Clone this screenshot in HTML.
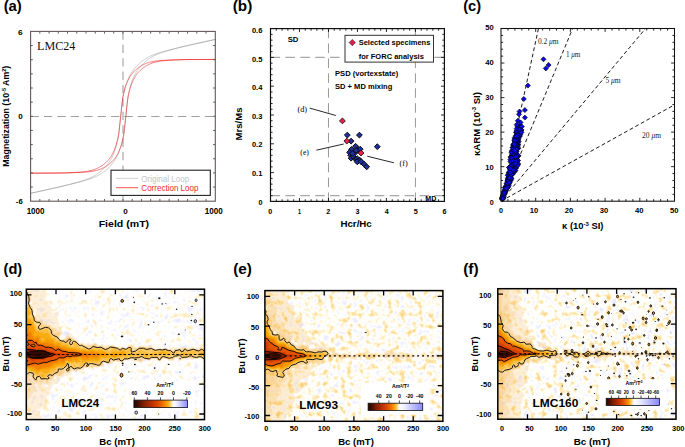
<!DOCTYPE html>
<html><head><meta charset="utf-8"><style>
html,body{margin:0;padding:0;background:#fff;overflow:hidden}
svg{display:block}
</style></head><body>
<svg width="685" height="447" viewBox="0 0 685 447">
<line x1="30.60" y1="116.50" x2="215.30" y2="116.50" stroke="#a0a0a0" stroke-width="1.1" stroke-dasharray="8.3 5.1"/>
<line x1="123.00" y1="31.40" x2="123.00" y2="201.20" stroke="#a0a0a0" stroke-width="1.1" stroke-dasharray="8.3 5.1"/>
<path d="M30.90,193.25 L33.13,192.76 L35.36,192.27 L37.59,191.77 L39.82,191.28 L42.05,190.78 L44.27,190.29 L46.50,189.79 L48.73,189.29 L50.96,188.80 L53.19,188.30 L55.42,187.80 L57.65,187.30 L59.88,186.78 L62.11,186.24 L64.34,185.68 L66.57,185.12 L68.80,184.54 L71.02,183.97 L73.25,183.39 L75.48,182.79 L77.71,182.17 L79.94,181.53 L82.17,180.86 L84.40,180.16 L86.63,179.37 L88.86,178.48 L91.09,177.49 L93.32,176.39 L95.55,175.08 L95.55,175.08 L95.82,174.91 L96.10,174.73 L96.38,174.55 L96.66,174.36 L96.94,174.17 L97.22,173.98 L97.49,173.79 L97.77,173.59 L98.05,173.39 L98.33,173.19 L98.61,172.99 L98.89,172.79 L99.16,172.58 L99.44,172.37 L99.72,172.16 L100.00,171.94 L100.28,171.72 L100.56,171.49 L100.84,171.26 L101.11,171.03 L101.39,170.79 L101.67,170.55 L101.95,170.30 L102.23,170.05 L102.51,169.79 L102.78,169.53 L103.06,169.26 L103.34,168.99 L103.62,168.71 L103.90,168.43 L104.18,168.14 L104.46,167.85 L104.73,167.55 L105.01,167.25 L105.29,166.94 L105.57,166.63 L105.85,166.31 L106.13,165.99 L106.40,165.66 L106.68,165.33 L106.96,164.99 L107.24,164.65 L107.52,164.30 L107.80,163.94 L108.07,163.58 L108.35,163.21 L108.63,162.84 L108.91,162.47 L109.19,162.08 L109.47,161.68 L109.75,161.26 L110.02,160.83 L110.30,160.38 L110.58,159.91 L110.86,159.43 L111.14,158.93 L111.42,158.42 L111.69,157.88 L111.97,157.33 L112.25,156.76 L112.53,156.17 L112.81,155.57 L113.09,154.94 L113.37,154.29 L113.64,153.63 L113.92,152.94 L114.20,152.24 L114.48,151.50 L114.76,150.74 L115.04,149.95 L115.31,149.13 L115.59,148.26 L115.87,147.36 L116.15,146.40 L116.43,145.40 L116.71,144.35 L116.99,143.25 L117.26,142.08 L117.54,140.86 L117.82,139.57 L118.10,138.21 L118.38,136.78 L118.66,135.07 L118.93,132.98 L119.21,130.62 L119.49,128.04 L119.77,125.35 L120.05,122.62 L120.33,119.94 L120.60,117.38 L120.88,114.90 L121.16,112.26 L121.44,109.54 L121.72,106.82 L122.00,104.19 L122.28,101.72 L122.55,99.51 L122.83,97.63 L123.11,96.12 L123.39,94.73 L123.67,93.41 L123.95,92.16 L124.22,90.97 L124.50,89.84 L124.78,88.76 L125.06,87.74 L125.34,86.77 L125.62,85.85 L125.90,84.96 L126.17,84.12 L126.45,83.32 L126.73,82.54 L127.01,81.80 L127.29,81.08 L127.57,80.39 L127.84,79.71 L128.12,79.06 L128.40,78.42 L128.68,77.81 L128.96,77.21 L129.24,76.64 L129.51,76.08 L129.79,75.53 L130.07,75.01 L130.35,74.51 L130.63,74.02 L130.91,73.54 L131.19,73.09 L131.46,72.65 L131.74,72.22 L132.02,71.82 L132.30,71.42 L132.58,71.04 L132.86,70.67 L133.13,70.30 L133.41,69.94 L133.69,69.58 L133.97,69.23 L134.25,68.88 L134.53,68.54 L134.81,68.20 L135.08,67.87 L135.36,67.55 L135.64,67.23 L135.92,66.91 L136.20,66.60 L136.48,66.30 L136.75,66.00 L137.03,65.71 L137.31,65.42 L137.59,65.13 L137.87,64.86 L138.15,64.58 L138.43,64.31 L138.70,64.05 L138.98,63.79 L139.26,63.53 L139.54,63.28 L139.82,63.04 L140.10,62.80 L140.37,62.56 L140.65,62.33 L140.93,62.10 L141.21,61.88 L141.49,61.66 L141.77,61.45 L142.04,61.24 L142.32,61.03 L142.60,60.82 L142.88,60.62 L143.16,60.42 L143.44,60.22 L143.72,60.02 L143.99,59.83 L144.27,59.63 L144.55,59.45 L144.83,59.26 L145.11,59.08 L145.39,58.89 L145.66,58.72 L145.94,58.54 L146.22,58.37 L146.50,58.20 L146.78,58.03 L147.06,57.87 L147.34,57.71 L147.61,57.55 L147.89,57.40 L148.17,57.25 L148.45,57.10 L148.73,56.96 L149.01,56.82 L149.28,56.68 L149.56,56.55 L149.84,56.42 L150.12,56.29 L150.40,56.16 L150.68,56.03 L150.96,55.91 L150.96,55.91 L153.18,54.95 L155.41,54.09 L157.64,53.34 L159.87,52.65 L162.10,51.99 L164.33,51.35 L166.56,50.74 L168.79,50.15 L171.02,49.57 L173.25,49.00 L175.48,48.43 L177.70,47.87 L179.93,47.32 L182.16,46.78 L184.39,46.26 L186.62,45.76 L188.85,45.27 L191.08,44.77 L193.31,44.27 L195.54,43.78 L197.77,43.28 L200.00,42.79 L202.23,42.29 L204.45,41.80 L206.68,41.30 L208.91,40.81 L211.14,40.31 L213.37,39.82 L215.60,39.33" fill="none" stroke="#8c8c8c" stroke-width="0.45"/>
<path d="M30.90,193.27 L33.13,192.78 L35.36,192.29 L37.59,191.79 L39.82,191.30 L42.05,190.80 L44.27,190.31 L46.50,189.81 L48.73,189.32 L50.96,188.82 L53.19,188.33 L55.42,187.83 L57.65,187.33 L59.88,186.84 L62.11,186.34 L64.34,185.82 L66.57,185.28 L68.80,184.73 L71.02,184.17 L73.25,183.60 L75.48,183.03 L77.71,182.45 L79.94,181.86 L82.17,181.25 L84.40,180.61 L86.63,179.95 L88.86,179.26 L91.09,178.51 L93.32,177.65 L95.55,176.69 L95.55,176.69 L95.82,176.57 L96.10,176.44 L96.38,176.31 L96.66,176.18 L96.94,176.05 L97.22,175.92 L97.49,175.78 L97.77,175.64 L98.05,175.50 L98.33,175.35 L98.61,175.20 L98.89,175.05 L99.16,174.89 L99.44,174.73 L99.72,174.57 L100.00,174.40 L100.28,174.23 L100.56,174.06 L100.84,173.88 L101.11,173.71 L101.39,173.52 L101.67,173.34 L101.95,173.15 L102.23,172.97 L102.51,172.77 L102.78,172.58 L103.06,172.38 L103.34,172.18 L103.62,171.98 L103.90,171.78 L104.18,171.57 L104.46,171.36 L104.73,171.15 L105.01,170.94 L105.29,170.72 L105.57,170.50 L105.85,170.27 L106.13,170.04 L106.40,169.80 L106.68,169.56 L106.96,169.32 L107.24,169.07 L107.52,168.81 L107.80,168.55 L108.07,168.29 L108.35,168.02 L108.63,167.74 L108.91,167.47 L109.19,167.18 L109.47,166.89 L109.75,166.60 L110.02,166.30 L110.30,166.00 L110.58,165.69 L110.86,165.37 L111.14,165.05 L111.42,164.73 L111.69,164.40 L111.97,164.06 L112.25,163.72 L112.53,163.37 L112.81,163.02 L113.09,162.66 L113.37,162.30 L113.64,161.93 L113.92,161.56 L114.20,161.18 L114.48,160.78 L114.76,160.38 L115.04,159.95 L115.31,159.51 L115.59,159.06 L115.87,158.58 L116.15,158.09 L116.43,157.59 L116.71,157.07 L116.99,156.52 L117.26,155.96 L117.54,155.39 L117.82,154.79 L118.10,154.18 L118.38,153.54 L118.66,152.89 L118.93,152.21 L119.21,151.52 L119.49,150.80 L119.77,150.06 L120.05,149.28 L120.33,148.48 L120.60,147.64 L120.88,146.75 L121.16,145.83 L121.44,144.86 L121.72,143.84 L122.00,142.76 L122.28,141.63 L122.55,140.44 L122.83,139.19 L123.11,137.87 L123.39,136.48 L123.67,134.97 L123.95,133.09 L124.22,130.88 L124.50,128.41 L124.78,125.78 L125.06,123.06 L125.34,120.34 L125.62,117.70 L125.90,115.22 L126.17,112.66 L126.45,109.98 L126.73,107.25 L127.01,104.56 L127.29,101.98 L127.57,99.62 L127.84,97.53 L128.12,95.82 L128.40,94.39 L128.68,93.03 L128.96,91.74 L129.24,90.52 L129.51,89.35 L129.79,88.25 L130.07,87.20 L130.35,86.20 L130.63,85.24 L130.91,84.34 L131.19,83.47 L131.46,82.65 L131.74,81.86 L132.02,81.10 L132.30,80.36 L132.58,79.66 L132.86,78.97 L133.13,78.31 L133.41,77.66 L133.69,77.03 L133.97,76.43 L134.25,75.84 L134.53,75.27 L134.81,74.72 L135.08,74.18 L135.36,73.67 L135.64,73.17 L135.92,72.69 L136.20,72.22 L136.48,71.77 L136.75,71.34 L137.03,70.92 L137.31,70.52 L137.59,70.13 L137.87,69.76 L138.15,69.39 L138.43,69.02 L138.70,68.66 L138.98,68.30 L139.26,67.95 L139.54,67.61 L139.82,67.27 L140.10,66.94 L140.37,66.61 L140.65,66.29 L140.93,65.97 L141.21,65.66 L141.49,65.35 L141.77,65.05 L142.04,64.75 L142.32,64.46 L142.60,64.17 L142.88,63.89 L143.16,63.61 L143.44,63.34 L143.72,63.07 L143.99,62.81 L144.27,62.55 L144.55,62.30 L144.83,62.05 L145.11,61.81 L145.39,61.57 L145.66,61.34 L145.94,61.11 L146.22,60.88 L146.50,60.66 L146.78,60.44 L147.06,60.23 L147.34,60.02 L147.61,59.81 L147.89,59.61 L148.17,59.41 L148.45,59.21 L148.73,59.01 L149.01,58.81 L149.28,58.62 L149.56,58.43 L149.84,58.24 L150.12,58.05 L150.40,57.87 L150.68,57.69 L150.96,57.52 L150.96,57.52 L153.18,56.21 L155.41,55.11 L157.64,54.12 L159.87,53.23 L162.10,52.44 L164.33,51.74 L166.56,51.07 L168.79,50.43 L171.02,49.81 L173.25,49.21 L175.48,48.63 L177.70,48.06 L179.93,47.48 L182.16,46.92 L184.39,46.36 L186.62,45.82 L188.85,45.30 L191.08,44.80 L193.31,44.30 L195.54,43.80 L197.77,43.31 L200.00,42.81 L202.23,42.31 L204.45,41.82 L206.68,41.32 L208.91,40.83 L211.14,40.33 L213.37,39.84 L215.60,39.35" fill="none" stroke="#8c8c8c" stroke-width="0.45"/>
<path d="M30.90,173.16 L33.13,173.15 L35.36,173.14 L37.59,173.13 L39.82,173.12 L42.05,173.11 L44.27,173.10 L46.50,173.09 L48.73,173.08 L50.96,173.07 L53.19,173.06 L55.42,173.04 L57.65,173.03 L59.88,172.99 L62.11,172.93 L64.34,172.86 L66.57,172.78 L68.80,172.70 L71.02,172.61 L73.25,172.51 L75.48,172.40 L77.71,172.26 L79.94,172.11 L82.17,171.92 L84.40,171.71 L86.63,171.40 L88.86,170.99 L91.09,170.50 L93.32,169.88 L95.55,169.06 L95.55,169.06 L95.82,168.94 L96.10,168.82 L96.38,168.70 L96.66,168.57 L96.94,168.45 L97.22,168.32 L97.49,168.18 L97.77,168.05 L98.05,167.91 L98.33,167.77 L98.61,167.63 L98.89,167.48 L99.16,167.34 L99.44,167.19 L99.72,167.04 L100.00,166.88 L100.28,166.72 L100.56,166.56 L100.84,166.39 L101.11,166.21 L101.39,166.04 L101.67,165.85 L101.95,165.66 L102.23,165.47 L102.51,165.28 L102.78,165.07 L103.06,164.87 L103.34,164.66 L103.62,164.44 L103.90,164.22 L104.18,163.99 L104.46,163.76 L104.73,163.52 L105.01,163.28 L105.29,163.04 L105.57,162.78 L105.85,162.53 L106.13,162.27 L106.40,162.00 L106.68,161.72 L106.96,161.45 L107.24,161.16 L107.52,160.87 L107.80,160.58 L108.07,160.28 L108.35,159.97 L108.63,159.66 L108.91,159.35 L109.19,159.02 L109.47,158.68 L109.75,158.32 L110.02,157.95 L110.30,157.56 L110.58,157.16 L110.86,156.73 L111.14,156.30 L111.42,155.84 L111.69,155.37 L111.97,154.88 L112.25,154.37 L112.53,153.84 L112.81,153.29 L113.09,152.73 L113.37,152.14 L113.64,151.54 L113.92,150.91 L114.20,150.27 L114.48,149.60 L114.76,148.90 L115.04,148.17 L115.31,147.40 L115.59,146.60 L115.87,145.75 L116.15,144.86 L116.43,143.92 L116.71,142.93 L116.99,141.88 L117.26,140.78 L117.54,139.62 L117.82,138.39 L118.10,137.09 L118.38,135.72 L118.66,134.07 L118.93,132.05 L119.21,129.74 L119.49,127.23 L119.77,124.59 L120.05,121.93 L120.33,119.30 L120.60,116.81 L120.88,114.38 L121.16,111.80 L121.44,109.14 L121.72,106.49 L122.00,103.91 L122.28,101.51 L122.55,99.36 L122.83,97.54 L123.11,96.09 L123.39,94.76 L123.67,93.50 L123.95,92.31 L124.22,91.18 L124.50,90.11 L124.78,89.10 L125.06,88.14 L125.34,87.22 L125.62,86.36 L125.90,85.54 L126.17,84.76 L126.45,84.01 L126.73,83.30 L127.01,82.62 L127.29,81.96 L127.57,81.33 L127.84,80.71 L128.12,80.12 L128.40,79.55 L128.68,78.99 L128.96,78.45 L129.24,77.94 L129.51,77.44 L129.79,76.96 L130.07,76.50 L130.35,76.05 L130.63,75.62 L130.91,75.21 L131.19,74.82 L131.46,74.44 L131.74,74.07 L132.02,73.72 L132.30,73.39 L132.58,73.07 L132.86,72.76 L133.13,72.45 L133.41,72.15 L133.69,71.85 L133.97,71.56 L134.25,71.27 L134.53,70.99 L134.81,70.72 L135.08,70.45 L135.36,70.18 L135.64,69.92 L135.92,69.67 L136.20,69.42 L136.48,69.18 L136.75,68.94 L137.03,68.71 L137.31,68.48 L137.59,68.25 L137.87,68.04 L138.15,67.82 L138.43,67.61 L138.70,67.41 L138.98,67.21 L139.26,67.02 L139.54,66.83 L139.82,66.64 L140.10,66.46 L140.37,66.29 L140.65,66.12 L140.93,65.95 L141.21,65.79 L141.49,65.63 L141.77,65.48 L142.04,65.33 L142.32,65.18 L142.60,65.03 L142.88,64.89 L143.16,64.75 L143.44,64.61 L143.72,64.47 L143.99,64.34 L144.27,64.21 L144.55,64.08 L144.83,63.95 L145.11,63.83 L145.39,63.71 L145.66,63.59 L145.94,63.48 L146.22,63.37 L146.50,63.26 L146.78,63.15 L147.06,63.05 L147.34,62.95 L147.61,62.85 L147.89,62.76 L148.17,62.67 L148.45,62.58 L148.73,62.50 L149.01,62.42 L149.28,62.34 L149.56,62.27 L149.84,62.20 L150.12,62.13 L150.40,62.07 L150.68,62.00 L150.96,61.94 L150.96,61.94 L153.18,61.47 L155.41,61.09 L157.64,60.82 L159.87,60.61 L162.10,60.44 L164.33,60.29 L166.56,60.17 L168.79,60.06 L171.02,59.96 L173.25,59.87 L175.48,59.79 L177.70,59.71 L179.93,59.65 L182.16,59.60 L184.39,59.57 L186.62,59.55 L188.85,59.54 L191.08,59.53 L193.31,59.52 L195.54,59.50 L197.77,59.49 L200.00,59.48 L202.23,59.47 L204.45,59.46 L206.68,59.45 L208.91,59.44 L211.14,59.44 L213.37,59.43 L215.60,59.42" fill="none" stroke="#ee1212" stroke-width="0.55"/>
<path d="M30.90,173.18 L33.13,173.17 L35.36,173.16 L37.59,173.16 L39.82,173.15 L42.05,173.14 L44.27,173.13 L46.50,173.12 L48.73,173.11 L50.96,173.10 L53.19,173.08 L55.42,173.07 L57.65,173.06 L59.88,173.05 L62.11,173.03 L64.34,173.00 L66.57,172.95 L68.80,172.89 L71.02,172.81 L73.25,172.73 L75.48,172.64 L77.71,172.54 L79.94,172.43 L82.17,172.31 L84.40,172.16 L86.63,171.99 L88.86,171.78 L91.09,171.51 L93.32,171.13 L95.55,170.66 L95.55,170.66 L95.82,170.60 L96.10,170.53 L96.38,170.47 L96.66,170.40 L96.94,170.33 L97.22,170.26 L97.49,170.18 L97.77,170.10 L98.05,170.02 L98.33,169.93 L98.61,169.84 L98.89,169.75 L99.16,169.65 L99.44,169.55 L99.72,169.45 L100.00,169.34 L100.28,169.23 L100.56,169.12 L100.84,169.01 L101.11,168.89 L101.39,168.77 L101.67,168.65 L101.95,168.52 L102.23,168.39 L102.51,168.26 L102.78,168.13 L103.06,167.99 L103.34,167.85 L103.62,167.71 L103.90,167.57 L104.18,167.42 L104.46,167.27 L104.73,167.12 L105.01,166.97 L105.29,166.81 L105.57,166.65 L105.85,166.48 L106.13,166.31 L106.40,166.14 L106.68,165.96 L106.96,165.77 L107.24,165.58 L107.52,165.39 L107.80,165.19 L108.07,164.99 L108.35,164.78 L108.63,164.56 L108.91,164.35 L109.19,164.12 L109.47,163.89 L109.75,163.66 L110.02,163.42 L110.30,163.18 L110.58,162.93 L110.86,162.68 L111.14,162.42 L111.42,162.15 L111.69,161.88 L111.97,161.61 L112.25,161.33 L112.53,161.04 L112.81,160.75 L113.09,160.45 L113.37,160.15 L113.64,159.84 L113.92,159.53 L114.20,159.21 L114.48,158.88 L114.76,158.53 L115.04,158.16 L115.31,157.78 L115.59,157.39 L115.87,156.98 L116.15,156.55 L116.43,156.10 L116.71,155.64 L116.99,155.16 L117.26,154.66 L117.54,154.15 L117.82,153.61 L118.10,153.05 L118.38,152.48 L118.66,151.89 L118.93,151.27 L119.21,150.64 L119.49,149.98 L119.77,149.30 L120.05,148.59 L120.33,147.84 L120.60,147.06 L120.88,146.24 L121.16,145.38 L121.44,144.46 L121.72,143.50 L122.00,142.49 L122.28,141.42 L122.55,140.29 L122.83,139.10 L123.11,137.84 L123.39,136.51 L123.67,135.06 L123.95,133.24 L124.22,131.09 L124.50,128.69 L124.78,126.11 L125.06,123.46 L125.34,120.80 L125.62,118.22 L125.90,115.79 L126.17,113.30 L126.45,110.67 L126.73,108.01 L127.01,105.37 L127.29,102.86 L127.57,100.55 L127.84,98.53 L128.12,96.88 L128.40,95.51 L128.68,94.21 L128.96,92.98 L129.24,91.82 L129.51,90.72 L129.79,89.67 L130.07,88.68 L130.35,87.74 L130.63,86.85 L130.91,86.00 L131.19,85.20 L131.46,84.43 L131.74,83.70 L132.02,83.00 L132.30,82.33 L132.58,81.69 L132.86,81.06 L133.13,80.46 L133.41,79.87 L133.69,79.31 L133.97,78.76 L134.25,78.23 L134.53,77.72 L134.81,77.23 L135.08,76.76 L135.36,76.30 L135.64,75.87 L135.92,75.44 L136.20,75.04 L136.48,74.65 L136.75,74.28 L137.03,73.92 L137.31,73.58 L137.59,73.25 L137.87,72.94 L138.15,72.63 L138.43,72.32 L138.70,72.02 L138.98,71.73 L139.26,71.44 L139.54,71.15 L139.82,70.88 L140.10,70.60 L140.37,70.33 L140.65,70.07 L140.93,69.82 L141.21,69.56 L141.49,69.32 L141.77,69.08 L142.04,68.84 L142.32,68.61 L142.60,68.38 L142.88,68.16 L143.16,67.94 L143.44,67.73 L143.72,67.53 L143.99,67.32 L144.27,67.13 L144.55,66.94 L144.83,66.75 L145.11,66.56 L145.39,66.39 L145.66,66.21 L145.94,66.04 L146.22,65.88 L146.50,65.72 L146.78,65.56 L147.06,65.41 L147.34,65.26 L147.61,65.12 L147.89,64.97 L148.17,64.83 L148.45,64.69 L148.73,64.55 L149.01,64.42 L149.28,64.28 L149.56,64.15 L149.84,64.03 L150.12,63.90 L150.40,63.78 L150.68,63.66 L150.96,63.54 L150.96,63.54 L153.18,62.72 L155.41,62.10 L157.64,61.61 L159.87,61.20 L162.10,60.89 L164.33,60.68 L166.56,60.49 L168.79,60.34 L171.02,60.20 L173.25,60.09 L175.48,59.99 L177.70,59.90 L179.93,59.82 L182.16,59.74 L184.39,59.67 L186.62,59.61 L188.85,59.57 L191.08,59.56 L193.31,59.54 L195.54,59.53 L197.77,59.52 L200.00,59.51 L202.23,59.50 L204.45,59.49 L206.68,59.48 L208.91,59.47 L211.14,59.46 L213.37,59.45 L215.60,59.44" fill="none" stroke="#ee1212" stroke-width="0.55"/>
<rect x="30.6" y="31.4" width="184.70" height="169.80" fill="none" stroke="#645858" stroke-width="1.1"/>
<path d="M39.84,31.4 v2.2 M39.84,201.2 v-2.2 M49.07,31.4 v2.2 M49.07,201.2 v-2.2 M58.31,31.4 v2.2 M58.31,201.2 v-2.2 M67.54,31.4 v2.2 M67.54,201.2 v-2.2 M76.78,31.4 v2.2 M76.78,201.2 v-2.2 M86.01,31.4 v2.2 M86.01,201.2 v-2.2 M95.25,31.4 v2.2 M95.25,201.2 v-2.2 M104.48,31.4 v2.2 M104.48,201.2 v-2.2 M113.72,31.4 v2.2 M113.72,201.2 v-2.2 M122.95,31.4 v2.2 M122.95,201.2 v-2.2 M132.19,31.4 v2.2 M132.19,201.2 v-2.2 M141.42,31.4 v2.2 M141.42,201.2 v-2.2 M150.66,31.4 v2.2 M150.66,201.2 v-2.2 M159.89,31.4 v2.2 M159.89,201.2 v-2.2 M169.13,31.4 v2.2 M169.13,201.2 v-2.2 M178.36,31.4 v2.2 M178.36,201.2 v-2.2 M187.59,31.4 v2.2 M187.59,201.2 v-2.2 M196.83,31.4 v2.2 M196.83,201.2 v-2.2 M206.06,31.4 v2.2 M206.06,201.2 v-2.2 M30.6,45.55 h2.2 M215.3,45.55 h-2.2 M30.6,59.70 h2.2 M215.3,59.70 h-2.2 M30.6,73.85 h2.2 M215.3,73.85 h-2.2 M30.6,88.00 h2.2 M215.3,88.00 h-2.2 M30.6,102.15 h2.2 M215.3,102.15 h-2.2 M30.6,116.30 h2.2 M215.3,116.30 h-2.2 M30.6,130.45 h2.2 M215.3,130.45 h-2.2 M30.6,144.60 h2.2 M215.3,144.60 h-2.2 M30.6,158.75 h2.2 M215.3,158.75 h-2.2 M30.6,172.90 h2.2 M215.3,172.90 h-2.2 M30.6,187.05 h2.2 M215.3,187.05 h-2.2" stroke="#645858" stroke-width="1" fill="none"/>
<rect x="111" y="170.2" width="99.3" height="25.2" fill="#fff" stroke="#222" stroke-width="1.1"/>
<line x1="116.10" y1="178.40" x2="138.20" y2="178.40" stroke="#c8c8c8" stroke-width="0.8"/>
<line x1="116.10" y1="187.70" x2="138.20" y2="187.70" stroke="#f42828" stroke-width="0.8"/>
<text x="141.35" y="181.60" font-size="8.80" font-weight="normal" fill="#c4c4c4" text-anchor="start" style="font-family:'Liberation Sans',sans-serif" textLength="47.80" lengthAdjust="spacingAndGlyphs">Original Loop</text>
<text x="141.35" y="191.20" font-size="8.94" font-weight="normal" fill="#f42828" text-anchor="start" style="font-family:'Liberation Sans',sans-serif" textLength="57.10" lengthAdjust="spacingAndGlyphs">Correction Loop</text>
<text x="37.05" y="50.40" font-size="11.63" font-weight="normal" fill="#111" text-anchor="start" style="font-family:'Liberation Serif',serif" textLength="38.20" lengthAdjust="spacingAndGlyphs">LMC24</text>
<text x="18.05" y="35.00" font-size="6.42" font-weight="bold" fill="#000" text-anchor="start" style="font-family:'Liberation Sans',sans-serif" textLength="4.70" lengthAdjust="spacingAndGlyphs">6</text>
<text x="18.25" y="118.90" font-size="6.42" font-weight="bold" fill="#000" text-anchor="start" style="font-family:'Liberation Sans',sans-serif" textLength="4.50" lengthAdjust="spacingAndGlyphs">0</text>
<text x="15.85" y="203.60" font-size="6.70" font-weight="bold" fill="#000" text-anchor="start" style="font-family:'Liberation Sans',sans-serif" textLength="6.80" lengthAdjust="spacingAndGlyphs">-6</text>
<text x="26.65" y="213.70" font-size="8.24" font-weight="bold" fill="#000" text-anchor="start" style="font-family:'Liberation Sans',sans-serif" textLength="17.90" lengthAdjust="spacingAndGlyphs">1000</text>
<text x="123.15" y="213.60" font-size="6.42" font-weight="bold" fill="#000" text-anchor="start" style="font-family:'Liberation Sans',sans-serif" textLength="4.50" lengthAdjust="spacingAndGlyphs">0</text>
<text x="204.65" y="213.70" font-size="8.24" font-weight="bold" fill="#000" text-anchor="start" style="font-family:'Liberation Sans',sans-serif" textLength="18.10" lengthAdjust="spacingAndGlyphs">1000</text>
<text x="98.65" y="226.80" font-size="8.94" font-weight="bold" fill="#000" text-anchor="start" style="font-family:'Liberation Sans',sans-serif" textLength="50.50" lengthAdjust="spacingAndGlyphs">Field (mT)</text>
<text x="0" y="0" transform="translate(9.30 116.20) rotate(-90)" font-size="9.50" font-weight="bold" text-anchor="middle" style="font-family:'Liberation Sans',sans-serif" textLength="101.00" lengthAdjust="spacingAndGlyphs">Magnetization (10<tspan font-size="6" dy="-3.3">-5</tspan><tspan dy="3.3"> Am</tspan><tspan font-size="6" dy="-3.3">2</tspan><tspan dy="3.3">)</tspan></text>
<text x="3.65" y="10.90" font-size="14.38" font-weight="bold" fill="#000" text-anchor="start" style="font-family:'Liberation Sans',sans-serif" textLength="18.20" lengthAdjust="spacingAndGlyphs">(a)</text>
<line x1="270.50" y1="57.40" x2="444.40" y2="57.40" stroke="#a8a8a8" stroke-width="1.1" stroke-dasharray="9.6 5.3"/>
<line x1="270.50" y1="195.64" x2="444.40" y2="195.64" stroke="#a8a8a8" stroke-width="1.1" stroke-dasharray="9.6 5.3"/>
<line x1="328.47" y1="28.60" x2="328.47" y2="201.40" stroke="#8c8c8c" stroke-width="0.9" stroke-dasharray="9.6 5.3"/>
<line x1="415.42" y1="28.60" x2="415.42" y2="201.40" stroke="#8c8c8c" stroke-width="0.9" stroke-dasharray="9.6 5.3"/>
<rect x="270.5" y="28.6" width="173.90" height="172.80" fill="none" stroke="#111" stroke-width="1.2"/>
<path d="M276.30,28.6 v2.1 M276.30,201.4 v-2.1 M282.09,28.6 v2.1 M282.09,201.4 v-2.1 M287.89,28.6 v2.1 M287.89,201.4 v-2.1 M293.69,28.6 v2.1 M293.69,201.4 v-2.1 M299.48,28.6 v3.4 M299.48,201.4 v-3.4 M305.28,28.6 v2.1 M305.28,201.4 v-2.1 M311.08,28.6 v2.1 M311.08,201.4 v-2.1 M316.87,28.6 v2.1 M316.87,201.4 v-2.1 M322.67,28.6 v2.1 M322.67,201.4 v-2.1 M328.47,28.6 v3.4 M328.47,201.4 v-3.4 M334.26,28.6 v2.1 M334.26,201.4 v-2.1 M340.06,28.6 v2.1 M340.06,201.4 v-2.1 M345.86,28.6 v2.1 M345.86,201.4 v-2.1 M351.65,28.6 v2.1 M351.65,201.4 v-2.1 M357.45,28.6 v3.4 M357.45,201.4 v-3.4 M363.25,28.6 v2.1 M363.25,201.4 v-2.1 M369.04,28.6 v2.1 M369.04,201.4 v-2.1 M374.84,28.6 v2.1 M374.84,201.4 v-2.1 M380.64,28.6 v2.1 M380.64,201.4 v-2.1 M386.43,28.6 v3.4 M386.43,201.4 v-3.4 M392.23,28.6 v2.1 M392.23,201.4 v-2.1 M398.03,28.6 v2.1 M398.03,201.4 v-2.1 M403.82,28.6 v2.1 M403.82,201.4 v-2.1 M409.62,28.6 v2.1 M409.62,201.4 v-2.1 M415.42,28.6 v3.4 M415.42,201.4 v-3.4 M421.21,28.6 v2.1 M421.21,201.4 v-2.1 M427.01,28.6 v2.1 M427.01,201.4 v-2.1 M432.81,28.6 v2.1 M432.81,201.4 v-2.1 M438.60,28.6 v2.1 M438.60,201.4 v-2.1 M270.5,195.64 h2.1 M444.4,195.64 h-2.1 M270.5,189.88 h2.1 M444.4,189.88 h-2.1 M270.5,184.12 h2.1 M444.4,184.12 h-2.1 M270.5,178.36 h2.1 M444.4,178.36 h-2.1 M270.5,172.60 h3.4 M444.4,172.60 h-3.4 M270.5,166.84 h2.1 M444.4,166.84 h-2.1 M270.5,161.08 h2.1 M444.4,161.08 h-2.1 M270.5,155.32 h2.1 M444.4,155.32 h-2.1 M270.5,149.56 h2.1 M444.4,149.56 h-2.1 M270.5,143.80 h3.4 M444.4,143.80 h-3.4 M270.5,138.04 h2.1 M444.4,138.04 h-2.1 M270.5,132.28 h2.1 M444.4,132.28 h-2.1 M270.5,126.52 h2.1 M444.4,126.52 h-2.1 M270.5,120.76 h2.1 M444.4,120.76 h-2.1 M270.5,115.00 h3.4 M444.4,115.00 h-3.4 M270.5,109.24 h2.1 M444.4,109.24 h-2.1 M270.5,103.48 h2.1 M444.4,103.48 h-2.1 M270.5,97.72 h2.1 M444.4,97.72 h-2.1 M270.5,91.96 h2.1 M444.4,91.96 h-2.1 M270.5,86.20 h3.4 M444.4,86.20 h-3.4 M270.5,80.44 h2.1 M444.4,80.44 h-2.1 M270.5,74.68 h2.1 M444.4,74.68 h-2.1 M270.5,68.92 h2.1 M444.4,68.92 h-2.1 M270.5,63.16 h2.1 M444.4,63.16 h-2.1 M270.5,57.40 h3.4 M444.4,57.40 h-3.4 M270.5,51.64 h2.1 M444.4,51.64 h-2.1 M270.5,45.88 h2.1 M444.4,45.88 h-2.1 M270.5,40.12 h2.1 M444.4,40.12 h-2.1 M270.5,34.36 h2.1 M444.4,34.36 h-2.1" stroke="#111" stroke-width="0.9" fill="none"/>
<rect x="345" y="35.3" width="88.5" height="26.8" fill="#fff" stroke="#333" stroke-width="1"/>
<path d="M352.3,39.4 L355.5,42.6 L352.3,45.8 L349.1,42.6 Z" fill="#d8204a" stroke="#222" stroke-width="0.6"/>
<text x="358.65" y="45.30" font-size="7.54" font-weight="bold" fill="#000" text-anchor="start" style="font-family:'Liberation Sans',sans-serif" textLength="71.70" lengthAdjust="spacingAndGlyphs">Selected specimens</text>
<text x="358.65" y="58.50" font-size="7.54" font-weight="bold" fill="#000" text-anchor="start" style="font-family:'Liberation Sans',sans-serif" textLength="65.20" lengthAdjust="spacingAndGlyphs">for FORC analysis</text>
<text x="287.65" y="42.30" font-size="6.98" font-weight="bold" fill="#000" text-anchor="start" style="font-family:'Liberation Sans',sans-serif" textLength="10.70" lengthAdjust="spacingAndGlyphs">SD</text>
<text x="335.05" y="76.20" font-size="7.82" font-weight="bold" fill="#000" text-anchor="start" style="font-family:'Liberation Sans',sans-serif" textLength="63.20" lengthAdjust="spacingAndGlyphs">PSD (vortexstate)</text>
<text x="335.05" y="89.00" font-size="7.82" font-weight="bold" fill="#000" text-anchor="start" style="font-family:'Liberation Sans',sans-serif" textLength="57.20" lengthAdjust="spacingAndGlyphs">SD + MD mixing</text>
<text x="425.25" y="200.90" font-size="7.96" font-weight="bold" fill="#000" text-anchor="start" style="font-family:'Liberation Sans',sans-serif" textLength="11.00" lengthAdjust="spacingAndGlyphs">MD</text>
<text x="297.45" y="112.00" font-size="8.09" font-weight="normal" fill="#000" text-anchor="start" style="font-family:'Liberation Serif',serif" textLength="9.70" lengthAdjust="spacingAndGlyphs">(d)</text>
<text x="300.35" y="154.60" font-size="8.09" font-weight="normal" fill="#000" text-anchor="start" style="font-family:'Liberation Serif',serif" textLength="8.50" lengthAdjust="spacingAndGlyphs">(e)</text>
<text x="399.45" y="166.30" font-size="8.09" font-weight="normal" fill="#000" text-anchor="start" style="font-family:'Liberation Serif',serif" textLength="8.20" lengthAdjust="spacingAndGlyphs">(f)</text>
<line x1="309.70" y1="108.10" x2="335.90" y2="115.50" stroke="#111" stroke-width="0.9"/>
<line x1="316.40" y1="150.20" x2="343.70" y2="144.00" stroke="#111" stroke-width="0.9"/>
<line x1="367.20" y1="156.20" x2="393.90" y2="162.80" stroke="#111" stroke-width="0.9"/>
<path d="M347.3,132.2 l2.9,2.9 l-2.9,2.9 l-2.9,-2.9 Z" fill="#1e30a0" stroke="#0a0a0a" stroke-width="1.0"/>
<path d="M359.4,132.2 l2.9,2.9 l-2.9,2.9 l-2.9,-2.9 Z" fill="#1e30a0" stroke="#0a0a0a" stroke-width="1.0"/>
<path d="M351.1,138.2 l2.9,2.9 l-2.9,2.9 l-2.9,-2.9 Z" fill="#1e30a0" stroke="#0a0a0a" stroke-width="1.0"/>
<path d="M377.3,143.8 l2.9,2.9 l-2.9,2.9 l-2.9,-2.9 Z" fill="#1e30a0" stroke="#0a0a0a" stroke-width="1.0"/>
<path d="M355.6,143.4 l2.9,2.9 l-2.9,2.9 l-2.9,-2.9 Z" fill="#1e30a0" stroke="#0a0a0a" stroke-width="1.0"/>
<path d="M351.6,146.5 l2.9,2.9 l-2.9,2.9 l-2.9,-2.9 Z" fill="#1e30a0" stroke="#0a0a0a" stroke-width="1.0"/>
<path d="M358.2,146.5 l2.9,2.9 l-2.9,2.9 l-2.9,-2.9 Z" fill="#1e30a0" stroke="#0a0a0a" stroke-width="1.0"/>
<path d="M360.2,146.3 l2.9,2.9 l-2.9,2.9 l-2.9,-2.9 Z" fill="#1e30a0" stroke="#0a0a0a" stroke-width="1.0"/>
<path d="M349.6,149.5 l2.9,2.9 l-2.9,2.9 l-2.9,-2.9 Z" fill="#1e30a0" stroke="#0a0a0a" stroke-width="1.0"/>
<path d="M355.1,149.8 l2.9,2.9 l-2.9,2.9 l-2.9,-2.9 Z" fill="#1e30a0" stroke="#0a0a0a" stroke-width="1.0"/>
<path d="M350.6,152.3 l2.9,2.9 l-2.9,2.9 l-2.9,-2.9 Z" fill="#1e30a0" stroke="#0a0a0a" stroke-width="1.0"/>
<path d="M351.1,155.3 l2.9,2.9 l-2.9,2.9 l-2.9,-2.9 Z" fill="#1e30a0" stroke="#0a0a0a" stroke-width="1.0"/>
<path d="M354.6,155.3 l2.9,2.9 l-2.9,2.9 l-2.9,-2.9 Z" fill="#1e30a0" stroke="#0a0a0a" stroke-width="1.0"/>
<path d="M357.2,155.8 l2.9,2.9 l-2.9,2.9 l-2.9,-2.9 Z" fill="#1e30a0" stroke="#0a0a0a" stroke-width="1.0"/>
<path d="M358.2,157.8 l2.9,2.9 l-2.9,2.9 l-2.9,-2.9 Z" fill="#1e30a0" stroke="#0a0a0a" stroke-width="1.0"/>
<path d="M359.7,157.3 l2.9,2.9 l-2.9,2.9 l-2.9,-2.9 Z" fill="#1e30a0" stroke="#0a0a0a" stroke-width="1.0"/>
<path d="M363.7,160.9 l2.9,2.9 l-2.9,2.9 l-2.9,-2.9 Z" fill="#1e30a0" stroke="#0a0a0a" stroke-width="1.0"/>
<path d="M366.7,163.9 l2.9,2.9 l-2.9,2.9 l-2.9,-2.9 Z" fill="#1e30a0" stroke="#0a0a0a" stroke-width="1.0"/>
<path d="M357.2,158.9 l2.9,2.9 l-2.9,2.9 l-2.9,-2.9 Z" fill="#1e30a0" stroke="#0a0a0a" stroke-width="1.0"/>
<path d="M353.0,153.1 l2.9,2.9 l-2.9,2.9 l-2.9,-2.9 Z" fill="#1e30a0" stroke="#0a0a0a" stroke-width="1.0"/>
<path d="M361.0,158.6 l2.9,2.9 l-2.9,2.9 l-2.9,-2.9 Z" fill="#1e30a0" stroke="#0a0a0a" stroke-width="1.0"/>
<path d="M356.0,147.6 l2.9,2.9 l-2.9,2.9 l-2.9,-2.9 Z" fill="#1e30a0" stroke="#0a0a0a" stroke-width="1.0"/>
<path d="M352.5,150.6 l2.9,2.9 l-2.9,2.9 l-2.9,-2.9 Z" fill="#1e30a0" stroke="#0a0a0a" stroke-width="1.0"/>
<path d="M342.4,118.0 l2.9,2.9 l-2.9,2.9 l-2.9,-2.9 Z" fill="#f0204c" stroke="#1a0a0a" stroke-width="0.9"/>
<path d="M346.8,138.2 l2.9,2.9 l-2.9,2.9 l-2.9,-2.9 Z" fill="#f0204c" stroke="#1a0a0a" stroke-width="0.9"/>
<path d="M361.0,150.1 l2.9,2.9 l-2.9,2.9 l-2.9,-2.9 Z" fill="#f0204c" stroke="#1a0a0a" stroke-width="0.9"/>
<text x="258.40" y="204.53" font-size="6.50" font-weight="bold" fill="#000" text-anchor="start" style="font-family:'Liberation Sans',sans-serif" textLength="4.00" lengthAdjust="spacingAndGlyphs">0</text>
<text x="251.90" y="175.98" font-size="6.50" font-weight="bold" fill="#000" text-anchor="start" style="font-family:'Liberation Sans',sans-serif" textLength="10.50" lengthAdjust="spacingAndGlyphs">0.1</text>
<text x="251.90" y="147.43" font-size="6.50" font-weight="bold" fill="#000" text-anchor="start" style="font-family:'Liberation Sans',sans-serif" textLength="10.50" lengthAdjust="spacingAndGlyphs">0.2</text>
<text x="251.90" y="118.88" font-size="6.50" font-weight="bold" fill="#000" text-anchor="start" style="font-family:'Liberation Sans',sans-serif" textLength="10.50" lengthAdjust="spacingAndGlyphs">0.3</text>
<text x="251.90" y="90.33" font-size="6.50" font-weight="bold" fill="#000" text-anchor="start" style="font-family:'Liberation Sans',sans-serif" textLength="10.50" lengthAdjust="spacingAndGlyphs">0.4</text>
<text x="251.90" y="61.78" font-size="6.50" font-weight="bold" fill="#000" text-anchor="start" style="font-family:'Liberation Sans',sans-serif" textLength="10.50" lengthAdjust="spacingAndGlyphs">0.5</text>
<text x="251.90" y="33.23" font-size="6.50" font-weight="bold" fill="#000" text-anchor="start" style="font-family:'Liberation Sans',sans-serif" textLength="10.50" lengthAdjust="spacingAndGlyphs">0.6</text>
<text x="268.30" y="213.63" font-size="6.50" font-weight="bold" fill="#000" text-anchor="start" style="font-family:'Liberation Sans',sans-serif" textLength="4.00" lengthAdjust="spacingAndGlyphs">0</text>
<text x="298.00" y="213.63" font-size="6.50" font-weight="bold" fill="#000" text-anchor="start" style="font-family:'Liberation Sans',sans-serif" textLength="3.00" lengthAdjust="spacingAndGlyphs">1</text>
<text x="326.20" y="213.63" font-size="6.50" font-weight="bold" fill="#000" text-anchor="start" style="font-family:'Liberation Sans',sans-serif" textLength="4.00" lengthAdjust="spacingAndGlyphs">2</text>
<text x="355.40" y="213.63" font-size="6.50" font-weight="bold" fill="#000" text-anchor="start" style="font-family:'Liberation Sans',sans-serif" textLength="4.00" lengthAdjust="spacingAndGlyphs">3</text>
<text x="384.70" y="213.63" font-size="6.50" font-weight="bold" fill="#000" text-anchor="start" style="font-family:'Liberation Sans',sans-serif" textLength="4.00" lengthAdjust="spacingAndGlyphs">4</text>
<text x="413.70" y="213.63" font-size="6.50" font-weight="bold" fill="#000" text-anchor="start" style="font-family:'Liberation Sans',sans-serif" textLength="4.00" lengthAdjust="spacingAndGlyphs">5</text>
<text x="442.50" y="213.63" font-size="6.50" font-weight="bold" fill="#000" text-anchor="start" style="font-family:'Liberation Sans',sans-serif" textLength="4.00" lengthAdjust="spacingAndGlyphs">6</text>
<text x="340.45" y="227.10" font-size="9.36" font-weight="bold" fill="#000" text-anchor="start" style="font-family:'Liberation Sans',sans-serif" textLength="31.30" lengthAdjust="spacingAndGlyphs">Hcr/Hc</text>
<text x="0" y="0" transform="translate(242.40 124.00) rotate(-90)" font-size="9.60" font-weight="bold" text-anchor="middle" style="font-family:'Liberation Sans',sans-serif" textLength="32.90" lengthAdjust="spacingAndGlyphs">Mrs/Ms</text>
<text x="232.75" y="10.90" font-size="14.38" font-weight="bold" fill="#000" text-anchor="start" style="font-family:'Liberation Sans',sans-serif" textLength="19.50" lengthAdjust="spacingAndGlyphs">(b)</text>
<clipPath id="clipc"><rect x="501.0" y="28.5" width="173.5" height="172.7"/></clipPath>
<g clip-path="url(#clipc)">
<line x1="501.00" y1="201.20" x2="538.48" y2="28.50" stroke="#1a1a1a" stroke-width="1.0" stroke-dasharray="3.8 2.6"/>
<line x1="501.00" y1="201.20" x2="572.67" y2="28.50" stroke="#1a1a1a" stroke-width="1.0" stroke-dasharray="3.8 2.6"/>
<line x1="501.00" y1="201.20" x2="645.55" y2="28.50" stroke="#1a1a1a" stroke-width="1.0" stroke-dasharray="3.8 2.6"/>
<line x1="501.00" y1="201.20" x2="674.50" y2="104.81" stroke="#1a1a1a" stroke-width="1.0" stroke-dasharray="3.8 2.6"/>
</g>
<g fill="#0a0ae8" stroke="#020214" stroke-width="0.7">
<path d="M517.6,153.3l2.5,2.5l-2.5,2.5l-2.5,-2.5z"/>
<path d="M514.3,141.3l2.5,2.5l-2.5,2.5l-2.5,-2.5z"/>
<path d="M510.4,177.8l2.5,2.5l-2.5,2.5l-2.5,-2.5z"/>
<path d="M502.5,196.8l2.5,2.5l-2.5,2.5l-2.5,-2.5z"/>
<path d="M516.0,139.6l2.5,2.5l-2.5,2.5l-2.5,-2.5z"/>
<path d="M508.0,177.6l2.5,2.5l-2.5,2.5l-2.5,-2.5z"/>
<path d="M507.8,181.0l2.5,2.5l-2.5,2.5l-2.5,-2.5z"/>
<path d="M514.5,162.6l2.5,2.5l-2.5,2.5l-2.5,-2.5z"/>
<path d="M520.1,123.4l2.5,2.5l-2.5,2.5l-2.5,-2.5z"/>
<path d="M518.4,153.5l2.5,2.5l-2.5,2.5l-2.5,-2.5z"/>
<path d="M506.2,183.7l2.5,2.5l-2.5,2.5l-2.5,-2.5z"/>
<path d="M510.8,154.3l2.5,2.5l-2.5,2.5l-2.5,-2.5z"/>
<path d="M502.7,195.2l2.5,2.5l-2.5,2.5l-2.5,-2.5z"/>
<path d="M516.2,165.5l2.5,2.5l-2.5,2.5l-2.5,-2.5z"/>
<path d="M514.7,153.0l2.5,2.5l-2.5,2.5l-2.5,-2.5z"/>
<path d="M511.5,163.2l2.5,2.5l-2.5,2.5l-2.5,-2.5z"/>
<path d="M502.1,196.5l2.5,2.5l-2.5,2.5l-2.5,-2.5z"/>
<path d="M512.8,148.0l2.5,2.5l-2.5,2.5l-2.5,-2.5z"/>
<path d="M507.7,172.7l2.5,2.5l-2.5,2.5l-2.5,-2.5z"/>
<path d="M514.8,136.9l2.5,2.5l-2.5,2.5l-2.5,-2.5z"/>
<path d="M509.6,180.1l2.5,2.5l-2.5,2.5l-2.5,-2.5z"/>
<path d="M517.2,162.2l2.5,2.5l-2.5,2.5l-2.5,-2.5z"/>
<path d="M516.4,152.1l2.5,2.5l-2.5,2.5l-2.5,-2.5z"/>
<path d="M503.7,191.9l2.5,2.5l-2.5,2.5l-2.5,-2.5z"/>
<path d="M517.4,162.4l2.5,2.5l-2.5,2.5l-2.5,-2.5z"/>
<path d="M510.6,173.3l2.5,2.5l-2.5,2.5l-2.5,-2.5z"/>
<path d="M503.0,193.9l2.5,2.5l-2.5,2.5l-2.5,-2.5z"/>
<path d="M507.8,176.1l2.5,2.5l-2.5,2.5l-2.5,-2.5z"/>
<path d="M515.8,138.0l2.5,2.5l-2.5,2.5l-2.5,-2.5z"/>
<path d="M519.3,124.8l2.5,2.5l-2.5,2.5l-2.5,-2.5z"/>
<path d="M515.6,154.8l2.5,2.5l-2.5,2.5l-2.5,-2.5z"/>
<path d="M512.3,149.2l2.5,2.5l-2.5,2.5l-2.5,-2.5z"/>
<path d="M510.3,167.5l2.5,2.5l-2.5,2.5l-2.5,-2.5z"/>
<path d="M508.7,170.3l2.5,2.5l-2.5,2.5l-2.5,-2.5z"/>
<path d="M517.6,125.7l2.5,2.5l-2.5,2.5l-2.5,-2.5z"/>
<path d="M513.3,149.6l2.5,2.5l-2.5,2.5l-2.5,-2.5z"/>
<path d="M518.5,133.4l2.5,2.5l-2.5,2.5l-2.5,-2.5z"/>
<path d="M505.1,189.4l2.5,2.5l-2.5,2.5l-2.5,-2.5z"/>
<path d="M521.2,127.5l2.5,2.5l-2.5,2.5l-2.5,-2.5z"/>
<path d="M511.2,157.6l2.5,2.5l-2.5,2.5l-2.5,-2.5z"/>
<path d="M507.4,185.3l2.5,2.5l-2.5,2.5l-2.5,-2.5z"/>
<path d="M511.4,158.9l2.5,2.5l-2.5,2.5l-2.5,-2.5z"/>
<path d="M518.7,132.5l2.5,2.5l-2.5,2.5l-2.5,-2.5z"/>
<path d="M513.2,157.6l2.5,2.5l-2.5,2.5l-2.5,-2.5z"/>
<path d="M509.7,169.7l2.5,2.5l-2.5,2.5l-2.5,-2.5z"/>
<path d="M502.9,195.1l2.5,2.5l-2.5,2.5l-2.5,-2.5z"/>
<path d="M513.3,165.4l2.5,2.5l-2.5,2.5l-2.5,-2.5z"/>
<path d="M510.5,176.2l2.5,2.5l-2.5,2.5l-2.5,-2.5z"/>
<path d="M502.4,195.8l2.5,2.5l-2.5,2.5l-2.5,-2.5z"/>
<path d="M502.3,195.5l2.5,2.5l-2.5,2.5l-2.5,-2.5z"/>
<path d="M519.7,125.7l2.5,2.5l-2.5,2.5l-2.5,-2.5z"/>
<path d="M512.0,168.4l2.5,2.5l-2.5,2.5l-2.5,-2.5z"/>
<path d="M516.8,133.5l2.5,2.5l-2.5,2.5l-2.5,-2.5z"/>
<path d="M515.9,156.0l2.5,2.5l-2.5,2.5l-2.5,-2.5z"/>
<path d="M510.1,173.8l2.5,2.5l-2.5,2.5l-2.5,-2.5z"/>
<path d="M518.1,142.2l2.5,2.5l-2.5,2.5l-2.5,-2.5z"/>
<path d="M505.9,188.1l2.5,2.5l-2.5,2.5l-2.5,-2.5z"/>
<path d="M502.5,196.8l2.5,2.5l-2.5,2.5l-2.5,-2.5z"/>
<path d="M514.4,138.5l2.5,2.5l-2.5,2.5l-2.5,-2.5z"/>
<path d="M513.7,169.1l2.5,2.5l-2.5,2.5l-2.5,-2.5z"/>
<path d="M502.5,196.4l2.5,2.5l-2.5,2.5l-2.5,-2.5z"/>
<path d="M516.2,139.9l2.5,2.5l-2.5,2.5l-2.5,-2.5z"/>
<path d="M513.5,145.3l2.5,2.5l-2.5,2.5l-2.5,-2.5z"/>
<path d="M506.3,184.9l2.5,2.5l-2.5,2.5l-2.5,-2.5z"/>
<path d="M505.7,186.2l2.5,2.5l-2.5,2.5l-2.5,-2.5z"/>
<path d="M519.4,127.3l2.5,2.5l-2.5,2.5l-2.5,-2.5z"/>
<path d="M508.6,174.9l2.5,2.5l-2.5,2.5l-2.5,-2.5z"/>
<path d="M518.7,127.0l2.5,2.5l-2.5,2.5l-2.5,-2.5z"/>
<path d="M519.0,124.6l2.5,2.5l-2.5,2.5l-2.5,-2.5z"/>
<path d="M517.7,161.3l2.5,2.5l-2.5,2.5l-2.5,-2.5z"/>
<path d="M515.9,144.0l2.5,2.5l-2.5,2.5l-2.5,-2.5z"/>
<path d="M514.4,168.5l2.5,2.5l-2.5,2.5l-2.5,-2.5z"/>
<path d="M514.1,169.6l2.5,2.5l-2.5,2.5l-2.5,-2.5z"/>
<path d="M503.2,193.3l2.5,2.5l-2.5,2.5l-2.5,-2.5z"/>
<path d="M518.2,161.5l2.5,2.5l-2.5,2.5l-2.5,-2.5z"/>
<path d="M508.9,181.3l2.5,2.5l-2.5,2.5l-2.5,-2.5z"/>
<path d="M516.3,149.2l2.5,2.5l-2.5,2.5l-2.5,-2.5z"/>
<path d="M518.2,152.9l2.5,2.5l-2.5,2.5l-2.5,-2.5z"/>
<path d="M509.1,175.4l2.5,2.5l-2.5,2.5l-2.5,-2.5z"/>
<path d="M505.6,184.6l2.5,2.5l-2.5,2.5l-2.5,-2.5z"/>
<path d="M508.1,183.9l2.5,2.5l-2.5,2.5l-2.5,-2.5z"/>
<path d="M514.8,136.1l2.5,2.5l-2.5,2.5l-2.5,-2.5z"/>
<path d="M514.3,154.9l2.5,2.5l-2.5,2.5l-2.5,-2.5z"/>
<path d="M515.7,155.7l2.5,2.5l-2.5,2.5l-2.5,-2.5z"/>
<path d="M511.0,177.3l2.5,2.5l-2.5,2.5l-2.5,-2.5z"/>
<path d="M513.9,165.5l2.5,2.5l-2.5,2.5l-2.5,-2.5z"/>
<path d="M512.1,152.5l2.5,2.5l-2.5,2.5l-2.5,-2.5z"/>
<path d="M503.0,193.7l2.5,2.5l-2.5,2.5l-2.5,-2.5z"/>
<path d="M517.6,142.3l2.5,2.5l-2.5,2.5l-2.5,-2.5z"/>
<path d="M512.8,145.0l2.5,2.5l-2.5,2.5l-2.5,-2.5z"/>
<path d="M520.3,130.1l2.5,2.5l-2.5,2.5l-2.5,-2.5z"/>
<path d="M517.9,133.1l2.5,2.5l-2.5,2.5l-2.5,-2.5z"/>
<path d="M516.0,130.0l2.5,2.5l-2.5,2.5l-2.5,-2.5z"/>
<path d="M502.3,195.5l2.5,2.5l-2.5,2.5l-2.5,-2.5z"/>
<path d="M507.1,181.1l2.5,2.5l-2.5,2.5l-2.5,-2.5z"/>
<path d="M506.4,185.6l2.5,2.5l-2.5,2.5l-2.5,-2.5z"/>
<path d="M502.8,195.0l2.5,2.5l-2.5,2.5l-2.5,-2.5z"/>
<path d="M506.0,187.1l2.5,2.5l-2.5,2.5l-2.5,-2.5z"/>
<path d="M502.3,196.0l2.5,2.5l-2.5,2.5l-2.5,-2.5z"/>
<path d="M519.2,128.1l2.5,2.5l-2.5,2.5l-2.5,-2.5z"/>
<path d="M517.2,138.4l2.5,2.5l-2.5,2.5l-2.5,-2.5z"/>
<path d="M512.0,154.4l2.5,2.5l-2.5,2.5l-2.5,-2.5z"/>
<path d="M510.4,157.2l2.5,2.5l-2.5,2.5l-2.5,-2.5z"/>
<path d="M518.7,139.2l2.5,2.5l-2.5,2.5l-2.5,-2.5z"/>
<path d="M514.8,135.0l2.5,2.5l-2.5,2.5l-2.5,-2.5z"/>
<path d="M508.8,175.0l2.5,2.5l-2.5,2.5l-2.5,-2.5z"/>
<path d="M504.3,190.6l2.5,2.5l-2.5,2.5l-2.5,-2.5z"/>
<path d="M515.1,139.6l2.5,2.5l-2.5,2.5l-2.5,-2.5z"/>
<path d="M519.0,134.3l2.5,2.5l-2.5,2.5l-2.5,-2.5z"/>
<path d="M505.0,189.5l2.5,2.5l-2.5,2.5l-2.5,-2.5z"/>
<path d="M516.2,132.7l2.5,2.5l-2.5,2.5l-2.5,-2.5z"/>
<path d="M515.5,157.3l2.5,2.5l-2.5,2.5l-2.5,-2.5z"/>
<path d="M511.2,154.5l2.5,2.5l-2.5,2.5l-2.5,-2.5z"/>
<path d="M515.6,150.4l2.5,2.5l-2.5,2.5l-2.5,-2.5z"/>
<path d="M518.1,137.4l2.5,2.5l-2.5,2.5l-2.5,-2.5z"/>
<path d="M510.4,175.8l2.5,2.5l-2.5,2.5l-2.5,-2.5z"/>
<path d="M519.6,133.9l2.5,2.5l-2.5,2.5l-2.5,-2.5z"/>
<path d="M504.7,187.4l2.5,2.5l-2.5,2.5l-2.5,-2.5z"/>
<path d="M512.5,151.3l2.5,2.5l-2.5,2.5l-2.5,-2.5z"/>
<path d="M518.1,158.1l2.5,2.5l-2.5,2.5l-2.5,-2.5z"/>
<path d="M509.2,172.0l2.5,2.5l-2.5,2.5l-2.5,-2.5z"/>
<path d="M513.8,166.3l2.5,2.5l-2.5,2.5l-2.5,-2.5z"/>
<path d="M503.8,191.3l2.5,2.5l-2.5,2.5l-2.5,-2.5z"/>
<path d="M505.0,189.2l2.5,2.5l-2.5,2.5l-2.5,-2.5z"/>
<path d="M516.0,136.9l2.5,2.5l-2.5,2.5l-2.5,-2.5z"/>
<path d="M510.5,172.6l2.5,2.5l-2.5,2.5l-2.5,-2.5z"/>
<path d="M506.4,183.8l2.5,2.5l-2.5,2.5l-2.5,-2.5z"/>
<path d="M509.3,175.6l2.5,2.5l-2.5,2.5l-2.5,-2.5z"/>
<path d="M503.5,192.5l2.5,2.5l-2.5,2.5l-2.5,-2.5z"/>
<path d="M512.6,156.9l2.5,2.5l-2.5,2.5l-2.5,-2.5z"/>
<path d="M503.4,192.8l2.5,2.5l-2.5,2.5l-2.5,-2.5z"/>
<path d="M504.3,189.4l2.5,2.5l-2.5,2.5l-2.5,-2.5z"/>
<path d="M504.2,189.4l2.5,2.5l-2.5,2.5l-2.5,-2.5z"/>
<path d="M517.1,130.7l2.5,2.5l-2.5,2.5l-2.5,-2.5z"/>
<path d="M510.4,177.3l2.5,2.5l-2.5,2.5l-2.5,-2.5z"/>
<path d="M512.0,153.7l2.5,2.5l-2.5,2.5l-2.5,-2.5z"/>
<path d="M514.8,167.9l2.5,2.5l-2.5,2.5l-2.5,-2.5z"/>
<path d="M511.6,172.3l2.5,2.5l-2.5,2.5l-2.5,-2.5z"/>
<path d="M503.9,191.6l2.5,2.5l-2.5,2.5l-2.5,-2.5z"/>
<path d="M517.8,141.3l2.5,2.5l-2.5,2.5l-2.5,-2.5z"/>
<path d="M513.8,149.4l2.5,2.5l-2.5,2.5l-2.5,-2.5z"/>
<path d="M503.1,193.6l2.5,2.5l-2.5,2.5l-2.5,-2.5z"/>
<path d="M513.8,142.8l2.5,2.5l-2.5,2.5l-2.5,-2.5z"/>
<path d="M508.4,180.2l2.5,2.5l-2.5,2.5l-2.5,-2.5z"/>
<path d="M517.9,143.5l2.5,2.5l-2.5,2.5l-2.5,-2.5z"/>
<path d="M504.2,189.7l2.5,2.5l-2.5,2.5l-2.5,-2.5z"/>
<path d="M517.0,139.4l2.5,2.5l-2.5,2.5l-2.5,-2.5z"/>
<path d="M518.3,145.7l2.5,2.5l-2.5,2.5l-2.5,-2.5z"/>
<path d="M520.9,128.0l2.5,2.5l-2.5,2.5l-2.5,-2.5z"/>
<path d="M515.3,141.2l2.5,2.5l-2.5,2.5l-2.5,-2.5z"/>
<path d="M512.2,152.0l2.5,2.5l-2.5,2.5l-2.5,-2.5z"/>
<path d="M517.2,142.6l2.5,2.5l-2.5,2.5l-2.5,-2.5z"/>
<path d="M514.8,145.7l2.5,2.5l-2.5,2.5l-2.5,-2.5z"/>
<path d="M510.1,172.1l2.5,2.5l-2.5,2.5l-2.5,-2.5z"/>
<path d="M502.9,195.4l2.5,2.5l-2.5,2.5l-2.5,-2.5z"/>
<path d="M513.2,159.7l2.5,2.5l-2.5,2.5l-2.5,-2.5z"/>
<path d="M516.1,159.3l2.5,2.5l-2.5,2.5l-2.5,-2.5z"/>
<path d="M512.4,171.9l2.5,2.5l-2.5,2.5l-2.5,-2.5z"/>
<path d="M518.0,129.6l2.5,2.5l-2.5,2.5l-2.5,-2.5z"/>
<path d="M505.2,189.0l2.5,2.5l-2.5,2.5l-2.5,-2.5z"/>
<path d="M517.4,123.6l2.5,2.5l-2.5,2.5l-2.5,-2.5z"/>
<path d="M517.2,146.4l2.5,2.5l-2.5,2.5l-2.5,-2.5z"/>
<path d="M516.6,129.6l2.5,2.5l-2.5,2.5l-2.5,-2.5z"/>
<path d="M503.9,191.9l2.5,2.5l-2.5,2.5l-2.5,-2.5z"/>
<path d="M504.0,190.3l2.5,2.5l-2.5,2.5l-2.5,-2.5z"/>
<path d="M513.8,157.2l2.5,2.5l-2.5,2.5l-2.5,-2.5z"/>
<path d="M513.7,143.4l2.5,2.5l-2.5,2.5l-2.5,-2.5z"/>
<path d="M517.0,130.1l2.5,2.5l-2.5,2.5l-2.5,-2.5z"/>
<path d="M513.3,141.9l2.5,2.5l-2.5,2.5l-2.5,-2.5z"/>
<path d="M509.2,165.0l2.5,2.5l-2.5,2.5l-2.5,-2.5z"/>
<path d="M508.4,176.8l2.5,2.5l-2.5,2.5l-2.5,-2.5z"/>
<path d="M514.8,145.8l2.5,2.5l-2.5,2.5l-2.5,-2.5z"/>
<path d="M503.3,194.0l2.5,2.5l-2.5,2.5l-2.5,-2.5z"/>
<path d="M520.3,132.2l2.5,2.5l-2.5,2.5l-2.5,-2.5z"/>
<path d="M507.5,181.6l2.5,2.5l-2.5,2.5l-2.5,-2.5z"/>
<path d="M506.3,182.9l2.5,2.5l-2.5,2.5l-2.5,-2.5z"/>
<path d="M502.6,195.4l2.5,2.5l-2.5,2.5l-2.5,-2.5z"/>
<path d="M504.1,189.9l2.5,2.5l-2.5,2.5l-2.5,-2.5z"/>
<path d="M517.3,134.5l2.5,2.5l-2.5,2.5l-2.5,-2.5z"/>
<path d="M506.5,185.9l2.5,2.5l-2.5,2.5l-2.5,-2.5z"/>
<path d="M508.3,180.2l2.5,2.5l-2.5,2.5l-2.5,-2.5z"/>
<path d="M508.6,179.0l2.5,2.5l-2.5,2.5l-2.5,-2.5z"/>
<path d="M514.8,153.0l2.5,2.5l-2.5,2.5l-2.5,-2.5z"/>
<path d="M512.7,170.8l2.5,2.5l-2.5,2.5l-2.5,-2.5z"/>
<path d="M515.9,133.4l2.5,2.5l-2.5,2.5l-2.5,-2.5z"/>
<path d="M504.3,189.1l2.5,2.5l-2.5,2.5l-2.5,-2.5z"/>
<path d="M520.9,124.7l2.5,2.5l-2.5,2.5l-2.5,-2.5z"/>
<path d="M508.9,182.7l2.5,2.5l-2.5,2.5l-2.5,-2.5z"/>
<path d="M506.9,184.3l2.5,2.5l-2.5,2.5l-2.5,-2.5z"/>
<path d="M517.5,163.2l2.5,2.5l-2.5,2.5l-2.5,-2.5z"/>
<path d="M502.6,195.0l2.5,2.5l-2.5,2.5l-2.5,-2.5z"/>
<path d="M510.8,155.2l2.5,2.5l-2.5,2.5l-2.5,-2.5z"/>
<path d="M507.6,182.3l2.5,2.5l-2.5,2.5l-2.5,-2.5z"/>
<path d="M519.2,132.8l2.5,2.5l-2.5,2.5l-2.5,-2.5z"/>
<path d="M518.0,137.0l2.5,2.5l-2.5,2.5l-2.5,-2.5z"/>
<path d="M517.3,146.8l2.5,2.5l-2.5,2.5l-2.5,-2.5z"/>
<path d="M516.4,148.8l2.5,2.5l-2.5,2.5l-2.5,-2.5z"/>
<path d="M507.6,177.7l2.5,2.5l-2.5,2.5l-2.5,-2.5z"/>
<path d="M513.6,142.9l2.5,2.5l-2.5,2.5l-2.5,-2.5z"/>
<path d="M519.2,129.6l2.5,2.5l-2.5,2.5l-2.5,-2.5z"/>
<path d="M511.5,175.7l2.5,2.5l-2.5,2.5l-2.5,-2.5z"/>
<path d="M505.4,187.8l2.5,2.5l-2.5,2.5l-2.5,-2.5z"/>
<path d="M503.9,191.9l2.5,2.5l-2.5,2.5l-2.5,-2.5z"/>
<path d="M516.9,157.2l2.5,2.5l-2.5,2.5l-2.5,-2.5z"/>
<path d="M509.7,179.1l2.5,2.5l-2.5,2.5l-2.5,-2.5z"/>
<path d="M515.9,147.1l2.5,2.5l-2.5,2.5l-2.5,-2.5z"/>
<path d="M518.6,127.1l2.5,2.5l-2.5,2.5l-2.5,-2.5z"/>
<path d="M512.7,169.4l2.5,2.5l-2.5,2.5l-2.5,-2.5z"/>
<path d="M515.9,136.5l2.5,2.5l-2.5,2.5l-2.5,-2.5z"/>
<path d="M512.6,149.8l2.5,2.5l-2.5,2.5l-2.5,-2.5z"/>
<path d="M516.6,159.0l2.5,2.5l-2.5,2.5l-2.5,-2.5z"/>
<path d="M503.2,193.5l2.5,2.5l-2.5,2.5l-2.5,-2.5z"/>
<path d="M502.7,196.3l2.5,2.5l-2.5,2.5l-2.5,-2.5z"/>
<path d="M512.2,165.3l2.5,2.5l-2.5,2.5l-2.5,-2.5z"/>
<path d="M515.3,145.7l2.5,2.5l-2.5,2.5l-2.5,-2.5z"/>
<path d="M512.7,144.9l2.5,2.5l-2.5,2.5l-2.5,-2.5z"/>
<path d="M514.8,158.1l2.5,2.5l-2.5,2.5l-2.5,-2.5z"/>
<path d="M516.3,128.6l2.5,2.5l-2.5,2.5l-2.5,-2.5z"/>
<path d="M513.5,166.5l2.5,2.5l-2.5,2.5l-2.5,-2.5z"/>
<path d="M510.5,159.1l2.5,2.5l-2.5,2.5l-2.5,-2.5z"/>
<path d="M512.1,155.8l2.5,2.5l-2.5,2.5l-2.5,-2.5z"/>
<path d="M507.4,185.1l2.5,2.5l-2.5,2.5l-2.5,-2.5z"/>
<path d="M506.5,184.9l2.5,2.5l-2.5,2.5l-2.5,-2.5z"/>
<path d="M516.8,143.4l2.5,2.5l-2.5,2.5l-2.5,-2.5z"/>
<path d="M516.9,158.9l2.5,2.5l-2.5,2.5l-2.5,-2.5z"/>
<path d="M513.9,165.5l2.5,2.5l-2.5,2.5l-2.5,-2.5z"/>
<path d="M517.4,137.8l2.5,2.5l-2.5,2.5l-2.5,-2.5z"/>
<path d="M513.9,152.0l2.5,2.5l-2.5,2.5l-2.5,-2.5z"/>
<path d="M513.3,158.5l2.5,2.5l-2.5,2.5l-2.5,-2.5z"/>
<path d="M514.7,143.8l2.5,2.5l-2.5,2.5l-2.5,-2.5z"/>
<path d="M515.0,165.5l2.5,2.5l-2.5,2.5l-2.5,-2.5z"/>
<path d="M512.5,162.7l2.5,2.5l-2.5,2.5l-2.5,-2.5z"/>
<path d="M516.0,137.2l2.5,2.5l-2.5,2.5l-2.5,-2.5z"/>
<path d="M518.5,135.7l2.5,2.5l-2.5,2.5l-2.5,-2.5z"/>
<path d="M514.0,166.9l2.5,2.5l-2.5,2.5l-2.5,-2.5z"/>
<path d="M502.6,195.3l2.5,2.5l-2.5,2.5l-2.5,-2.5z"/>
<path d="M517.8,134.5l2.5,2.5l-2.5,2.5l-2.5,-2.5z"/>
<path d="M515.7,158.5l2.5,2.5l-2.5,2.5l-2.5,-2.5z"/>
<path d="M515.3,149.1l2.5,2.5l-2.5,2.5l-2.5,-2.5z"/>
<path d="M509.5,168.9l2.5,2.5l-2.5,2.5l-2.5,-2.5z"/>
<path d="M507.9,178.3l2.5,2.5l-2.5,2.5l-2.5,-2.5z"/>
<path d="M515.4,168.2l2.5,2.5l-2.5,2.5l-2.5,-2.5z"/>
<path d="M509.7,174.0l2.5,2.5l-2.5,2.5l-2.5,-2.5z"/>
<path d="M510.8,172.6l2.5,2.5l-2.5,2.5l-2.5,-2.5z"/>
<path d="M521.1,127.3l2.5,2.5l-2.5,2.5l-2.5,-2.5z"/>
<path d="M509.2,172.2l2.5,2.5l-2.5,2.5l-2.5,-2.5z"/>
<path d="M517.9,132.5l2.5,2.5l-2.5,2.5l-2.5,-2.5z"/>
<path d="M511.8,148.5l2.5,2.5l-2.5,2.5l-2.5,-2.5z"/>
<path d="M516.5,134.0l2.5,2.5l-2.5,2.5l-2.5,-2.5z"/>
<path d="M511.0,163.4l2.5,2.5l-2.5,2.5l-2.5,-2.5z"/>
<path d="M513.8,169.0l2.5,2.5l-2.5,2.5l-2.5,-2.5z"/>
<path d="M516.5,137.1l2.5,2.5l-2.5,2.5l-2.5,-2.5z"/>
<path d="M515.5,141.9l2.5,2.5l-2.5,2.5l-2.5,-2.5z"/>
<path d="M510.6,172.5l2.5,2.5l-2.5,2.5l-2.5,-2.5z"/>
<path d="M506.2,184.7l2.5,2.5l-2.5,2.5l-2.5,-2.5z"/>
<path d="M516.7,146.9l2.5,2.5l-2.5,2.5l-2.5,-2.5z"/>
<path d="M503.1,194.0l2.5,2.5l-2.5,2.5l-2.5,-2.5z"/>
<path d="M516.1,138.0l2.5,2.5l-2.5,2.5l-2.5,-2.5z"/>
<path d="M503.2,193.7l2.5,2.5l-2.5,2.5l-2.5,-2.5z"/>
<path d="M508.3,181.6l2.5,2.5l-2.5,2.5l-2.5,-2.5z"/>
<path d="M511.2,172.2l2.5,2.5l-2.5,2.5l-2.5,-2.5z"/>
<path d="M508.0,180.8l2.5,2.5l-2.5,2.5l-2.5,-2.5z"/>
<path d="M515.3,161.1l2.5,2.5l-2.5,2.5l-2.5,-2.5z"/>
<path d="M507.9,184.6l2.5,2.5l-2.5,2.5l-2.5,-2.5z"/>
<path d="M507.9,178.6l2.5,2.5l-2.5,2.5l-2.5,-2.5z"/>
<path d="M506.6,180.9l2.5,2.5l-2.5,2.5l-2.5,-2.5z"/>
<path d="M513.5,168.8l2.5,2.5l-2.5,2.5l-2.5,-2.5z"/>
<path d="M513.0,146.6l2.5,2.5l-2.5,2.5l-2.5,-2.5z"/>
<path d="M504.6,189.0l2.5,2.5l-2.5,2.5l-2.5,-2.5z"/>
<path d="M515.7,141.9l2.5,2.5l-2.5,2.5l-2.5,-2.5z"/>
<path d="M519.7,129.3l2.5,2.5l-2.5,2.5l-2.5,-2.5z"/>
<path d="M516.6,153.6l2.5,2.5l-2.5,2.5l-2.5,-2.5z"/>
<path d="M514.6,143.4l2.5,2.5l-2.5,2.5l-2.5,-2.5z"/>
<path d="M507.8,180.8l2.5,2.5l-2.5,2.5l-2.5,-2.5z"/>
<path d="M510.4,163.8l2.5,2.5l-2.5,2.5l-2.5,-2.5z"/>
<path d="M513.2,167.4l2.5,2.5l-2.5,2.5l-2.5,-2.5z"/>
<path d="M504.4,189.1l2.5,2.5l-2.5,2.5l-2.5,-2.5z"/>
<path d="M505.5,186.6l2.5,2.5l-2.5,2.5l-2.5,-2.5z"/>
<path d="M516.6,126.2l2.5,2.5l-2.5,2.5l-2.5,-2.5z"/>
<path d="M505.5,185.9l2.5,2.5l-2.5,2.5l-2.5,-2.5z"/>
<path d="M509.1,164.9l2.5,2.5l-2.5,2.5l-2.5,-2.5z"/>
<path d="M510.1,166.1l2.5,2.5l-2.5,2.5l-2.5,-2.5z"/>
<path d="M509.3,180.0l2.5,2.5l-2.5,2.5l-2.5,-2.5z"/>
<path d="M506.4,185.9l2.5,2.5l-2.5,2.5l-2.5,-2.5z"/>
<path d="M510.7,170.0l2.5,2.5l-2.5,2.5l-2.5,-2.5z"/>
<path d="M514.6,138.0l2.5,2.5l-2.5,2.5l-2.5,-2.5z"/>
<path d="M521.0,129.3l2.5,2.5l-2.5,2.5l-2.5,-2.5z"/>
<path d="M511.5,149.9l2.5,2.5l-2.5,2.5l-2.5,-2.5z"/>
<path d="M515.4,150.3l2.5,2.5l-2.5,2.5l-2.5,-2.5z"/>
<path d="M514.2,141.6l2.5,2.5l-2.5,2.5l-2.5,-2.5z"/>
<path d="M521.0,126.9l2.5,2.5l-2.5,2.5l-2.5,-2.5z"/>
<path d="M504.1,190.5l2.5,2.5l-2.5,2.5l-2.5,-2.5z"/>
<path d="M502.8,195.4l2.5,2.5l-2.5,2.5l-2.5,-2.5z"/>
<path d="M521.4,130.0l2.5,2.5l-2.5,2.5l-2.5,-2.5z"/>
<path d="M515.8,154.3l2.5,2.5l-2.5,2.5l-2.5,-2.5z"/>
<path d="M515.3,149.1l2.5,2.5l-2.5,2.5l-2.5,-2.5z"/>
<path d="M519.5,126.9l2.5,2.5l-2.5,2.5l-2.5,-2.5z"/>
<path d="M509.7,175.2l2.5,2.5l-2.5,2.5l-2.5,-2.5z"/>
<path d="M502.6,196.1l2.5,2.5l-2.5,2.5l-2.5,-2.5z"/>
<path d="M514.3,147.9l2.5,2.5l-2.5,2.5l-2.5,-2.5z"/>
<path d="M527.9,83.1l2.5,2.5l-2.5,2.5l-2.5,-2.5z"/>
<path d="M523.8,96.5l2.5,2.5l-2.5,2.5l-2.5,-2.5z"/>
<path d="M524.9,107.6l2.5,2.5l-2.5,2.5l-2.5,-2.5z"/>
<path d="M519.5,109.0l2.5,2.5l-2.5,2.5l-2.5,-2.5z"/>
<path d="M519.0,111.8l2.5,2.5l-2.5,2.5l-2.5,-2.5z"/>
<path d="M524.9,115.1l2.5,2.5l-2.5,2.5l-2.5,-2.5z"/>
<path d="M517.8,118.3l2.5,2.5l-2.5,2.5l-2.5,-2.5z"/>
<path d="M520.6,119.9l2.5,2.5l-2.5,2.5l-2.5,-2.5z"/>
<path d="M516.7,122.2l2.5,2.5l-2.5,2.5l-2.5,-2.5z"/>
<path d="M543.5,56.8l2.5,2.5l-2.5,2.5l-2.5,-2.5z"/>
<path d="M548.6,62.5l2.5,2.5l-2.5,2.5l-2.5,-2.5z"/>
<path d="M545.8,65.9l2.5,2.5l-2.5,2.5l-2.5,-2.5z"/>
<path d="M521.8,124.0l2.5,2.5l-2.5,2.5l-2.5,-2.5z"/>
</g>
<rect x="501.0" y="28.5" width="173.50" height="172.70" fill="none" stroke="#111" stroke-width="1.05"/>
<path d="M507.94,28.5 v2.1 M507.94,201.2 v-2.1 M501.0,194.29 h2.1 M674.5,194.29 h-2.1 M514.88,28.5 v2.1 M514.88,201.2 v-2.1 M501.0,187.38 h2.1 M674.5,187.38 h-2.1 M521.82,28.5 v2.1 M521.82,201.2 v-2.1 M501.0,180.48 h2.1 M674.5,180.48 h-2.1 M528.76,28.5 v2.1 M528.76,201.2 v-2.1 M501.0,173.57 h2.1 M674.5,173.57 h-2.1 M535.70,28.5 v3.4 M535.70,201.2 v-3.4 M501.0,166.66 h3.4 M674.5,166.66 h-3.4 M542.64,28.5 v2.1 M542.64,201.2 v-2.1 M501.0,159.75 h2.1 M674.5,159.75 h-2.1 M549.58,28.5 v2.1 M549.58,201.2 v-2.1 M501.0,152.84 h2.1 M674.5,152.84 h-2.1 M556.52,28.5 v2.1 M556.52,201.2 v-2.1 M501.0,145.94 h2.1 M674.5,145.94 h-2.1 M563.46,28.5 v2.1 M563.46,201.2 v-2.1 M501.0,139.03 h2.1 M674.5,139.03 h-2.1 M570.40,28.5 v3.4 M570.40,201.2 v-3.4 M501.0,132.12 h3.4 M674.5,132.12 h-3.4 M577.34,28.5 v2.1 M577.34,201.2 v-2.1 M501.0,125.21 h2.1 M674.5,125.21 h-2.1 M584.28,28.5 v2.1 M584.28,201.2 v-2.1 M501.0,118.30 h2.1 M674.5,118.30 h-2.1 M591.22,28.5 v2.1 M591.22,201.2 v-2.1 M501.0,111.40 h2.1 M674.5,111.40 h-2.1 M598.16,28.5 v2.1 M598.16,201.2 v-2.1 M501.0,104.49 h2.1 M674.5,104.49 h-2.1 M605.10,28.5 v3.4 M605.10,201.2 v-3.4 M501.0,97.58 h3.4 M674.5,97.58 h-3.4 M612.04,28.5 v2.1 M612.04,201.2 v-2.1 M501.0,90.67 h2.1 M674.5,90.67 h-2.1 M618.98,28.5 v2.1 M618.98,201.2 v-2.1 M501.0,83.76 h2.1 M674.5,83.76 h-2.1 M625.92,28.5 v2.1 M625.92,201.2 v-2.1 M501.0,76.86 h2.1 M674.5,76.86 h-2.1 M632.86,28.5 v2.1 M632.86,201.2 v-2.1 M501.0,69.95 h2.1 M674.5,69.95 h-2.1 M639.80,28.5 v3.4 M639.80,201.2 v-3.4 M501.0,63.04 h3.4 M674.5,63.04 h-3.4 M646.74,28.5 v2.1 M646.74,201.2 v-2.1 M501.0,56.13 h2.1 M674.5,56.13 h-2.1 M653.68,28.5 v2.1 M653.68,201.2 v-2.1 M501.0,49.22 h2.1 M674.5,49.22 h-2.1 M660.62,28.5 v2.1 M660.62,201.2 v-2.1 M501.0,42.32 h2.1 M674.5,42.32 h-2.1 M667.56,28.5 v2.1 M667.56,201.2 v-2.1 M501.0,35.41 h2.1 M674.5,35.41 h-2.1" stroke="#111" stroke-width="0.9" fill="none"/>
<text x="489.80" y="204.63" font-size="6.50" font-weight="bold" fill="#000" text-anchor="start" style="font-family:'Liberation Sans',sans-serif" textLength="4.00" lengthAdjust="spacingAndGlyphs">0</text>
<text x="485.30" y="169.67" font-size="6.50" font-weight="bold" fill="#000" text-anchor="start" style="font-family:'Liberation Sans',sans-serif" textLength="8.50" lengthAdjust="spacingAndGlyphs">10</text>
<text x="485.30" y="134.71" font-size="6.50" font-weight="bold" fill="#000" text-anchor="start" style="font-family:'Liberation Sans',sans-serif" textLength="8.50" lengthAdjust="spacingAndGlyphs">20</text>
<text x="485.30" y="99.75" font-size="6.50" font-weight="bold" fill="#000" text-anchor="start" style="font-family:'Liberation Sans',sans-serif" textLength="8.50" lengthAdjust="spacingAndGlyphs">30</text>
<text x="485.30" y="64.79" font-size="6.50" font-weight="bold" fill="#000" text-anchor="start" style="font-family:'Liberation Sans',sans-serif" textLength="8.50" lengthAdjust="spacingAndGlyphs">40</text>
<text x="485.30" y="29.83" font-size="6.50" font-weight="bold" fill="#000" text-anchor="start" style="font-family:'Liberation Sans',sans-serif" textLength="8.50" lengthAdjust="spacingAndGlyphs">50</text>
<text x="499.00" y="213.43" font-size="6.50" font-weight="bold" fill="#000" text-anchor="start" style="font-family:'Liberation Sans',sans-serif" textLength="4.00" lengthAdjust="spacingAndGlyphs">0</text>
<text x="529.75" y="213.43" font-size="6.50" font-weight="bold" fill="#000" text-anchor="start" style="font-family:'Liberation Sans',sans-serif" textLength="8.50" lengthAdjust="spacingAndGlyphs">10</text>
<text x="564.85" y="213.43" font-size="6.50" font-weight="bold" fill="#000" text-anchor="start" style="font-family:'Liberation Sans',sans-serif" textLength="8.50" lengthAdjust="spacingAndGlyphs">20</text>
<text x="599.85" y="213.43" font-size="6.50" font-weight="bold" fill="#000" text-anchor="start" style="font-family:'Liberation Sans',sans-serif" textLength="8.50" lengthAdjust="spacingAndGlyphs">30</text>
<text x="634.95" y="213.43" font-size="6.50" font-weight="bold" fill="#000" text-anchor="start" style="font-family:'Liberation Sans',sans-serif" textLength="8.50" lengthAdjust="spacingAndGlyphs">40</text>
<text x="669.95" y="213.43" font-size="6.50" font-weight="bold" fill="#000" text-anchor="start" style="font-family:'Liberation Sans',sans-serif" textLength="8.50" lengthAdjust="spacingAndGlyphs">50</text>
<text x="562.1" y="229.3" font-size="9.6" font-weight="bold" style="font-family:'Liberation Sans',sans-serif" textLength="41.4" lengthAdjust="spacingAndGlyphs">κ (10<tspan font-size="6" dy="-3.2">-3</tspan><tspan dy="3.2"> SI)</tspan></text>
<text x="0" y="0" transform="translate(479.60 124.00) rotate(-90)" font-size="9.60" font-weight="bold" text-anchor="middle" style="font-family:'Liberation Sans',sans-serif" textLength="64.00" lengthAdjust="spacingAndGlyphs">κARM (10<tspan font-size="6" dy="-3.2">-3</tspan><tspan dy="3.2"> SI)</tspan></text>
<text x="537.90" y="44.30" font-size="7.60" font-weight="normal" fill="#222" text-anchor="start" style="font-family:'Liberation Serif',serif" textLength="20.70" lengthAdjust="spacingAndGlyphs">0.2 <tspan font-style="italic">μ</tspan>m</text>
<text x="565.90" y="57.10" font-size="7.60" font-weight="normal" fill="#222" text-anchor="start" style="font-family:'Liberation Serif',serif" textLength="14.50" lengthAdjust="spacingAndGlyphs">1 <tspan font-style="italic">μ</tspan>m</text>
<text x="605.50" y="83.00" font-size="7.60" font-weight="normal" fill="#222" text-anchor="start" style="font-family:'Liberation Serif',serif" textLength="15.20" lengthAdjust="spacingAndGlyphs">5 <tspan font-style="italic">μ</tspan>m</text>
<text x="642.00" y="138.00" font-size="7.60" font-weight="normal" fill="#222" text-anchor="start" style="font-family:'Liberation Serif',serif" textLength="19.00" lengthAdjust="spacingAndGlyphs">20 <tspan font-style="italic">μ</tspan>m</text>
<text x="463.15" y="10.90" font-size="14.38" font-weight="bold" fill="#000" text-anchor="start" style="font-family:'Liberation Sans',sans-serif" textLength="17.90" lengthAdjust="spacingAndGlyphs">(c)</text>
<clipPath id="cd"><rect x="26.3" y="289.2" width="178.2" height="130.4"/></clipPath>
<filter id="ncd" x="0" y="0" width="1" height="1" color-interpolation-filters="sRGB"><feTurbulence type="fractalNoise" baseFrequency="0.16" numOctaves="2" seed="11"/><feColorMatrix type="matrix" values="1 0 0 0 0 1 0 0 0 0 1 0 0 0 0 0 0 0 0 1"/><feComponentTransfer><feFuncR type="table" tableValues="0.91 0.91 0.92 0.95 0.985 1 1 1 0.998 0.995 0.99 0.985"/><feFuncG type="table" tableValues="0.91 0.91 0.92 0.95 0.985 1 1 0.98 0.94 0.90 0.86 0.82"/><feFuncB type="table" tableValues="1 1 1 1 1 1 1 0.92 0.80 0.68 0.58 0.52"/><feFuncA type="discrete" tableValues="1"/></feComponentTransfer></filter>
<g clip-path="url(#cd)">
<rect x="26.3" y="289.2" width="178.2" height="130.4" fill="#fff" filter="url(#ncd)"/>
<path d="M27.3,289.2 29.3,290.9 29.7,289.2 38.9,289.2 39.3,290.2 40.3,290.8 42.3,290.9 45.4,292.2 46.6,296.2 46.3,296.9 44.4,298.2 44.1,299.2 45.3,300.6 47.3,300.2 48.7,301.2 48.3,303.2 48.6,304.2 51.6,307.2 51.6,311.2 52.3,313.9 52.9,313.2 57.3,311.6 58.3,311.8 59.0,313.2 57.1,317.2 59.0,323.2 59.4,326.2 62.0,330.2 62.7,333.2 62.7,334.2 60.0,336.2 59.7,337.2 61.3,339.4 62.3,339.5 65.3,337.7 66.3,334.9 67.3,333.3 68.3,332.8 70.3,333.3 75.8,339.2 78.3,340.2 78.5,342.2 79.3,343.1 83.3,342.6 85.3,344.3 88.3,342.5 90.3,344.3 93.3,343.1 95.3,343.2 96.3,343.6 98.3,345.6 100.2,345.2 102.3,343.9 103.3,344.2 102.9,345.2 103.9,346.2 106.3,346.8 107.2,346.2 107.3,344.8 111.3,345.5 114.3,344.3 115.3,346.2 116.3,346.8 122.3,346.6 125.3,348.1 126.3,347.7 128.3,345.0 129.3,344.9 131.3,344.9 133.3,347.3 136.3,347.6 139.3,345.8 142.3,345.5 144.1,346.2 147.3,346.0 148.3,345.2 151.3,344.8 152.4,345.2 152.2,347.2 156.3,348.8 159.8,348.2 160.3,347.4 160.6,348.2 162.3,348.9 163.8,348.2 164.3,346.4 168.3,349.2 169.9,348.2 169.6,347.2 170.3,346.8 171.3,347.3 172.3,348.9 173.3,349.2 174.3,348.3 175.3,348.0 177.3,348.7 182.3,346.7 196.3,348.5 198.3,347.3 200.3,347.1 202.3,347.5 204.3,349.5 204.3,361.0 202.3,359.0 200.3,358.1 193.9,359.2 192.3,360.3 190.8,359.2 188.3,358.4 185.5,359.2 185.3,360.6 180.9,359.2 180.6,361.2 179.3,361.8 177.9,361.2 177.7,360.2 178.2,359.2 176.3,357.8 175.3,357.9 173.3,360.5 169.3,361.3 167.3,359.5 163.3,358.7 160.3,361.7 159.3,361.9 158.3,361.6 156.3,359.5 152.3,358.9 149.3,361.2 148.3,361.2 147.7,360.2 146.3,359.7 143.3,360.1 143.4,361.2 142.6,362.2 140.3,362.9 137.3,361.6 135.3,361.9 132.5,361.2 132.3,359.4 131.3,359.1 129.3,360.9 125.3,360.0 122.3,362.6 114.3,361.2 113.4,362.2 113.5,364.2 112.3,364.6 110.3,364.2 108.3,364.5 106.3,363.4 104.3,363.1 104.4,366.2 103.3,367.4 102.3,367.7 99.3,367.1 96.3,367.9 94.3,367.5 93.7,368.2 95.2,369.2 94.3,369.8 93.3,370.0 90.3,367.7 89.3,367.5 85.3,368.0 82.3,369.7 79.3,370.2 76.3,372.6 75.3,372.6 73.3,371.1 72.3,370.9 72.0,373.2 70.3,375.1 65.3,375.8 62.3,377.7 60.3,378.2 57.3,383.8 55.3,383.9 52.2,385.2 50.7,388.2 50.1,391.2 50.3,394.7 47.3,396.1 46.0,398.2 47.2,400.2 47.1,401.2 45.3,406.1 41.4,407.2 40.3,410.0 38.3,408.5 37.6,409.2 37.7,410.2 39.3,410.9 40.0,412.2 40.1,415.2 41.9,416.2 41.5,417.2 38.6,419.2 26.3,419.2 26.3,289.2zM30.1,302.2 30.3,303.9 31.5,304.2 32.1,302.2 31.3,301.4 30.3,301.9zM34.0,309.2 33.5,311.2 34.1,315.2 35.3,316.1 36.0,315.2 36.2,311.2 35.9,310.2 34.3,308.6zM51.2,314.2 50.9,315.2 51.3,315.8 52.1,315.2 52.0,314.2 51.3,314.0zM54.2,377.2 54.3,379.1 55.3,379.7 56.1,377.2 55.3,376.4 54.3,377.1zM42.8,384.2 43.3,385.5 48.5,387.2 47.7,385.2 45.3,385.0 43.3,383.8zM62.3,321.5 63.4,322.2 63.3,323.2 62.3,322.9 61.9,322.2zM160.3,345.5 161.7,346.2 160.3,346.9 160.0,346.2zM54.3,388.0 55.3,387.6 56.2,388.2 55.3,388.6 54.1,388.2z" fill="#f8b850" fill-opacity="0.22" fill-rule="evenodd"/>
<path d="M27.3,289.6 29.3,292.0 30.3,290.5 31.7,292.2 30.6,297.2 31.3,300.2 29.7,302.2 29.6,303.2 30.3,304.5 31.6,305.2 33.0,308.2 34.3,316.3 36.2,317.2 38.1,320.2 41.3,319.3 43.3,322.5 44.3,322.9 46.3,322.0 47.2,324.2 50.3,325.8 51.5,327.2 56.3,327.9 57.5,330.2 61.3,332.2 61.9,333.2 61.7,334.2 59.3,336.1 59.1,337.2 60.3,339.2 61.3,339.7 62.3,339.8 65.3,338.3 67.3,335.4 68.3,335.3 77.3,341.2 79.3,343.6 82.3,343.4 85.0,345.2 86.3,345.5 88.3,344.5 90.3,345.0 95.3,344.1 98.3,346.1 101.3,345.3 106.3,347.5 107.3,347.3 108.3,345.8 113.3,345.4 116.3,347.0 120.3,347.6 122.3,346.9 125.3,348.4 129.3,345.7 131.3,346.1 133.3,348.4 134.3,347.9 137.3,347.9 139.3,346.3 145.3,346.8 147.3,347.6 149.3,346.3 150.3,346.2 155.3,349.1 160.3,348.4 162.3,349.3 165.3,348.1 168.3,349.5 171.3,348.4 172.3,350.0 173.3,350.4 174.3,348.9 175.3,348.6 177.3,349.2 181.3,347.8 184.3,347.7 188.3,348.6 194.3,348.4 197.3,349.2 200.3,347.9 202.3,348.3 204.3,349.9 204.3,360.1 201.7,358.2 200.3,357.8 195.3,358.9 192.3,359.1 188.3,358.1 183.3,359.1 175.3,357.3 173.3,359.7 172.3,360.0 169.3,359.9 167.3,359.0 163.3,358.3 160.3,360.9 159.3,361.2 158.3,361.0 156.3,359.0 152.3,358.3 149.3,360.4 147.3,359.6 143.3,359.0 142.8,359.2 142.3,361.5 140.3,362.1 137.3,360.4 134.3,361.0 132.9,359.2 131.3,358.7 128.3,360.2 125.3,359.8 122.3,362.0 117.3,361.7 115.3,360.8 114.3,360.9 112.8,362.2 112.3,363.6 110.3,363.3 108.3,363.9 104.3,362.5 103.6,363.2 103.9,365.2 103.3,366.1 96.3,367.1 94.3,366.7 92.3,368.1 90.7,367.2 90.7,365.2 90.3,365.0 90.1,366.2 88.3,367.4 85.3,367.5 81.3,369.3 78.3,370.0 76.3,371.3 75.3,371.3 72.3,370.0 69.3,373.1 67.3,373.4 65.3,372.6 61.3,376.0 57.3,376.2 56.3,375.4 55.3,375.5 53.7,377.2 52.3,380.4 49.3,380.7 48.2,383.2 47.3,383.7 45.3,383.6 43.3,382.5 41.8,384.2 41.3,386.0 39.3,385.7 38.3,383.5 34.8,383.2 34.2,385.2 34.3,388.2 36.3,389.9 36.3,391.4 35.3,392.1 34.3,391.1 33.3,391.3 32.6,393.2 31.2,394.2 31.3,396.2 26.6,401.2 28.3,406.2 28.2,407.2 26.3,409.0 26.3,289.2 27.0,289.2zM38.3,315.5 39.3,315.5 41.3,318.5 40.3,318.7 38.2,316.2z" fill="#f8b850" fill-opacity="0.22" fill-rule="evenodd"/>
<path d="M26.9,290.2 28.7,292.2 29.3,294.7 30.2,295.2 29.3,297.2 30.7,299.2 30.7,300.2 29.2,303.2 32.8,309.2 33.4,314.2 34.3,316.9 36.0,318.2 37.3,320.6 41.3,321.1 44.8,325.2 49.3,326.0 51.3,328.2 54.3,328.2 56.1,329.2 53.3,331.7 53.3,333.4 55.3,333.9 57.3,331.3 60.3,332.4 61.2,333.2 60.7,334.2 58.6,336.2 59.9,339.2 61.3,340.1 64.3,339.4 66.2,338.2 67.3,336.4 68.3,336.2 76.4,341.2 79.3,344.0 82.3,344.0 85.3,346.0 87.3,346.3 88.5,348.2 89.3,348.4 90.2,347.2 89.9,346.2 94.3,344.7 95.3,344.8 98.3,346.5 101.3,345.8 106.3,348.2 109.1,346.2 113.3,345.9 116.3,347.3 118.3,347.5 120.3,348.9 122.3,347.3 125.3,348.6 126.3,348.4 128.3,346.7 130.3,346.3 131.8,347.2 132.2,350.2 133.3,350.5 134.3,348.6 135.3,348.2 137.3,348.5 139.3,346.7 144.3,347.2 147.3,348.1 150.3,347.0 155.3,349.4 160.3,348.7 162.3,349.5 165.3,348.5 168.3,349.8 171.3,349.4 173.3,351.4 174.3,349.6 175.3,349.0 177.3,349.5 180.3,348.6 182.3,349.5 183.3,348.3 184.3,348.3 188.3,349.4 193.3,348.5 197.3,349.6 201.3,348.4 202.3,348.6 204.3,350.2 204.3,359.8 202.2,358.2 200.3,357.5 196.3,358.5 191.3,358.4 189.3,357.8 183.3,358.6 181.3,358.1 179.3,356.4 178.3,357.4 175.3,356.9 173.3,359.1 172.3,359.4 169.3,359.4 163.3,357.9 159.3,360.8 158.3,360.5 156.3,358.5 152.3,358.0 149.3,360.0 142.0,358.2 141.7,361.2 140.3,361.6 139.0,361.2 137.3,359.4 135.3,360.6 134.3,360.5 133.3,359.0 131.3,358.3 128.3,359.8 124.3,359.8 122.3,361.8 119.3,361.2 117.3,361.4 115.3,360.4 112.3,361.2 111.3,360.0 110.3,360.0 110.3,361.8 110.9,362.2 108.3,363.5 104.3,362.1 103.2,362.2 103.3,365.1 102.3,365.8 96.3,366.7 93.3,366.1 92.3,367.4 91.6,367.2 91.7,365.2 90.3,364.5 88.3,367.0 85.3,366.9 76.3,370.5 71.3,369.2 70.3,371.2 68.3,372.6 66.4,372.2 65.3,370.5 64.3,370.0 63.3,373.2 61.3,375.3 59.3,375.3 58.3,374.0 55.3,374.7 53.7,376.2 52.3,379.1 51.3,379.7 48.7,380.2 47.3,382.0 45.3,379.9 43.3,380.1 42.2,381.2 41.3,383.4 40.3,383.7 39.3,377.6 37.8,378.2 38.3,379.8 38.9,380.2 38.1,382.2 37.3,382.5 35.9,382.2 30.3,375.9 28.6,377.2 28.6,378.2 29.3,379.0 30.6,379.2 30.9,380.2 30.3,381.2 26.3,380.3 26.3,289.5zM27.0,382.2 29.1,384.2 28.6,385.2 27.3,385.3 26.3,386.5 26.3,381.8z" fill="#f8b850" fill-opacity="0.22" fill-rule="evenodd"/>
<path d="M27.3,291.0 29.1,295.2 29.3,298.4 30.1,299.2 30.2,300.2 29.1,302.2 29.2,304.2 32.3,309.2 33.1,314.2 35.6,320.2 37.3,321.2 40.3,321.4 41.3,322.0 43.3,325.7 44.1,326.2 49.3,326.7 51.3,329.0 53.3,329.8 52.2,332.2 52.3,333.2 53.4,334.2 56.3,334.8 57.3,332.9 58.3,332.5 59.5,333.2 57.8,336.2 59.5,339.2 61.3,340.4 64.3,340.1 68.3,337.1 71.1,338.2 73.4,340.2 76.3,341.6 79.3,344.5 81.4,344.2 89.3,348.6 90.5,348.2 91.7,346.2 94.3,345.5 98.3,346.9 101.3,346.2 105.3,348.7 107.5,348.2 109.3,346.6 113.3,346.5 118.3,348.0 120.3,349.5 122.3,347.7 125.3,348.9 126.3,348.7 128.3,347.2 130.3,346.8 131.9,348.2 132.3,351.1 134.3,350.5 135.3,348.8 137.3,349.0 139.3,347.1 144.3,347.6 146.3,348.6 150.3,347.6 155.3,349.8 159.3,349.0 162.3,349.7 165.3,348.8 168.3,350.1 170.3,349.7 173.3,352.1 175.3,349.5 177.3,349.8 180.3,349.1 182.3,351.0 183.2,349.2 184.3,348.6 186.3,348.9 188.3,350.0 193.3,348.8 198.3,350.3 201.3,348.7 202.3,348.9 204.3,350.6 204.3,359.5 202.3,357.9 200.3,357.2 196.3,358.2 190.3,356.9 182.3,358.1 179.3,355.6 177.3,356.9 174.3,357.0 173.3,358.5 172.3,358.9 169.3,359.0 163.3,357.3 159.3,360.5 158.3,360.1 156.8,358.2 152.3,357.7 151.3,357.9 149.3,359.6 144.3,358.7 142.3,357.6 141.3,357.7 136.3,358.9 135.3,360.2 133.3,358.5 131.3,358.1 128.3,359.4 124.3,359.4 122.3,361.5 119.3,360.7 117.3,361.0 115.3,360.1 112.3,360.5 111.3,359.2 110.3,359.4 109.8,362.2 109.3,362.7 108.3,363.1 103.3,361.8 102.5,362.2 102.2,363.2 102.8,364.2 102.4,365.2 97.3,366.3 95.6,366.2 94.3,365.3 90.3,364.1 88.3,366.7 87.3,366.9 85.3,366.3 81.3,368.5 76.3,369.7 74.3,369.7 71.3,368.1 70.3,369.0 69.6,371.2 68.3,372.0 67.3,372.0 65.3,369.3 64.3,369.0 63.4,370.2 62.6,373.2 61.3,374.7 60.3,374.9 58.3,373.0 57.3,373.2 54.3,374.8 51.3,379.0 47.3,380.3 45.3,379.3 41.3,380.8 39.3,377.0 37.3,377.9 37.6,381.2 36.3,381.7 33.0,378.2 31.5,375.2 32.3,374.2 31.3,373.1 29.4,373.2 29.0,375.2 26.3,377.7 26.3,290.5zM39.6,327.2 39.3,328.2 40.3,328.7 41.6,328.2 42.0,327.2 40.3,326.7zM70.2,343.2 71.3,343.7 71.6,343.2 71.3,342.4 70.3,342.9zM85.0,364.2 85.3,365.7 86.6,364.2 86.3,363.6 85.3,363.8zM66.0,367.2 65.0,368.2 65.3,369.1 67.3,367.2 66.3,367.0zM58.9,370.2 59.3,371.6 60.3,371.5 60.7,370.2 59.3,369.8zM140.3,358.6 141.7,360.2 141.3,360.8 140.3,361.1 139.3,360.7 138.8,360.2 139.8,359.2z" fill="#f8b850" fill-opacity="0.22" fill-rule="evenodd"/>
<path d="M26.4,291.2 27.4,292.2 27.5,294.2 28.3,294.7 28.9,296.2 29.4,300.2 28.8,302.2 28.8,304.2 32.2,310.2 32.6,314.2 33.9,317.2 34.5,320.2 37.3,322.0 40.1,322.2 40.9,323.2 40.8,325.2 39.3,326.0 38.8,327.2 38.8,328.2 39.3,328.9 40.3,329.2 44.3,327.3 48.3,327.3 51.7,330.2 51.7,333.2 52.4,334.2 57.3,336.7 60.1,340.2 64.3,341.0 65.3,342.3 66.3,342.0 68.3,339.0 69.3,338.5 70.3,338.7 71.2,339.2 72.3,341.0 74.3,341.1 76.3,342.1 79.3,345.1 81.3,344.9 88.3,348.8 89.3,348.9 91.1,348.2 92.3,346.6 94.3,346.3 98.3,347.4 101.3,347.0 105.3,349.4 108.3,348.3 109.3,347.2 110.3,346.8 112.3,346.9 117.8,348.2 119.3,349.6 120.3,349.9 122.3,348.3 125.3,349.2 126.3,349.1 128.3,347.5 130.3,347.3 131.4,348.2 131.3,351.2 132.3,351.6 134.4,351.2 139.3,348.1 143.3,348.0 146.3,349.2 151.3,348.3 155.3,350.2 159.3,349.3 162.3,349.9 165.3,349.1 168.3,350.4 170.3,350.3 173.3,352.7 174.3,352.5 175.3,350.1 180.3,349.7 181.3,351.5 182.3,351.5 183.3,350.8 184.1,349.2 185.3,349.0 186.3,349.3 187.3,350.6 188.3,350.6 193.3,349.1 198.3,350.8 199.3,350.6 201.3,349.1 202.3,349.3 204.3,350.9 204.3,359.1 201.3,357.0 199.3,356.9 196.3,357.7 193.3,357.2 191.3,356.0 189.5,356.2 188.3,357.0 182.3,357.7 179.3,355.0 177.3,356.2 174.3,356.4 172.3,358.3 169.3,358.5 163.3,356.7 162.0,357.2 160.7,359.2 159.3,360.1 158.3,359.5 157.3,357.6 151.3,357.4 149.3,359.2 144.3,358.3 142.3,356.9 141.3,356.9 138.3,357.8 134.3,358.2 131.3,357.8 127.3,359.0 124.3,359.0 122.3,361.1 119.5,360.2 119.3,359.2 113.3,360.3 111.3,358.8 110.0,359.2 109.2,362.2 108.3,362.7 103.3,361.4 101.7,362.2 101.1,364.2 99.3,365.3 97.3,365.6 91.3,363.6 90.3,363.7 89.1,364.2 88.4,366.2 87.3,366.6 86.1,366.2 87.3,364.2 87.0,363.2 86.3,363.0 85.3,363.3 84.5,364.2 83.7,366.2 80.3,368.4 77.3,368.2 74.3,369.1 72.5,368.2 71.3,366.9 70.3,367.1 69.6,368.2 69.4,370.2 68.3,371.3 67.3,371.3 66.3,370.2 66.2,369.2 68.1,367.2 68.3,364.2 67.3,363.8 66.6,366.2 62.9,369.2 62.3,371.0 60.3,369.2 58.9,369.2 58.1,372.2 54.3,373.9 53.3,375.3 52.3,375.8 50.3,375.0 49.0,375.2 48.0,376.2 50.4,378.2 47.3,379.4 45.3,378.8 41.3,379.4 39.3,376.4 37.1,377.2 36.3,380.5 34.3,379.0 33.0,377.2 32.8,376.2 33.4,374.2 32.7,373.2 29.3,372.6 27.3,374.1 26.3,374.3 26.3,291.1zM71.2,341.2 70.3,341.7 69.7,343.2 70.3,344.3 71.7,344.2 72.3,343.2 72.3,341.5 71.3,341.1zM60.3,373.1 61.3,372.2 61.3,373.7 60.2,373.2z" fill="#fcd786" fill-rule="evenodd"/>
<path d="M26.4,292.2 26.6,294.2 28.5,296.2 28.8,300.2 28.3,302.7 27.7,303.2 31.9,311.2 31.9,315.2 33.5,317.2 34.3,322.0 34.9,323.2 34.8,324.2 35.3,325.3 37.3,326.4 38.5,329.2 40.3,329.7 45.3,327.8 47.4,328.2 50.3,330.5 51.3,334.0 53.1,336.2 56.3,337.2 57.7,339.2 59.0,340.2 63.3,341.8 65.3,343.1 66.3,342.9 68.3,341.4 69.3,344.2 70.3,345.2 72.3,344.8 73.2,342.2 74.3,341.7 76.3,342.8 80.5,347.2 81.3,347.5 83.3,346.9 88.3,349.2 90.3,349.1 93.3,347.1 97.3,348.3 100.3,347.7 105.3,350.2 107.3,349.5 109.3,349.7 109.7,348.2 111.3,347.3 117.3,348.5 119.3,350.3 120.3,350.4 122.3,348.9 123.3,348.8 126.3,349.7 128.3,348.1 129.3,347.9 130.5,348.2 131.0,349.2 130.6,351.2 130.7,352.2 131.3,352.4 136.3,351.8 139.3,349.2 143.3,348.8 145.3,349.9 148.3,349.7 149.3,350.4 150.9,349.2 152.3,349.2 156.3,351.2 157.5,350.2 159.3,349.8 162.3,350.3 165.3,349.6 168.3,350.9 170.3,351.0 173.3,353.5 174.6,353.2 175.5,351.2 179.3,350.0 180.3,350.6 180.7,352.2 181.3,352.6 184.2,351.2 185.3,349.7 186.0,350.2 186.3,351.2 187.3,351.7 193.3,349.6 198.3,351.4 201.3,349.8 202.3,349.9 204.3,351.6 204.3,358.4 203.0,357.2 201.3,356.5 197.3,356.9 196.3,356.2 196.3,354.9 195.3,354.9 193.3,356.0 190.3,355.4 187.3,356.5 182.3,357.1 179.3,354.1 176.3,355.7 170.3,356.1 169.3,357.5 166.3,357.1 163.3,355.9 161.3,356.4 158.3,356.2 155.3,357.1 151.3,356.9 149.3,358.2 144.3,357.8 142.3,355.8 141.3,355.4 138.3,357.3 135.3,357.0 133.3,357.5 129.3,357.6 126.3,358.6 124.3,358.4 123.3,358.8 122.3,360.5 120.8,360.2 120.3,358.2 119.3,357.9 113.3,359.8 111.3,358.1 110.3,358.3 108.3,362.1 107.3,362.2 103.3,360.7 100.7,362.2 99.3,364.5 98.3,364.6 96.3,363.7 92.3,363.1 88.3,363.3 86.3,362.6 84.8,363.2 81.3,367.4 79.3,367.8 77.3,366.6 74.3,368.4 73.3,368.1 71.3,365.5 69.3,364.4 67.3,362.4 66.6,365.2 65.3,366.6 61.3,368.8 58.2,368.2 57.3,369.2 57.5,371.2 56.4,372.2 54.3,372.6 52.3,374.8 49.3,374.3 47.6,375.2 46.3,377.8 43.3,378.7 42.3,378.7 41.3,378.2 39.3,375.7 36.3,376.4 33.6,373.2 32.3,372.6 29.3,371.9 26.3,373.7 26.3,292.1zM34.3,376.1 35.6,377.2 35.7,378.2 35.3,378.9 34.3,378.3 33.8,377.2 34.2,376.2z" fill="#fccb66" fill-rule="evenodd"/>
<path d="M26.5,295.2 27.6,296.2 28.0,298.2 26.3,302.7 26.3,294.9zM26.8,305.2 28.3,305.5 29.3,308.7 31.4,312.2 30.8,314.2 29.2,316.2 29.3,317.7 30.3,318.1 32.3,317.7 33.3,318.5 34.3,325.2 36.1,327.2 36.3,329.2 39.3,330.4 43.3,330.1 45.3,328.8 47.3,329.2 52.3,337.2 55.3,337.8 56.3,340.2 59.8,341.2 64.3,343.6 67.3,343.4 68.3,343.9 69.3,345.8 70.3,346.2 73.3,346.9 74.8,346.2 73.3,344.2 74.3,342.6 75.7,343.2 78.9,347.2 81.3,348.7 83.3,348.3 88.3,349.8 91.2,349.2 93.3,348.0 96.3,349.3 100.3,348.6 105.3,351.0 107.3,350.6 110.3,351.4 111.3,350.4 111.7,349.2 112.3,348.9 117.3,349.1 119.3,350.9 123.3,349.3 126.3,350.7 127.5,349.2 129.3,348.6 130.3,349.2 130.3,350.2 129.2,352.2 130.3,353.1 137.3,352.7 139.3,350.2 140.3,350.0 144.4,351.2 144.8,352.2 147.3,351.7 148.2,353.2 149.3,353.5 151.4,353.2 152.2,352.2 151.8,351.2 152.3,350.4 157.3,353.0 158.2,351.2 159.3,350.4 162.3,350.8 165.3,350.2 168.3,351.9 170.3,352.0 172.9,354.2 166.3,355.7 163.3,354.8 161.3,355.5 158.3,355.3 155.3,356.5 150.3,356.3 147.3,357.4 145.3,357.6 143.4,356.2 143.0,354.2 142.3,353.8 140.3,354.5 139.3,356.2 138.3,356.7 135.3,356.1 133.3,356.8 130.3,356.9 128.3,356.3 126.3,358.0 123.3,357.4 121.3,357.8 119.3,357.1 113.3,359.1 111.3,357.6 110.3,357.7 107.3,361.4 103.5,359.2 102.3,359.1 102.1,360.2 99.3,362.1 98.3,363.3 92.3,362.3 89.3,362.7 87.3,362.2 85.3,362.4 80.3,366.8 79.5,366.2 80.5,364.2 79.3,363.2 76.3,363.8 74.3,362.6 72.3,364.2 69.3,363.3 67.3,361.7 66.3,362.2 66.3,364.2 65.3,365.9 61.3,368.0 58.3,367.1 57.3,367.4 56.4,368.2 55.3,370.8 52.3,372.7 51.3,373.0 50.3,372.6 49.3,373.2 46.4,375.2 45.2,377.2 43.3,378.0 42.3,378.0 41.3,377.4 39.3,374.4 37.3,375.6 33.3,372.2 28.3,370.7 26.3,373.1 26.3,304.4zM192.3,350.8 195.3,350.9 197.0,352.2 193.3,354.4 189.3,354.7 186.3,355.9 183.3,356.5 182.3,356.4 180.9,355.2 180.6,354.2 183.3,352.2 184.3,352.0 188.3,352.7 191.3,351.2zM201.3,350.9 202.3,350.8 204.3,352.6 204.3,356.0 198.0,355.2 197.6,354.2 197.9,353.2 200.9,351.2zM176.3,352.1 177.8,352.2 176.9,354.2 175.3,355.0 174.4,354.2 175.8,353.2 176.2,352.2zM73.3,364.8 75.5,365.2 76.1,366.2 75.3,367.2 74.3,367.6 73.3,367.2 72.8,365.2z" fill="#fabd40" fill-rule="evenodd"/>
<path d="M27.3,307.2 28.3,308.0 28.8,310.2 30.0,312.2 30.0,313.2 28.2,316.2 28.4,318.2 33.2,322.2 33.6,325.2 34.9,327.2 35.3,329.7 36.3,331.0 39.3,332.2 41.3,332.4 44.3,333.8 46.3,333.0 47.4,333.2 49.3,334.6 50.9,338.2 54.3,338.9 54.4,341.2 55.3,342.5 57.3,341.8 59.3,342.1 61.3,344.7 66.3,345.2 69.3,347.2 72.3,347.8 75.3,347.7 77.3,348.8 79.3,348.8 81.3,350.2 82.3,349.6 84.3,349.7 88.3,350.6 93.3,349.3 95.3,350.8 96.3,351.0 99.3,350.0 102.3,350.6 109.3,353.6 111.1,353.2 113.3,351.3 118.3,352.1 120.3,351.6 123.3,350.1 125.0,351.2 125.8,353.2 127.0,354.2 126.3,356.3 125.3,356.6 123.3,355.7 120.3,356.1 114.3,358.1 110.3,356.7 108.3,357.9 104.3,358.0 101.3,357.3 100.6,358.2 100.3,360.0 97.3,361.1 96.3,361.3 94.3,360.7 92.3,361.2 90.3,360.9 85.3,361.6 82.3,363.1 81.3,359.6 80.3,360.1 80.3,361.4 79.3,362.1 77.3,362.4 76.3,362.4 74.3,361.4 70.3,362.6 69.3,362.4 67.3,361.0 66.3,361.2 65.6,362.2 65.6,364.2 64.8,365.2 62.3,365.4 61.3,366.5 58.3,365.9 57.1,366.2 54.3,368.4 50.6,369.2 48.6,372.2 46.3,373.4 43.3,372.9 41.3,371.0 40.1,371.2 37.3,374.0 33.3,371.1 31.3,371.2 28.3,368.7 26.6,369.2 26.7,371.2 26.3,371.9 26.3,307.4zM41.5,338.2 41.4,339.2 42.0,340.2 44.0,340.2 44.1,339.2 42.3,337.4zM164.3,351.1 166.0,352.2 166.2,353.2 165.3,354.1 163.3,353.0 162.3,353.3 162.0,354.2 161.3,354.5 158.7,354.2 158.6,353.2 159.3,351.9 162.3,352.1 164.0,351.2zM183.3,353.0 184.3,353.0 186.9,354.2 185.6,355.2 184.3,355.6 182.3,355.4 181.7,354.2 183.0,353.2zM130.3,354.1 132.5,354.2 132.7,355.2 131.3,355.7 129.8,355.2 129.4,354.2zM136.3,354.0 137.3,353.8 138.6,354.2 138.3,355.7 137.3,355.9 136.3,355.4 136.0,354.2zM146.3,354.0 147.5,354.2 148.0,355.2 146.3,356.5 144.8,356.2 144.6,355.2 145.7,354.2zM155.3,353.9 156.0,354.2 155.3,354.9 154.6,354.2zM42.3,374.3 43.3,374.4 44.1,375.2 44.1,376.2 43.3,377.0 42.3,377.0 41.5,376.2 41.4,375.2z" fill="#f8ac12" fill-rule="evenodd"/>
<path d="M26.5,317.2 29.8,321.2 30.2,323.2 29.3,324.5 31.3,324.6 33.8,327.2 34.5,331.2 33.6,334.2 34.3,336.1 35.3,336.4 37.3,335.4 39.3,335.6 40.0,336.2 40.3,340.2 41.3,341.8 45.3,341.4 47.3,338.5 49.3,340.6 52.3,340.7 54.3,343.4 55.3,344.0 58.3,343.5 60.3,346.0 62.3,346.9 65.3,347.0 69.3,348.4 75.3,348.9 77.3,350.6 80.3,350.8 81.3,351.4 82.3,350.7 84.3,350.6 88.3,351.7 92.3,350.5 95.3,351.9 98.3,351.7 100.3,353.4 101.3,353.5 103.3,352.6 105.3,352.8 107.8,354.2 107.3,355.2 105.3,356.6 101.3,356.0 98.3,359.0 97.3,359.4 94.3,359.1 92.3,359.6 90.3,359.2 86.3,360.6 84.3,359.7 82.3,359.7 81.3,358.4 79.3,357.6 77.7,358.2 77.4,360.2 76.3,360.7 73.3,359.7 70.3,361.2 67.3,360.2 66.3,360.4 65.3,361.2 64.3,363.7 59.3,363.9 57.3,364.7 55.3,364.8 54.2,365.2 53.3,366.5 48.3,368.9 46.3,369.4 43.3,369.0 37.3,371.5 36.2,371.2 33.8,369.2 31.3,368.1 26.3,367.9 26.3,317.0zM122.3,351.7 123.3,351.3 124.0,352.2 123.3,353.5 122.3,353.5 114.3,356.9 112.2,356.2 111.4,355.2 112.3,353.8 114.3,353.1 116.3,353.6 119.3,353.4 121.4,352.2z" fill="#f79b00" fill-rule="evenodd"/>
<path d="M28.3,326.9 30.0,327.2 28.7,329.2 28.7,330.2 29.3,331.4 31.7,333.2 32.3,336.0 34.3,339.0 37.3,337.4 38.3,337.3 39.3,341.4 40.3,342.7 45.3,342.9 47.3,342.5 49.3,343.9 52.3,343.5 54.3,346.0 58.3,346.0 61.3,348.1 65.3,348.7 68.3,350.4 70.3,349.9 73.8,350.2 77.3,351.7 79.3,351.7 81.3,352.4 82.3,351.7 84.3,351.6 89.3,353.1 91.3,351.8 95.3,352.9 97.3,352.8 98.5,353.2 99.8,355.2 98.3,357.0 95.3,357.6 93.3,356.7 90.3,356.6 87.3,358.5 84.3,357.2 82.3,358.5 81.3,357.1 79.3,356.8 76.5,357.2 75.3,358.0 72.3,358.1 70.3,359.1 67.3,358.8 65.3,359.8 63.3,362.5 62.3,362.6 61.5,362.2 60.3,360.7 56.3,363.2 54.3,363.0 50.3,366.6 46.3,367.6 43.3,367.5 39.3,369.4 37.3,369.4 35.3,367.9 31.3,366.4 26.3,367.0 26.3,327.4 27.7,327.2zM103.3,354.0 105.3,353.9 106.0,354.2 105.3,354.9 104.2,355.2 102.9,354.2z" fill="#f28300" fill-rule="evenodd"/>
<path d="M27.3,332.8 29.1,334.2 27.4,338.2 29.3,339.3 32.3,339.6 34.3,341.1 37.3,340.5 38.3,343.2 39.3,344.0 43.3,344.3 46.3,345.9 51.3,346.9 55.3,348.6 58.3,347.8 61.3,349.6 68.3,351.6 79.3,352.6 81.3,353.4 85.3,353.1 88.1,354.2 88.2,355.2 87.3,356.5 83.3,355.1 82.3,355.8 72.3,356.8 70.3,357.5 67.3,357.2 63.3,359.0 59.3,359.2 57.3,360.6 49.3,362.6 45.3,364.4 43.3,363.8 37.3,365.1 35.3,364.4 33.3,365.4 30.3,365.3 26.3,366.0 26.3,332.3z" fill="#ec6800" fill-rule="evenodd"/>
<path d="M28.3,341.0 29.3,340.7 32.3,341.0 33.0,342.2 32.3,344.0 31.3,344.4 29.3,343.5 28.1,342.2 28.2,341.2zM35.3,342.8 36.1,343.2 35.3,344.4 34.5,343.2zM36.3,344.6 37.3,345.5 40.3,345.7 43.3,346.6 45.3,347.8 48.3,347.5 52.3,348.4 54.3,350.3 56.3,351.2 57.3,351.1 58.3,349.2 62.3,351.7 66.3,352.0 68.3,353.0 78.3,353.1 81.8,354.2 78.3,355.6 72.3,355.6 70.3,356.5 67.3,355.9 63.3,357.4 59.3,357.2 55.3,359.4 54.1,359.2 53.3,358.0 52.7,358.2 53.1,359.2 52.4,360.2 50.3,360.4 47.3,361.7 44.3,361.9 38.3,363.7 35.3,362.5 32.3,363.2 30.3,363.1 29.3,363.4 28.8,364.2 26.3,365.0 26.3,362.5 28.3,363.0 29.1,362.2 28.1,360.2 26.3,359.6 26.3,345.8 28.3,345.5 34.3,347.4 35.3,347.2 36.0,345.2z" fill="#e35300" fill-rule="evenodd"/>
<path d="M27.3,347.3 31.3,347.9 36.3,349.3 39.3,348.3 44.3,349.4 48.0,349.2 49.7,351.2 53.3,351.7 56.3,353.2 68.3,353.9 78.3,353.7 80.2,354.2 78.3,354.9 68.3,354.6 65.3,355.4 58.3,356.1 55.3,355.8 52.3,357.0 46.2,358.2 43.3,360.0 35.3,359.8 33.3,360.9 32.3,360.9 28.3,358.7 26.3,358.2 26.3,347.5z" fill="#d34000" fill-rule="evenodd"/>
<path d="M27.3,348.6 31.3,348.8 36.3,349.9 39.3,349.7 40.7,350.2 45.3,350.3 49.3,352.3 52.3,352.6 55.3,353.8 60.1,354.2 58.3,354.8 55.3,354.6 54.3,355.6 51.3,356.7 48.3,357.1 42.3,358.9 33.3,359.0 26.3,357.5 26.3,348.6z" fill="#bc3200" fill-rule="evenodd"/>
<path d="M27.3,349.3 33.3,349.7 36.3,350.4 45.3,350.9 47.5,352.2 54.7,354.2 53.8,355.2 51.3,356.2 46.3,357.2 45.3,357.8 41.3,358.4 33.3,358.6 26.3,356.8 26.3,349.2z" fill="#a02600" fill-rule="evenodd"/>
<path d="M29.3,350.2 43.3,350.9 53.0,354.2 52.1,355.2 46.3,356.8 45.3,357.5 39.3,358.2 30.3,357.6 28.3,356.3 26.3,356.0 26.3,350.5 29.0,350.2z" fill="#822000" fill-rule="evenodd"/>
<path d="M30.3,351.0 42.3,351.1 46.3,352.0 47.3,352.9 50.5,354.2 45.3,357.3 39.3,357.7 30.3,357.3 28.3,355.3 26.3,354.9 26.3,353.2 27.3,352.0 29.9,351.2z" fill="#5b1300" fill-rule="evenodd"/>
<path d="M31.3,352.0 33.3,351.8 36.3,352.4 39.3,351.7 43.3,352.4 46.3,352.5 47.9,354.2 46.3,355.6 44.2,356.2 42.7,357.2 39.3,357.3 30.3,355.6 28.6,354.2 30.5,352.2z" fill="#320b00" fill-rule="evenodd"/>
<path d="M32.3,354.0 33.3,353.5 40.3,353.5 42.2,354.2 41.3,355.6 40.3,356.1 39.3,355.9 31.9,354.2z" fill="#200800" fill-rule="evenodd"/>
<path d="M26.3,291.4 27.1,292.2 27.2,294.2 28.3,295.0 28.8,296.2 29.2,300.2 28.5,303.2 28.7,304.2 30.3,307.7 32.0,310.2 32.4,314.2 34.1,318.2 34.3,320.6 36.3,322.0 37.3,322.4 39.3,322.3 40.4,323.2 40.3,324.6 38.6,326.2 38.6,328.2 39.3,329.2 40.9,329.2 45.3,327.3 48.3,327.8 51.1,330.2 51.5,333.2 52.3,334.5 53.3,335.3 57.3,337.1 58.7,339.2 59.8,340.2 61.3,340.9 63.8,341.2 65.3,342.5 66.5,342.2 69.1,339.2 70.3,339.2 71.1,340.2 69.7,342.2 69.6,343.2 70.3,344.6 71.3,344.6 72.1,344.2 72.6,342.2 73.3,341.3 74.3,341.3 76.2,342.2 79.3,345.4 80.3,345.7 81.3,345.2 88.3,348.9 89.3,349.0 91.3,348.2 92.3,346.9 93.3,346.5 97.3,347.6 100.8,347.2 105.3,349.6 108.3,348.6 110.3,347.0 117.3,348.2 118.3,348.7 119.3,349.8 120.3,350.0 122.3,348.5 123.3,348.4 125.3,349.3 126.3,349.2 128.3,347.7 130.3,347.5 131.1,348.2 131.3,348.9 131.1,351.2 131.3,351.6 132.3,351.8 135.3,351.2 139.3,348.4 143.3,348.2 146.3,349.5 151.3,348.5 155.3,350.4 159.3,349.5 162.3,350.0 165.3,349.3 168.3,350.6 170.3,350.5 173.3,353.0 174.3,352.8 175.3,350.5 177.3,350.4 179.3,349.7 180.3,349.9 181.3,351.9 183.4,351.2 184.3,349.3 185.3,349.1 186.3,349.7 187.3,351.0 193.3,349.2 198.3,351.0 199.3,350.7 201.3,349.3 202.3,349.5 204.3,351.1M204.3,358.9 201.3,356.9 199.3,356.7 196.3,357.5 193.3,356.8 191.3,355.8 189.3,356.0 187.3,357.0 182.3,357.5 181.3,356.9 179.3,354.7 177.3,355.8 174.3,356.2 172.3,357.8 171.3,357.6 169.3,358.3 163.3,356.5 161.4,357.2 160.5,359.2 159.3,359.8 158.3,359.2 158.2,358.2 157.3,357.2 154.3,357.5 151.3,357.3 149.3,358.9 144.4,358.2 142.3,356.7 141.3,356.5 138.3,357.7 134.3,357.9 131.3,357.7 127.3,358.9 124.3,358.8 122.3,360.9 121.3,360.9 119.9,360.2 119.3,358.6 113.3,360.1 111.3,358.5 110.3,358.7 109.9,359.2 108.9,362.2 108.3,362.6 103.3,361.2 101.4,362.2 100.6,364.2 99.3,365.1 97.3,365.2 96.3,364.5 91.3,363.5 90.3,363.6 88.6,364.2 88.3,365.8 87.3,366.4 86.6,366.2 86.7,365.2 87.9,364.2 87.4,363.2 86.3,362.9 85.2,363.2 83.3,366.2 80.3,368.3 77.3,367.8 74.3,368.9 72.7,368.2 71.3,366.3 70.3,366.5 68.9,368.2 69.0,370.2 68.3,370.9 67.3,371.0 66.6,370.2 66.6,369.2 68.1,368.2 68.7,367.2 68.6,364.2 67.3,363.1 67.0,365.2 63.3,368.6 61.3,369.3 59.3,368.9 58.3,369.1 58.1,371.2 57.6,372.2 54.3,373.5 53.3,374.9 52.3,375.5 50.3,374.7 48.4,375.2 47.6,376.2 49.1,378.2 47.3,379.0 45.3,378.6 41.3,379.0 40.3,377.1 39.3,376.2 36.6,377.2 36.3,379.5 35.3,379.6 33.8,378.2 33.3,377.2 33.1,376.2 33.6,374.2 33.0,373.2 29.3,372.4 27.3,373.9 26.3,374.1M36.3,324.2 36.3,324.2" fill="none" stroke="#000" stroke-width="0.9"/>
<path d="M26.3,334.3 27.0,335.2 26.3,336.5M26.3,345.5 29.3,344.6 29.4,344.2 28.3,343.5 27.6,342.2 27.6,341.2 28.3,340.3 31.3,340.4 32.3,340.6 34.3,342.5 36.3,342.5 36.8,344.2 38.0,345.2 40.3,345.2 43.3,346.1 45.3,347.3 48.3,347.2 52.3,348.0 55.3,350.4 56.3,350.4 58.3,348.9 62.3,351.2 66.3,351.7 68.3,352.5 78.3,353.0 82.1,354.2 81.3,354.9 78.3,355.8 72.3,355.9 70.3,356.7 67.3,356.1 63.3,357.9 59.3,357.7 58.3,358.0 57.3,359.2 56.3,359.7 50.3,361.0 46.3,362.6 44.3,362.3 38.3,364.1 37.3,364.0 35.3,363.0 34.3,363.1 26.3,365.3M26.3,361.8 27.3,361.8 28.1,361.2 27.3,360.2 26.3,360.0M33.3,344.1 32.3,344.8 30.5,345.2 31.1,346.2 34.3,347.1 35.0,346.2 34.9,345.2 34.3,344.3 33.6,344.2z" fill="none" stroke="#000" stroke-width="0.9"/>
<path d="M26.3,349.6 32.3,349.7 36.3,350.5 43.3,350.7 45.3,351.0 47.3,352.3 54.3,354.2 53.4,355.2 51.3,356.0 46.3,357.1 45.3,357.7 41.3,358.3 33.3,358.4 26.3,356.5" fill="none" stroke="#000" stroke-width="0.9"/>
<path d="M26.3,354.0 27.3,352.9 28.3,352.8 30.3,351.4 33.3,351.1 36.3,351.7 39.3,351.1 42.7,351.2 44.3,351.9 46.3,352.1 49.5,354.2 47.3,356.0 44.8,357.2 39.3,357.6 31.2,357.2 30.3,356.9 28.3,354.9 27.3,354.9 26.3,354.3" fill="none" stroke="#000" stroke-width="0.9"/>
<ellipse cx="121.5" cy="375.2" rx="1.4" ry="1.9" fill="#f6a21c" stroke="#111" stroke-width="1.0"/><ellipse cx="168.9" cy="404.0" rx="1.1" ry="1.8" fill="#f6a21c" stroke="#111" stroke-width="1.0"/><ellipse cx="160.3" cy="401.9" rx="1.2" ry="1.4" fill="#f6a21c" stroke="#111" stroke-width="1.0"/><ellipse cx="174.8" cy="404.0" rx="1.2" ry="1.7" fill="#f6a21c" stroke="#111" stroke-width="1.0"/><ellipse cx="122.2" cy="300.9" rx="1.3" ry="1.4" fill="#f6a21c" stroke="#111" stroke-width="1.0"/><ellipse cx="122.8" cy="365.3" rx="0.6" ry="0.6" fill="#1a1a1a"/><ellipse cx="192.0" cy="306.4" rx="0.7" ry="0.6" fill="#1a1a1a"/><ellipse cx="133.5" cy="297.2" rx="0.6" ry="0.5" fill="#1a1a1a"/><ellipse cx="153.8" cy="322.3" rx="0.7" ry="0.7" fill="#1a1a1a"/><ellipse cx="162.2" cy="303.9" rx="0.9" ry="0.6" fill="#1a1a1a"/><ellipse cx="131.6" cy="353.4" rx="0.7" ry="0.9" fill="#1a1a1a"/><ellipse cx="154.7" cy="368.1" rx="0.9" ry="0.8" fill="#1a1a1a"/><ellipse cx="178.8" cy="334.2" rx="1.1" ry="0.8" fill="#1a1a1a"/><ellipse cx="122.7" cy="363.5" rx="1.0" ry="1.0" fill="#1a1a1a"/><ellipse cx="134.3" cy="302.3" rx="0.9" ry="0.9" fill="#1a1a1a"/><ellipse cx="122.0" cy="336.4" rx="1.3" ry="0.9" fill="#1a1a1a"/><ellipse cx="134.9" cy="364.5" rx="1.0" ry="0.7" fill="#1a1a1a"/><ellipse cx="185.3" cy="329.9" rx="0.8" ry="0.4" fill="#1a1a1a"/><ellipse cx="176.6" cy="309.3" rx="0.8" ry="0.8" fill="#1a1a1a"/><ellipse cx="142.4" cy="394.7" rx="1.3" ry="0.9" fill="#1a1a1a"/><ellipse cx="148.5" cy="324.8" rx="0.9" ry="0.8" fill="#1a1a1a"/><ellipse cx="168.6" cy="364.4" rx="1.0" ry="0.7" fill="#1a1a1a"/><ellipse cx="171.6" cy="387.2" rx="0.5" ry="0.7" fill="#1a1a1a"/><ellipse cx="191.3" cy="320.5" rx="0.9" ry="0.7" fill="#1a1a1a"/><ellipse cx="145.8" cy="388.2" rx="0.9" ry="0.9" fill="#1a1a1a"/><ellipse cx="140.6" cy="387.5" rx="0.6" ry="0.5" fill="#1a1a1a"/><ellipse cx="128.9" cy="371.8" rx="0.6" ry="0.6" fill="#1a1a1a"/><ellipse cx="165.9" cy="303.4" rx="0.5" ry="0.5" fill="#1a1a1a"/><ellipse cx="159.3" cy="298.2" rx="1.2" ry="1.0" fill="#1a1a1a"/><ellipse cx="165.3" cy="344.2" rx="0.6" ry="0.6" fill="#1a1a1a"/><ellipse cx="135.6" cy="359.4" rx="1.3" ry="0.7" fill="#1a1a1a"/><ellipse cx="191.8" cy="314.3" rx="0.9" ry="0.6" fill="#1a1a1a"/><ellipse cx="158.7" cy="414.0" rx="0.6" ry="0.6" fill="#1a1a1a"/><ellipse cx="180.1" cy="358.7" rx="0.7" ry="0.6" fill="#1a1a1a"/><ellipse cx="180.0" cy="372.0" rx="0.6" ry="0.5" fill="#1a1a1a"/><ellipse cx="196.1" cy="300.3" rx="1.0" ry="1.3" fill="#c8c8f4" stroke="#222" stroke-width="0.9"/><ellipse cx="181.7" cy="391.8" rx="1.0" ry="1.3" fill="#c8c8f4" stroke="#222" stroke-width="0.9"/><ellipse cx="195.3" cy="321.2" rx="1.2" ry="1.6" fill="#c8c8f4" stroke="#222" stroke-width="0.9"/><ellipse cx="141.1" cy="387.0" rx="1.2" ry="1.6" fill="#c8c8f4" stroke="#222" stroke-width="0.9"/><ellipse cx="136.2" cy="412.5" rx="1.3" ry="1.7" fill="#c8c8f4" stroke="#222" stroke-width="0.9"/>
<line x1="44.3" y1="354.45" x2="204.5" y2="354.45" stroke="#000" stroke-width="1.1" stroke-dasharray="2.5 1.9"/>
</g>
<rect x="126.4" y="381.1" width="68.3" height="29.2" fill="#fff"/>
<linearGradient id="gd" x1="0" x2="1" y1="0" y2="0"><stop offset="0.000" stop-color="#200800"/><stop offset="0.043" stop-color="#320b00"/><stop offset="0.087" stop-color="#4a0f00"/><stop offset="0.130" stop-color="#641600"/><stop offset="0.174" stop-color="#7b1e00"/><stop offset="0.217" stop-color="#8e2200"/><stop offset="0.261" stop-color="#a02600"/><stop offset="0.304" stop-color="#af2c00"/><stop offset="0.348" stop-color="#c03400"/><stop offset="0.391" stop-color="#ce3d00"/><stop offset="0.435" stop-color="#d94600"/><stop offset="0.478" stop-color="#e55600"/><stop offset="0.522" stop-color="#ec6900"/><stop offset="0.565" stop-color="#f28100"/><stop offset="0.609" stop-color="#f79d00"/><stop offset="0.652" stop-color="#f9b62b"/><stop offset="0.696" stop-color="#fdde96"/><stop offset="0.739" stop-color="#fefeff"/><stop offset="0.783" stop-color="#f2f2ff"/><stop offset="0.826" stop-color="#e0e0ff"/><stop offset="0.870" stop-color="#cacaff"/><stop offset="0.913" stop-color="#b4b4ff"/><stop offset="0.957" stop-color="#9f9fff"/><stop offset="1.000" stop-color="#8b8bff"/></linearGradient>
<rect x="133.9" y="400.1" width="53.7" height="7.5" fill="url(#gd)" stroke="#111" stroke-width="0.8"/>
<text x="134.30" y="395.30" font-size="5.20" font-weight="bold" fill="#000" text-anchor="middle" style="font-family:'Liberation Sans',sans-serif">60</text>
<text x="147.40" y="395.30" font-size="5.20" font-weight="bold" fill="#000" text-anchor="middle" style="font-family:'Liberation Sans',sans-serif">40</text>
<text x="160.50" y="395.30" font-size="5.20" font-weight="bold" fill="#000" text-anchor="middle" style="font-family:'Liberation Sans',sans-serif">20</text>
<text x="173.50" y="395.30" font-size="5.20" font-weight="bold" fill="#000" text-anchor="middle" style="font-family:'Liberation Sans',sans-serif">0</text>
<text x="186.80" y="395.30" font-size="5.20" font-weight="bold" fill="#000" text-anchor="middle" style="font-family:'Liberation Sans',sans-serif">-20</text>
<path d="M134.3,397.3 v2.8 M147.4,397.3 v2.8 M160.5,397.3 v2.8 M173.5,397.3 v2.8 M186.8,397.3 v2.8" stroke="#111" stroke-width="0.7"/>
<text x="156.20" y="387.00" font-size="5.20" font-weight="bold" fill="#000" text-anchor="start" style="font-family:'Liberation Sans',sans-serif">Am<tspan font-size="3.6" dy="-1.8">2</tspan><tspan dy="1.8">/T</tspan><tspan font-size="3.6" dy="-1.8">2</tspan></text>
<rect x="26.3" y="289.2" width="178.2" height="130.4" fill="none" stroke="#000" stroke-width="1.5"/>
<path d="M56.0,289.2 v5 M56.0,419.6 v-5 M85.7,289.2 v5 M85.7,419.6 v-5 M115.4,289.2 v5 M115.4,419.6 v-5 M145.1,289.2 v5 M145.1,419.6 v-5 M174.8,289.2 v5 M174.8,419.6 v-5 M26.3,414.0 h5.2 M204.5,414.0 h-5.2 M26.3,384.2 h5.2 M204.5,384.2 h-5.2 M26.3,354.4 h5.2 M204.5,354.4 h-5.2 M26.3,324.6 h5.2 M204.5,324.6 h-5.2 M26.3,294.9 h5.2 M204.5,294.9 h-5.2" stroke="#000" stroke-width="1.3" fill="none"/>
<text x="9.70" y="296.33" font-size="6.50" font-weight="bold" fill="#000" text-anchor="start" style="font-family:'Liberation Sans',sans-serif" textLength="12.50" lengthAdjust="spacingAndGlyphs">100</text>
<text x="13.70" y="326.93" font-size="6.50" font-weight="bold" fill="#000" text-anchor="start" style="font-family:'Liberation Sans',sans-serif" textLength="8.50" lengthAdjust="spacingAndGlyphs">50</text>
<text x="18.20" y="356.73" font-size="6.50" font-weight="bold" fill="#000" text-anchor="start" style="font-family:'Liberation Sans',sans-serif" textLength="4.00" lengthAdjust="spacingAndGlyphs">0</text>
<text x="11.30" y="386.63" font-size="6.50" font-weight="bold" fill="#000" text-anchor="start" style="font-family:'Liberation Sans',sans-serif" textLength="10.90" lengthAdjust="spacingAndGlyphs">-50</text>
<text x="7.30" y="415.83" font-size="6.50" font-weight="bold" fill="#000" text-anchor="start" style="font-family:'Liberation Sans',sans-serif" textLength="14.90" lengthAdjust="spacingAndGlyphs">-100</text>
<text x="25.30" y="430.93" font-size="6.50" font-weight="bold" fill="#000" text-anchor="start" style="font-family:'Liberation Sans',sans-serif" textLength="4.00" lengthAdjust="spacingAndGlyphs">0</text>
<text x="51.05" y="430.93" font-size="6.50" font-weight="bold" fill="#000" text-anchor="start" style="font-family:'Liberation Sans',sans-serif" textLength="8.50" lengthAdjust="spacingAndGlyphs">50</text>
<text x="79.65" y="430.93" font-size="6.50" font-weight="bold" fill="#000" text-anchor="start" style="font-family:'Liberation Sans',sans-serif" textLength="12.50" lengthAdjust="spacingAndGlyphs">100</text>
<text x="109.45" y="430.93" font-size="6.50" font-weight="bold" fill="#000" text-anchor="start" style="font-family:'Liberation Sans',sans-serif" textLength="12.50" lengthAdjust="spacingAndGlyphs">150</text>
<text x="138.15" y="430.93" font-size="6.50" font-weight="bold" fill="#000" text-anchor="start" style="font-family:'Liberation Sans',sans-serif" textLength="12.50" lengthAdjust="spacingAndGlyphs">200</text>
<text x="168.45" y="430.93" font-size="6.50" font-weight="bold" fill="#000" text-anchor="start" style="font-family:'Liberation Sans',sans-serif" textLength="12.50" lengthAdjust="spacingAndGlyphs">250</text>
<text x="198.55" y="430.93" font-size="6.50" font-weight="bold" fill="#000" text-anchor="start" style="font-family:'Liberation Sans',sans-serif" textLength="12.50" lengthAdjust="spacingAndGlyphs">300</text>
<text x="61.45" y="407.00" font-size="10.06" font-weight="bold" fill="#000" text-anchor="start" style="font-family:'Liberation Sans',sans-serif" textLength="37.60" lengthAdjust="spacingAndGlyphs">LMC24</text>
<text x="3.55" y="273.80" font-size="14.25" font-weight="bold" fill="#000" text-anchor="start" style="font-family:'Liberation Sans',sans-serif" textLength="18.70" lengthAdjust="spacingAndGlyphs">(d)</text>
<text x="99.35" y="444.50" font-size="9.22" font-weight="bold" fill="#000" text-anchor="start" style="font-family:'Liberation Sans',sans-serif" textLength="35.70" lengthAdjust="spacingAndGlyphs">Bc (mT)</text>
<text x="0" y="0" transform="translate(8.70 353.90) rotate(-90)" font-size="9.20" font-weight="bold" text-anchor="middle" style="font-family:'Liberation Sans',sans-serif" textLength="35.00" lengthAdjust="spacingAndGlyphs">Bu (mT)</text>
<clipPath id="ce"><rect x="264.9" y="290.6" width="178.0" height="130.7"/></clipPath>
<filter id="nce" x="0" y="0" width="1" height="1" color-interpolation-filters="sRGB"><feTurbulence type="fractalNoise" baseFrequency="0.17" numOctaves="2" seed="23"/><feColorMatrix type="matrix" values="1 0 0 0 0 1 0 0 0 0 1 0 0 0 0 0 0 0 0 1"/><feComponentTransfer><feFuncR type="table" tableValues="0.91 0.91 0.93 0.96 0.99 1 1 0.998 0.995 0.99 0.985 0.98"/><feFuncG type="table" tableValues="0.91 0.91 0.93 0.96 0.99 1 0.985 0.94 0.88 0.82 0.77 0.74"/><feFuncB type="table" tableValues="1 1 1 1 1 1 0.93 0.78 0.62 0.50 0.42 0.38"/><feFuncA type="discrete" tableValues="1"/></feComponentTransfer></filter>
<g clip-path="url(#ce)">
<rect x="264.9" y="290.6" width="178.0" height="130.7" fill="#fff" filter="url(#nce)"/>
<path d="M265.9,290.6 288.7,290.6 289.7,292.6 288.9,293.1 285.9,293.3 285.3,294.6 285.9,295.2 287.9,295.6 289.8,297.6 289.7,298.6 287.1,301.6 287.5,302.6 290.9,305.1 291.9,305.5 293.9,304.7 294.5,305.6 293.5,308.6 293.6,309.6 295.3,311.6 294.1,316.6 294.9,317.4 295.9,317.4 297.9,315.0 298.9,314.8 301.1,316.6 301.0,320.6 302.9,322.6 303.1,323.6 303.0,324.6 301.4,326.6 301.4,327.6 304.3,330.6 303.8,332.6 304.3,333.6 308.7,336.6 312.0,341.6 312.9,342.3 316.9,341.9 317.9,343.9 320.9,345.7 324.9,346.1 326.9,347.2 328.0,348.6 328.6,351.6 330.9,354.0 331.9,353.5 332.9,350.7 333.9,350.6 334.9,350.8 337.9,353.3 340.9,353.7 343.9,353.0 347.9,354.0 348.5,353.6 348.9,351.4 350.9,351.4 351.5,351.6 351.6,352.6 350.8,353.6 351.4,354.6 352.9,355.0 353.9,355.0 355.9,353.2 361.9,352.7 363.9,351.6 366.2,352.6 366.5,354.6 370.9,353.0 378.9,355.0 383.7,353.6 385.9,351.1 386.9,351.1 394.9,351.5 396.9,353.8 398.9,352.2 399.9,352.1 401.9,354.3 405.9,352.7 407.9,353.0 409.9,354.5 412.9,354.5 418.9,355.6 423.9,355.3 425.9,353.7 427.9,355.5 429.9,354.6 433.9,355.3 437.9,353.5 442.9,353.2 442.9,360.2 441.9,360.3 440.2,359.6 439.9,358.7 437.9,359.4 434.9,357.5 432.9,358.6 430.9,357.2 428.9,358.3 425.9,357.8 423.9,356.6 421.9,357.1 420.9,356.2 418.9,355.6 417.1,356.6 413.1,357.6 410.9,359.7 407.9,359.0 405.9,357.1 404.8,357.6 403.9,359.4 398.9,359.0 395.9,361.2 393.9,360.6 392.9,359.7 391.9,357.3 389.9,357.4 388.9,358.3 386.9,358.8 381.9,357.1 378.9,357.9 376.9,356.7 375.9,356.9 373.9,359.8 370.9,359.5 367.9,360.4 366.9,360.0 364.9,357.4 362.9,356.9 361.6,357.6 361.7,359.6 360.9,360.3 359.7,359.6 359.3,358.6 360.0,356.6 358.9,356.2 356.9,357.5 356.9,359.6 355.9,360.0 352.9,359.5 350.9,357.2 340.9,360.0 336.9,357.0 333.9,357.6 331.9,360.2 327.9,360.6 327.9,357.6 325.9,356.6 324.7,357.6 324.7,358.6 325.8,360.6 324.1,361.6 323.7,363.6 317.9,366.2 316.2,365.6 315.8,363.6 314.9,363.2 313.5,363.6 313.9,364.8 315.6,365.6 315.5,366.6 310.7,370.6 310.2,372.6 310.5,374.6 309.9,375.4 308.9,375.9 306.9,378.4 305.9,379.0 302.9,379.0 299.5,381.6 299.2,382.6 299.9,383.7 300.9,383.6 304.9,381.2 306.8,381.6 307.7,382.6 307.0,383.6 304.9,384.1 302.6,388.6 299.9,390.5 297.9,393.5 296.9,393.7 294.9,392.5 293.9,393.2 293.3,395.6 293.9,396.5 294.9,396.6 295.2,399.6 294.9,401.6 292.9,402.7 292.6,403.6 293.6,407.6 292.9,408.8 289.9,409.5 288.7,410.6 288.8,411.6 290.9,414.3 293.1,414.6 289.9,416.7 288.9,415.1 287.9,414.7 286.9,415.3 286.0,418.6 284.0,419.6 284.2,421.6 264.9,421.6 264.9,308.7 266.0,308.6 266.2,307.6 264.9,306.2 264.9,290.6zM273.9,332.6 274.6,333.6 275.3,333.6 275.7,332.6 274.9,332.0 273.9,332.5zM291.8,340.6 291.4,341.6 291.9,342.7 293.9,342.2 294.8,342.6 295.6,344.6 296.9,344.5 297.5,343.6 296.9,341.1 292.9,339.8 291.9,340.4zM303.2,342.6 302.9,343.6 303.8,344.6 305.8,344.6 305.8,343.6 303.9,342.2zM309.6,345.6 309.0,347.6 309.9,348.9 311.9,348.3 313.9,348.5 315.4,347.6 315.4,346.6 313.9,344.8 309.9,345.0zM310.5,363.6 309.4,364.6 309.9,365.5 310.9,365.6 311.8,364.6 310.9,363.4zM292.1,366.6 292.0,369.6 292.9,370.3 294.9,370.1 295.5,369.6 294.4,366.6 293.9,366.0 292.9,366.2zM421.9,359.5 422.9,359.3 424.1,360.6 422.9,361.3 421.9,360.8 421.9,359.6zM295.9,403.2 297.2,404.6 296.9,405.5 295.7,405.6 294.9,403.6z" fill="#f8b850" fill-opacity="0.24" fill-rule="evenodd"/>
<path d="M265.9,290.6 267.6,290.6 268.4,291.6 272.2,293.6 270.4,296.6 271.6,299.6 273.2,301.6 272.4,304.6 272.7,305.6 277.1,307.6 277.0,314.6 275.6,316.6 275.9,319.4 277.9,322.8 278.9,323.2 280.1,322.6 281.9,320.4 282.9,321.4 283.3,323.6 285.5,328.6 285.9,331.5 288.9,332.5 290.5,334.6 292.3,335.6 292.6,336.6 290.8,341.6 291.9,343.3 293.9,344.0 295.9,346.2 296.9,346.4 301.9,344.3 303.9,345.5 307.5,345.6 308.5,346.6 308.9,349.1 309.9,350.0 310.9,350.1 311.9,349.0 315.9,348.4 317.9,349.2 319.9,347.9 322.9,349.0 325.9,348.9 330.9,354.5 334.9,352.7 338.9,354.4 341.9,354.5 343.9,353.6 351.7,355.6 348.9,357.1 341.9,359.0 339.9,358.5 337.9,356.7 335.9,356.7 333.1,357.6 331.9,359.1 329.9,359.6 328.9,359.1 327.9,357.0 325.9,356.3 324.4,357.6 324.7,359.6 323.9,361.0 320.4,361.6 317.9,363.4 314.9,362.1 312.9,363.1 310.9,362.7 307.9,365.0 305.9,365.2 303.9,364.6 300.9,365.4 300.2,365.6 300.1,367.6 301.2,368.6 298.9,369.7 297.9,369.7 295.9,368.2 294.7,365.6 293.9,365.4 291.9,366.3 289.7,370.6 290.9,373.6 290.3,374.6 288.9,375.5 287.9,375.5 286.9,374.2 285.9,374.1 285.9,376.6 287.4,377.6 287.3,378.6 285.5,381.6 283.1,383.6 282.9,384.7 280.2,386.6 280.2,387.6 281.3,389.6 281.0,391.6 281.8,394.6 280.9,394.7 280.8,392.6 279.9,391.9 277.6,392.6 277.3,395.6 276.2,397.6 276.5,399.6 277.5,401.6 276.9,403.6 275.9,404.4 272.9,404.1 271.4,405.6 271.0,408.6 272.1,410.6 269.9,411.6 272.2,413.6 272.6,415.6 270.9,416.9 268.3,417.6 267.5,418.6 269.7,421.6 264.9,421.6 264.9,309.0 265.9,309.2 266.9,308.6 267.1,307.6 265.9,305.7 264.9,305.5 264.9,290.6zM270.9,327.6 270.9,328.8 271.9,329.2 272.5,328.6 270.9,327.5zM274.1,331.6 273.5,332.6 273.9,333.6 274.9,334.0 275.9,333.7 277.1,331.6 275.9,330.7 274.9,331.0zM278.8,378.6 281.9,381.0 282.5,380.6 282.5,379.6 280.3,378.6 278.9,378.6zM386.9,352.6 392.9,352.6 395.9,354.5 396.9,354.7 398.9,353.9 400.9,355.3 401.9,355.3 406.9,353.8 409.9,355.2 413.5,355.6 409.9,358.2 408.9,358.2 405.9,356.1 394.9,359.3 393.7,358.6 393.4,356.6 391.9,356.0 386.9,357.9 383.9,357.1 381.9,355.8 378.9,356.8 378.5,355.6 381.9,355.4 386.9,352.6zM356.9,353.5 361.9,353.8 363.9,352.7 364.9,352.9 365.0,354.6 365.9,355.2 370.9,353.7 374.9,354.6 376.4,355.6 373.9,358.3 367.9,359.3 364.9,356.8 360.9,355.8 359.9,354.9 356.2,356.6 355.5,358.6 353.9,358.9 352.9,358.4 352.1,356.6 354.9,355.3 356.7,353.6zM441.9,354.6 442.9,354.7 442.9,356.7 439.9,355.9 437.9,357.0 436.0,355.6 437.9,354.8 439.9,355.2 441.7,354.6z" fill="#f8b850" fill-opacity="0.24" fill-rule="evenodd"/>
<path d="M265.4,299.6 266.2,300.6 266.2,301.6 264.9,304.0 264.9,299.5zM265.7,309.6 267.3,310.6 268.5,313.6 270.2,314.6 270.7,315.6 270.9,318.6 272.1,321.6 272.2,324.6 272.9,325.5 274.9,325.9 275.7,326.6 275.9,327.8 273.9,329.1 271.9,326.9 270.9,326.9 270.5,327.6 270.9,329.3 273.8,330.6 273.1,332.6 273.5,333.6 274.9,334.4 275.9,334.3 277.9,332.3 278.9,332.2 282.9,333.8 284.9,336.0 289.9,338.9 290.9,342.8 293.9,344.8 297.0,348.6 299.6,348.6 298.8,347.6 298.9,346.6 301.9,345.2 303.9,346.5 305.9,345.9 307.5,346.6 308.1,350.6 310.9,351.1 311.9,350.9 312.9,349.5 315.9,349.3 317.9,349.9 319.9,348.6 320.9,348.7 322.9,349.7 326.9,350.3 329.9,354.5 330.9,355.1 335.9,353.6 337.9,355.1 341.9,355.1 344.9,354.2 348.7,355.6 348.3,356.6 341.9,358.4 339.9,357.8 337.9,355.9 336.9,356.0 332.9,357.1 331.7,358.6 329.9,359.1 328.0,356.6 325.9,356.1 324.2,357.6 324.1,359.6 322.9,360.7 318.9,361.0 317.9,362.0 316.9,362.1 314.9,360.6 312.9,362.2 310.9,362.1 306.9,364.5 302.9,363.4 300.9,363.8 299.9,362.8 298.5,363.6 298.4,366.6 297.9,367.6 296.9,367.9 295.9,367.3 294.9,365.2 292.4,365.6 291.1,366.6 290.3,368.6 288.4,370.6 289.1,372.6 288.9,373.4 287.9,373.5 286.6,372.6 287.6,370.6 286.9,370.0 285.3,370.6 284.8,371.6 285.3,372.6 284.9,376.6 283.9,378.4 278.9,377.7 275.4,378.6 276.5,381.6 276.1,382.6 273.9,383.8 271.9,383.1 270.9,384.7 268.4,389.6 268.5,393.6 269.3,395.6 267.9,397.4 266.9,397.2 265.9,394.8 264.9,394.8 264.9,309.2zM305.8,350.6 307.9,350.6 305.9,350.2zM273.9,376.6 274.9,378.3 275.4,377.6 274.9,376.0zM356.9,354.3 358.2,354.6 357.0,355.6 356.4,355.6 356.5,354.6zM369.9,354.3 374.7,355.6 373.3,357.6 367.9,358.5 366.9,357.8 366.1,356.6 369.3,354.6zM386.9,354.0 389.9,353.8 390.6,354.6 390.2,355.6 386.9,357.0 385.2,355.6 386.0,354.6zM265.0,398.6 267.5,400.6 266.9,401.7 264.9,403.0 264.9,398.5z" fill="#f8b850" fill-opacity="0.24" fill-rule="evenodd"/>
<path d="M265.1,309.6 266.5,310.6 267.0,312.6 266.6,313.6 268.2,315.6 269.2,318.6 269.1,320.6 267.9,321.9 267.8,323.6 268.9,325.2 271.1,324.6 271.3,325.6 269.9,326.3 270.3,328.6 270.9,329.8 272.2,330.6 273.1,333.6 273.9,334.4 275.9,334.7 277.9,333.3 278.9,333.4 280.9,336.0 282.9,335.8 285.9,338.6 286.1,341.6 286.9,341.9 287.9,340.5 288.9,340.4 291.2,343.6 293.9,345.3 296.5,348.6 297.9,349.3 300.9,349.6 303.9,348.8 304.9,347.0 305.9,346.5 306.9,347.1 307.2,348.6 305.2,349.6 305.9,351.3 308.9,351.1 315.9,352.0 316.9,350.8 320.9,349.3 322.9,350.3 325.9,350.4 326.9,350.9 329.1,354.6 330.9,355.9 334.9,354.4 336.2,354.6 336.5,355.6 331.9,356.4 330.9,358.6 329.9,358.6 328.9,356.5 325.9,355.8 323.9,357.6 323.5,359.6 322.9,360.1 319.9,360.3 317.9,359.6 315.7,359.6 312.9,361.4 310.9,361.3 306.9,364.1 305.9,364.1 302.9,362.6 298.9,362.5 297.6,363.6 296.9,366.8 296.2,365.6 293.9,364.8 291.8,365.6 288.9,369.3 286.0,369.6 284.7,370.6 284.0,371.6 284.5,376.6 282.9,378.1 276.9,377.1 275.2,374.6 276.3,373.6 275.9,371.9 274.9,371.4 273.5,372.6 273.9,373.8 270.9,372.5 267.9,374.0 264.9,378.2 264.9,309.5zM300.9,346.3 302.3,346.6 301.9,347.6 300.0,347.6 300.3,346.6zM313.9,350.3 316.5,350.6 313.9,351.3 313.5,350.6zM343.9,355.1 345.9,355.0 347.0,355.6 346.9,356.6 344.9,357.2 342.9,356.9 342.5,357.6 340.9,357.7 340.1,356.6 340.9,355.8 342.9,356.3 343.2,355.6zM368.9,355.5 370.9,355.0 372.4,355.6 372.5,356.6 367.9,357.8 367.5,356.6 368.7,355.6z" fill="#f8b850" fill-opacity="0.24" fill-rule="evenodd"/>
<path d="M265.9,310.6 266.4,311.6 265.7,313.6 266.1,314.6 267.4,315.6 268.3,318.6 268.4,319.6 267.3,321.6 267.9,324.6 269.4,326.6 270.4,329.6 272.3,331.6 272.9,334.5 275.9,335.0 277.9,334.2 278.9,334.6 279.4,336.6 279.2,338.6 279.9,340.0 281.7,339.6 282.9,337.8 283.9,337.8 284.9,338.6 285.3,339.6 285.0,340.6 285.9,342.0 287.5,342.6 288.9,341.6 289.9,342.3 291.4,344.6 293.9,345.8 296.0,348.6 297.5,349.6 300.9,349.9 303.9,349.6 305.9,351.8 311.9,351.9 314.9,352.7 316.2,352.6 317.9,351.7 321.9,351.7 324.9,350.8 326.9,351.5 328.2,353.6 327.9,354.9 324.9,356.1 322.4,359.6 319.9,359.7 316.9,358.8 312.9,360.2 310.9,360.1 309.9,360.9 309.4,360.6 310.2,359.6 307.9,359.4 307.0,359.6 306.7,360.6 307.9,361.3 308.9,360.9 309.3,361.6 306.9,363.4 305.9,363.5 302.9,361.6 301.0,361.6 298.1,362.6 295.9,364.3 291.9,365.3 288.9,368.5 285.9,369.3 283.3,371.6 283.0,372.6 283.9,373.8 284.3,375.6 283.9,376.8 282.9,377.6 276.9,376.3 276.5,374.6 277.2,373.6 275.9,370.5 272.9,372.0 269.9,371.3 268.9,370.7 268.8,369.6 267.9,369.3 266.9,369.4 264.9,370.6 264.9,309.8z" fill="#fcd786" fill-rule="evenodd"/>
<path d="M265.2,310.6 265.7,311.6 265.0,313.6 265.4,314.6 266.9,316.1 267.4,317.6 266.6,321.6 266.9,323.4 269.3,327.6 270.3,330.6 271.9,332.5 271.8,334.6 272.9,335.5 277.9,335.3 278.6,339.6 279.3,340.6 283.9,340.5 286.9,343.4 287.9,343.5 288.9,342.9 290.9,345.1 293.9,346.4 296.9,349.8 299.9,350.4 303.9,350.0 305.9,352.4 306.9,351.9 308.9,352.0 311.9,352.3 314.9,353.2 317.9,352.4 321.9,352.6 324.9,351.6 326.9,352.4 327.3,353.6 325.9,354.5 321.9,358.9 319.9,359.1 316.9,358.3 312.9,359.1 307.9,359.2 306.0,359.6 304.9,360.6 299.9,361.4 291.9,364.9 288.9,367.6 284.9,369.5 282.3,371.6 282.1,372.6 283.8,375.6 282.9,377.0 280.9,376.7 279.0,375.6 279.3,373.6 277.6,372.6 276.9,369.7 272.9,371.2 267.9,368.8 264.9,369.8 264.9,310.3zM304.9,360.8 306.0,361.6 304.7,361.6z" fill="#fccb66" fill-rule="evenodd"/>
<path d="M265.5,315.6 266.3,317.6 266.0,321.6 266.6,324.6 268.8,327.6 270.3,334.6 271.2,335.6 272.9,336.1 276.9,336.2 277.7,337.6 278.2,340.6 278.9,341.5 283.9,341.8 287.9,344.8 288.9,344.7 290.9,346.1 293.1,346.6 295.8,349.6 296.9,350.3 299.9,350.9 302.9,350.3 303.9,350.6 305.9,353.0 306.9,352.3 308.9,352.4 311.9,352.7 314.9,353.8 317.9,353.1 323.9,353.1 324.6,353.6 324.6,354.6 324.4,355.6 323.5,356.6 320.9,358.3 316.9,357.8 305.9,359.0 303.9,360.1 299.9,360.9 291.9,364.5 287.9,367.7 285.4,368.6 279.9,372.0 278.5,371.6 279.0,369.6 277.9,368.8 272.9,370.4 267.9,368.3 264.9,368.5 264.9,314.9zM280.9,374.0 281.9,374.0 282.6,374.6 282.9,375.9 281.9,376.3 280.9,375.9 280.5,374.6z" fill="#fabd40" fill-rule="evenodd"/>
<path d="M264.9,316.6 265.2,322.6 264.9,324.2 264.9,316.5zM265.9,325.9 266.9,326.3 268.0,327.6 267.7,331.6 269.7,335.6 272.9,336.9 275.9,337.0 276.5,337.6 277.6,341.6 278.9,342.9 281.9,342.6 284.9,343.2 287.9,346.2 292.9,347.6 296.4,350.6 300.9,351.5 302.9,351.0 303.9,351.4 305.9,353.7 306.9,352.9 307.9,352.9 311.9,353.4 314.9,354.7 321.9,354.2 323.1,354.6 323.4,355.6 320.9,357.0 316.9,357.0 306.9,358.5 305.9,358.3 303.9,359.3 299.9,360.1 293.9,362.4 287.9,366.8 282.9,369.0 280.9,369.4 278.9,368.0 277.9,368.0 272.9,369.3 267.9,367.6 264.9,367.2 264.9,325.7z" fill="#f8ac12" fill-rule="evenodd"/>
<path d="M265.9,327.5 266.3,330.6 267.8,335.6 268.9,336.6 274.9,338.4 277.9,343.8 278.9,344.2 280.9,343.7 283.9,343.8 285.3,344.6 286.9,346.7 292.9,348.8 296.9,351.4 300.9,352.0 302.9,351.9 305.9,354.3 306.9,353.5 307.9,353.6 311.9,354.5 313.8,355.6 312.7,356.6 309.7,357.6 306.9,358.1 305.9,357.6 303.9,358.5 300.9,358.8 293.9,361.3 286.9,366.1 284.9,366.6 281.9,368.3 278.9,367.1 273.9,368.4 271.9,367.7 264.9,366.3 264.9,327.0z" fill="#f79b00" fill-rule="evenodd"/>
<path d="M264.9,330.6 265.6,334.6 267.1,336.6 268.9,337.8 271.9,338.5 273.9,339.7 275.6,342.6 277.9,344.7 279.9,345.1 283.9,345.0 284.9,345.5 286.4,347.6 288.6,348.6 292.9,349.7 296.9,351.8 302.9,352.8 304.9,353.7 305.9,354.8 306.9,354.2 307.9,354.4 310.8,355.6 309.9,356.6 307.9,357.3 306.9,357.5 305.9,357.0 295.4,359.6 289.9,362.9 286.1,362.6 283.2,364.6 282.5,366.6 281.9,367.1 280.9,367.1 278.9,365.7 277.9,365.7 274.9,367.6 264.9,365.7 264.9,330.6z" fill="#f28300" fill-rule="evenodd"/>
<path d="M265.8,336.6 269.5,339.6 270.7,341.6 272.9,342.0 276.9,345.2 278.9,346.1 283.9,346.9 289.0,349.6 293.9,351.0 295.9,352.0 304.9,354.2 305.9,355.4 306.9,355.2 308.2,355.6 307.4,356.6 306.9,356.7 305.9,355.9 304.9,357.0 300.9,357.3 294.9,359.0 289.9,361.7 285.9,361.8 280.9,364.1 276.9,365.0 274.9,366.1 270.9,366.3 266.9,365.8 264.9,364.9 264.9,335.8z" fill="#ec6800" fill-rule="evenodd"/>
<path d="M265.9,339.0 268.0,339.6 268.9,341.6 271.7,343.6 272.9,345.4 277.6,347.6 276.7,349.6 277.9,350.2 281.9,350.6 282.9,348.3 284.9,348.5 288.9,350.6 293.9,351.5 296.9,353.2 301.4,353.6 304.9,354.7 305.6,355.6 304.9,356.4 303.9,356.7 300.9,356.7 298.4,357.6 294.9,358.1 292.9,359.7 289.9,361.0 284.9,360.9 281.9,360.4 280.9,362.6 279.9,363.2 276.9,363.7 271.9,365.7 270.0,365.6 264.9,363.3 264.9,339.0z" fill="#e35300" fill-rule="evenodd"/>
<path d="M265.9,340.4 269.7,344.6 267.9,346.2 268.5,347.6 269.9,348.9 272.9,349.8 273.7,350.6 277.9,351.5 279.9,351.4 282.9,352.3 284.9,351.5 286.0,353.6 287.9,354.3 291.9,353.9 294.9,354.9 302.9,354.9 305.1,355.6 303.9,356.1 299.9,356.1 293.9,357.1 292.7,357.6 291.9,358.9 290.9,359.0 289.9,358.2 284.9,359.5 281.9,359.1 278.9,361.0 273.9,361.4 270.9,362.5 267.9,361.6 264.9,361.5 264.9,340.4z" fill="#d34000" fill-rule="evenodd"/>
<path d="M265.0,349.6 274.4,351.6 279.9,352.1 282.9,353.6 284.9,354.0 285.9,354.8 292.6,355.6 291.9,356.3 288.9,356.3 285.9,357.0 284.9,357.7 277.9,359.9 270.9,360.5 264.9,360.5 264.9,349.5z" fill="#bc3200" fill-rule="evenodd"/>
<path d="M265.9,351.2 279.5,352.6 286.4,355.6 284.9,357.1 279.9,359.0 273.9,359.7 264.9,360.0 264.9,350.9z" fill="#a02600" fill-rule="evenodd"/>
<path d="M268.9,352.5 273.9,352.6 279.9,353.5 284.9,355.6 284.2,356.6 277.9,358.9 273.9,359.3 267.9,358.8 264.9,359.5 264.9,352.7 268.0,352.6z" fill="#822000" fill-rule="evenodd"/>
<path d="M268.9,353.5 275.9,353.4 282.1,355.6 281.3,356.6 277.9,358.3 273.9,358.9 266.9,357.5 264.9,357.8 264.9,354.5 268.7,353.6z" fill="#5b1300" fill-rule="evenodd"/>
<path d="M273.9,354.4 275.9,354.4 278.7,355.6 277.9,357.1 273.9,358.0 271.9,356.6 268.9,356.3 267.6,355.6 268.9,355.2 271.9,355.4 273.6,354.6z" fill="#320b00" fill-rule="evenodd"/>
<path d="M274.9,355.4 275.7,355.6 274.9,356.6 274.4,355.6z" fill="#200800" fill-rule="evenodd"/>
<path d="M264.9,310.0 266.1,311.6 265.5,313.6 265.8,314.6 267.1,315.6 267.8,317.6 268.1,319.6 267.0,321.6 267.3,323.6 269.2,326.6 270.3,329.6 272.0,331.6 272.6,334.6 275.9,335.1 278.1,334.6 279.0,335.6 279.1,339.6 279.9,340.3 282.6,339.6 282.9,338.5 283.9,338.2 285.0,339.6 284.7,340.6 285.9,342.2 286.9,342.9 287.9,342.8 288.9,342.0 289.9,342.6 290.9,344.6 293.9,346.0 295.8,348.6 297.0,349.6 300.9,350.1 303.9,349.7 305.9,352.0 307.9,351.7 311.9,352.0 314.9,352.9 316.6,352.6 317.9,351.9 321.9,352.0 324.9,351.1 326.9,351.8 328.0,353.6 327.5,354.6 324.9,356.0 323.4,357.6 322.9,358.8 321.9,359.5 319.9,359.5 316.9,358.6 312.9,359.6 307.9,359.3 306.7,359.6 306.3,360.6 307.4,361.6 307.3,362.6 306.9,362.9 305.9,363.2 302.9,361.4 300.9,361.5 297.9,362.6 295.9,364.0 291.9,365.2 290.2,366.6 288.9,368.3 285.9,369.2 283.0,371.6 282.7,372.6 283.9,374.3 284.2,375.6 283.8,376.6 282.9,377.4 277.9,376.4 276.9,375.8 277.6,373.6 276.9,372.6 276.7,370.6 275.9,370.3 272.9,371.6 269.9,370.9 269.2,369.6 267.9,369.2 266.9,369.2 264.9,370.4" fill="none" stroke="#000" stroke-width="0.9"/>
<path d="M264.9,338.6 266.9,338.7 267.9,339.2 269.3,341.6 270.5,342.6 271.9,343.1 272.9,344.6 277.9,347.0 278.5,347.6 278.3,348.6 277.5,349.6 277.9,349.8 280.9,350.1 281.8,349.6 281.7,347.6 282.9,347.4 288.9,350.3 293.9,351.4 296.9,352.8 301.9,353.6 304.9,354.5 305.7,355.6 304.9,356.5 303.9,356.9 300.9,356.9 294.9,358.4 292.9,359.9 289.9,361.1 283.9,361.2 282.9,360.7 281.9,361.3 281.3,362.6 279.9,363.5 276.9,364.1 272.9,365.8 270.9,365.9 267.9,365.4 264.9,363.9" fill="none" stroke="#000" stroke-width="0.9"/>
<path d="M264.9,351.5 278.9,352.7 283.9,354.6 285.7,355.6 284.9,356.9 279.9,358.8 273.9,359.5 264.9,359.9" fill="none" stroke="#000" stroke-width="0.9"/>
<path d="M264.9,355.3 269.9,353.8 272.9,353.9 274.9,353.5 278.8,354.6 280.7,355.6 280.3,356.6 278.8,357.6 273.9,358.7 264.9,356.7" fill="none" stroke="#000" stroke-width="0.9"/>
<ellipse cx="437.2" cy="391.8" rx="1.5" ry="1.1" fill="#1a1a1a"/><ellipse cx="365.7" cy="332.5" rx="1.1" ry="0.6" fill="#1a1a1a"/>
<line x1="284.9" y1="355.9" x2="442.9" y2="355.9" stroke="#000" stroke-width="1.1" stroke-dasharray="1.9 3.0"/>
</g>
<rect x="360.9" y="382.5" width="69.0" height="32.2" fill="#fff"/>
<linearGradient id="ge" x1="0" x2="1" y1="0" y2="0"><stop offset="0.000" stop-color="#200800"/><stop offset="0.043" stop-color="#340b00"/><stop offset="0.087" stop-color="#551200"/><stop offset="0.130" stop-color="#741c00"/><stop offset="0.174" stop-color="#8e2200"/><stop offset="0.217" stop-color="#a52800"/><stop offset="0.261" stop-color="#ba3100"/><stop offset="0.304" stop-color="#cd3c00"/><stop offset="0.348" stop-color="#dc4900"/><stop offset="0.391" stop-color="#e95f00"/><stop offset="0.435" stop-color="#f17c00"/><stop offset="0.478" stop-color="#f8a101"/><stop offset="0.522" stop-color="#fcc558"/><stop offset="0.565" stop-color="#fef9ea"/><stop offset="0.609" stop-color="#f9f9ff"/><stop offset="0.652" stop-color="#f1f1ff"/><stop offset="0.696" stop-color="#e6e6ff"/><stop offset="0.739" stop-color="#d8d8ff"/><stop offset="0.783" stop-color="#cbcbff"/><stop offset="0.826" stop-color="#bcbcff"/><stop offset="0.870" stop-color="#aeaeff"/><stop offset="0.913" stop-color="#a2a2ff"/><stop offset="0.957" stop-color="#9595ff"/><stop offset="1.000" stop-color="#8888ff"/></linearGradient>
<rect x="368.1" y="403.2" width="54.6" height="7.3" fill="url(#ge)" stroke="#111" stroke-width="0.8"/>
<text x="378.70" y="398.40" font-size="5.20" font-weight="bold" fill="#000" text-anchor="middle" style="font-family:'Liberation Sans',sans-serif">40</text>
<text x="388.90" y="398.40" font-size="5.20" font-weight="bold" fill="#000" text-anchor="middle" style="font-family:'Liberation Sans',sans-serif">20</text>
<text x="399.40" y="398.40" font-size="5.20" font-weight="bold" fill="#000" text-anchor="middle" style="font-family:'Liberation Sans',sans-serif">0</text>
<text x="409.50" y="398.40" font-size="5.20" font-weight="bold" fill="#000" text-anchor="middle" style="font-family:'Liberation Sans',sans-serif">-20</text>
<text x="419.70" y="398.40" font-size="5.20" font-weight="bold" fill="#000" text-anchor="middle" style="font-family:'Liberation Sans',sans-serif">-40</text>
<path d="M378.7,400.4 v2.8 M388.9,400.4 v2.8 M399.4,400.4 v2.8 M409.5,400.4 v2.8 M419.7,400.4 v2.8" stroke="#111" stroke-width="0.7"/>
<text x="392.00" y="388.40" font-size="5.20" font-weight="bold" fill="#000" text-anchor="start" style="font-family:'Liberation Sans',sans-serif">Am<tspan font-size="3.6" dy="-1.8">2</tspan><tspan dy="1.8">/T</tspan><tspan font-size="3.6" dy="-1.8">2</tspan></text>
<rect x="264.9" y="290.6" width="178.0" height="130.7" fill="none" stroke="#000" stroke-width="1.5"/>
<path d="M294.6,290.6 v5 M294.6,421.3 v-5 M324.2,290.6 v5 M324.2,421.3 v-5 M353.9,290.6 v5 M353.9,421.3 v-5 M383.6,290.6 v5 M383.6,421.3 v-5 M413.2,290.6 v5 M413.2,421.3 v-5 M264.9,415.5 h5.2 M442.9,415.5 h-5.2 M264.9,385.7 h5.2 M442.9,385.7 h-5.2 M264.9,355.9 h5.2 M442.9,355.9 h-5.2 M264.9,326.1 h5.2 M442.9,326.1 h-5.2 M264.9,296.3 h5.2 M442.9,296.3 h-5.2" stroke="#000" stroke-width="1.3" fill="none"/>
<text x="246.80" y="299.33" font-size="6.50" font-weight="bold" fill="#000" text-anchor="start" style="font-family:'Liberation Sans',sans-serif" textLength="12.50" lengthAdjust="spacingAndGlyphs">100</text>
<text x="250.80" y="330.13" font-size="6.50" font-weight="bold" fill="#000" text-anchor="start" style="font-family:'Liberation Sans',sans-serif" textLength="8.50" lengthAdjust="spacingAndGlyphs">50</text>
<text x="255.30" y="359.53" font-size="6.50" font-weight="bold" fill="#000" text-anchor="start" style="font-family:'Liberation Sans',sans-serif" textLength="4.00" lengthAdjust="spacingAndGlyphs">0</text>
<text x="248.40" y="389.73" font-size="6.50" font-weight="bold" fill="#000" text-anchor="start" style="font-family:'Liberation Sans',sans-serif" textLength="10.90" lengthAdjust="spacingAndGlyphs">-50</text>
<text x="244.40" y="419.03" font-size="6.50" font-weight="bold" fill="#000" text-anchor="start" style="font-family:'Liberation Sans',sans-serif" textLength="14.90" lengthAdjust="spacingAndGlyphs">-100</text>
<text x="264.20" y="430.93" font-size="6.50" font-weight="bold" fill="#000" text-anchor="start" style="font-family:'Liberation Sans',sans-serif" textLength="4.00" lengthAdjust="spacingAndGlyphs">0</text>
<text x="289.75" y="430.93" font-size="6.50" font-weight="bold" fill="#000" text-anchor="start" style="font-family:'Liberation Sans',sans-serif" textLength="8.50" lengthAdjust="spacingAndGlyphs">50</text>
<text x="317.75" y="430.93" font-size="6.50" font-weight="bold" fill="#000" text-anchor="start" style="font-family:'Liberation Sans',sans-serif" textLength="12.50" lengthAdjust="spacingAndGlyphs">100</text>
<text x="347.75" y="430.93" font-size="6.50" font-weight="bold" fill="#000" text-anchor="start" style="font-family:'Liberation Sans',sans-serif" textLength="12.50" lengthAdjust="spacingAndGlyphs">150</text>
<text x="377.25" y="430.93" font-size="6.50" font-weight="bold" fill="#000" text-anchor="start" style="font-family:'Liberation Sans',sans-serif" textLength="12.50" lengthAdjust="spacingAndGlyphs">200</text>
<text x="406.95" y="430.93" font-size="6.50" font-weight="bold" fill="#000" text-anchor="start" style="font-family:'Liberation Sans',sans-serif" textLength="12.50" lengthAdjust="spacingAndGlyphs">250</text>
<text x="436.75" y="430.93" font-size="6.50" font-weight="bold" fill="#000" text-anchor="start" style="font-family:'Liberation Sans',sans-serif" textLength="12.50" lengthAdjust="spacingAndGlyphs">300</text>
<text x="299.35" y="408.80" font-size="10.06" font-weight="bold" fill="#000" text-anchor="start" style="font-family:'Liberation Sans',sans-serif" textLength="38.60" lengthAdjust="spacingAndGlyphs">LMC93</text>
<text x="233.15" y="273.80" font-size="14.25" font-weight="bold" fill="#000" text-anchor="start" style="font-family:'Liberation Sans',sans-serif" textLength="18.70" lengthAdjust="spacingAndGlyphs">(e)</text>
<text x="338.15" y="444.50" font-size="9.22" font-weight="bold" fill="#000" text-anchor="start" style="font-family:'Liberation Sans',sans-serif" textLength="35.70" lengthAdjust="spacingAndGlyphs">Bc (mT)</text>
<text x="0" y="0" transform="translate(245.10 355.90) rotate(-90)" font-size="9.20" font-weight="bold" text-anchor="middle" style="font-family:'Liberation Sans',sans-serif" textLength="35.00" lengthAdjust="spacingAndGlyphs">Bu (mT)</text>
<clipPath id="cf"><rect x="497.8" y="288.7" width="178.2" height="130.5"/></clipPath>
<filter id="ncf" x="0" y="0" width="1" height="1" color-interpolation-filters="sRGB"><feTurbulence type="fractalNoise" baseFrequency="0.17" numOctaves="2" seed="37"/><feColorMatrix type="matrix" values="1 0 0 0 0 1 0 0 0 0 1 0 0 0 0 0 0 0 0 1"/><feComponentTransfer><feFuncR type="table" tableValues="0.90 0.90 0.91 0.95 0.99 1 1 1 0.995 0.99 0.985 0.98"/><feFuncG type="table" tableValues="0.90 0.90 0.91 0.95 0.99 1 1 0.95 0.89 0.83 0.78 0.75"/><feFuncB type="table" tableValues="1 1 1 1 1 1 0.97 0.82 0.66 0.52 0.42 0.38"/><feFuncA type="discrete" tableValues="1"/></feComponentTransfer></filter>
<g clip-path="url(#cf)">
<rect x="497.8" y="288.7" width="178.2" height="130.5" fill="#fff" filter="url(#ncf)"/>
<path d="M498.8,288.7 518.8,288.7 518.9,294.7 520.6,296.7 519.8,299.1 518.2,300.7 518.1,301.7 519.2,303.7 519.1,304.7 523.0,307.7 523.2,309.7 524.7,311.7 524.8,312.7 522.5,314.7 522.2,318.7 522.8,319.6 524.8,319.0 525.7,319.7 523.9,322.7 524.0,323.7 524.8,324.9 528.8,326.1 529.2,326.7 527.6,328.7 529.3,331.7 529.5,333.7 530.8,335.8 532.2,340.7 535.3,347.7 538.5,349.7 542.8,349.7 543.3,348.7 543.1,347.7 541.8,347.0 539.8,348.1 538.8,347.7 537.2,343.7 537.7,341.7 538.8,341.4 545.8,343.0 546.5,343.7 546.8,345.7 548.8,347.4 551.8,348.3 552.8,349.1 557.8,349.4 558.8,352.6 560.8,352.9 561.9,352.7 563.0,347.7 563.8,347.3 565.8,348.8 570.2,348.7 572.2,350.7 573.8,351.1 577.8,350.9 578.8,351.5 579.8,349.3 580.8,349.5 581.7,350.7 582.2,352.7 582.8,353.0 584.8,352.6 586.0,350.7 586.1,348.7 587.8,347.8 588.8,348.3 589.8,350.3 590.8,351.0 592.8,350.7 595.8,348.8 597.8,348.6 598.9,349.7 603.8,349.7 605.8,350.9 608.8,350.0 611.2,350.7 611.8,352.2 614.8,352.0 618.8,353.3 624.8,349.9 629.8,350.4 632.8,350.1 635.8,349.0 636.6,349.7 636.7,350.7 635.8,351.7 635.9,352.7 636.8,353.4 644.8,351.8 647.8,353.4 652.8,352.5 654.8,353.1 658.3,351.7 659.7,349.7 660.8,349.5 661.2,351.7 663.8,353.3 668.3,351.7 669.8,350.0 670.8,349.9 671.4,351.7 672.8,352.8 673.8,352.7 674.4,351.7 673.8,350.3 672.5,349.7 675.8,348.3 675.8,356.1 674.8,356.2 673.8,354.7 672.8,354.8 667.8,358.0 666.8,358.1 663.8,356.9 660.8,358.5 658.8,358.4 656.8,359.0 653.8,358.0 653.7,355.7 650.8,355.8 647.8,353.9 641.8,355.9 639.8,355.4 636.8,356.9 630.8,355.4 622.8,356.2 619.8,354.8 614.8,356.7 613.8,356.4 611.8,354.6 609.8,355.4 608.8,357.7 605.8,359.5 604.8,359.5 604.0,358.7 603.6,356.7 601.8,356.4 600.3,357.7 601.2,359.7 601.0,360.7 599.8,361.1 598.0,360.7 596.8,358.9 593.8,357.5 590.8,357.3 589.8,356.6 589.9,359.7 588.8,361.2 587.8,360.7 587.0,358.7 584.8,358.5 581.8,357.1 577.8,359.9 572.8,360.3 571.5,359.7 570.8,356.5 569.8,356.3 567.8,357.7 565.8,357.5 563.8,355.1 562.5,355.7 563.2,358.7 560.8,360.3 559.8,360.3 557.8,358.9 551.8,359.9 544.8,358.4 543.7,358.7 541.8,360.9 539.8,362.1 533.8,363.6 532.8,363.4 531.8,362.3 530.8,360.2 529.6,361.7 528.5,368.7 526.8,372.8 526.4,373.7 523.8,374.3 522.9,375.7 523.0,376.7 523.8,377.5 526.9,378.7 527.5,382.7 524.8,384.4 523.8,386.1 520.8,388.2 519.6,389.7 523.0,392.7 524.7,395.7 522.8,397.8 522.3,401.7 520.5,404.7 521.0,410.7 520.9,413.7 519.8,415.7 519.8,418.7 497.8,418.7 497.8,288.7zM525.2,363.7 525.8,365.6 527.8,365.5 528.5,364.7 525.8,363.1zM516.4,369.7 516.8,370.5 517.8,370.3 518.3,369.7 517.8,369.2 516.8,369.5zM523.8,288.7 525.2,288.7 525.2,289.7 524.8,291.1 523.8,291.1 522.9,289.7 523.3,288.7zM523.8,387.4 524.8,386.8 525.8,387.0 526.5,387.7 526.8,389.8 525.8,390.7 524.8,390.2 523.7,387.7z" fill="#f8b850" fill-opacity="0.22" fill-rule="evenodd"/>
<path d="M498.8,288.7 508.4,288.7 509.7,290.7 509.9,291.7 508.8,293.7 508.8,294.7 510.2,297.7 509.9,299.7 510.3,300.7 511.9,301.7 509.8,302.0 509.0,303.7 509.2,304.7 511.4,308.7 511.8,310.7 512.8,311.4 514.8,311.0 515.8,312.7 514.3,317.7 511.8,319.4 511.2,320.7 511.6,322.7 513.5,325.7 513.2,326.7 511.4,328.7 511.6,329.7 513.2,330.7 514.0,333.7 515.8,335.0 518.8,334.5 520.8,335.2 521.9,336.7 522.8,339.9 523.9,339.7 524.8,337.3 526.8,337.6 527.4,338.7 531.4,341.7 533.8,345.1 534.9,347.7 537.5,349.7 542.8,350.1 543.8,349.7 544.2,348.7 544.3,347.7 542.8,346.2 541.8,345.8 539.8,346.3 538.8,345.2 538.3,343.7 539.8,342.8 542.8,344.3 544.8,344.4 546.6,346.7 548.8,348.2 550.8,348.6 552.8,349.9 555.8,349.4 557.8,350.5 558.1,352.7 560.8,353.8 562.6,352.7 563.1,349.7 563.8,348.8 568.8,349.7 569.8,351.2 570.8,350.8 573.8,351.5 577.8,351.2 579.4,352.7 582.8,353.4 584.9,352.7 586.8,349.4 587.8,348.7 588.8,349.2 589.8,351.1 590.8,351.5 596.8,350.8 597.8,349.7 602.8,350.3 605.8,351.5 608.8,350.8 611.8,353.7 614.8,352.7 617.4,353.7 616.1,355.7 614.8,356.1 613.8,355.7 612.8,354.0 611.8,353.7 606.8,357.7 604.8,356.4 601.8,356.0 599.7,357.7 598.8,359.1 597.8,358.7 595.8,356.1 594.8,355.6 589.8,356.2 588.8,357.5 585.8,357.8 581.8,355.9 579.8,357.9 577.8,358.9 572.8,359.4 572.0,358.7 571.6,356.7 570.8,356.1 569.8,355.9 566.8,357.3 565.4,356.7 563.8,354.6 561.8,354.6 562.2,358.7 560.8,359.5 559.8,359.5 557.8,358.0 556.8,358.0 555.8,358.9 553.8,358.5 550.8,359.2 543.8,358.0 540.8,360.4 537.8,361.2 536.8,361.0 533.8,362.7 532.0,361.7 532.1,359.7 533.1,357.7 531.7,356.7 528.8,362.3 527.8,363.0 525.5,362.7 523.8,366.1 520.8,365.7 519.8,367.7 516.8,368.6 512.6,370.7 512.3,371.7 513.4,372.7 515.0,378.7 515.8,379.3 517.8,379.3 518.1,381.7 516.8,383.1 513.8,383.2 509.9,385.7 509.8,386.7 511.2,387.7 511.6,390.7 511.3,391.7 509.1,393.7 509.2,394.7 509.8,395.7 512.9,396.7 511.5,398.7 511.5,401.7 510.8,402.4 506.8,402.7 505.5,403.7 508.8,407.7 510.2,415.7 511.6,418.7 506.0,418.7 505.8,417.5 505.7,418.7 497.8,418.7 497.8,288.7zM503.6,328.7 503.8,330.1 505.2,330.7 503.8,328.6zM534.5,357.7 535.8,360.2 536.8,360.2 536.8,357.4 535.8,357.0 534.8,357.6zM507.4,414.7 507.3,416.7 509.3,416.7 509.6,415.7 509.1,414.7 507.8,414.2zM674.8,349.6 675.8,349.3 675.8,355.5 674.8,355.5 673.8,354.2 672.8,354.3 670.8,355.8 667.8,356.4 666.8,355.9 665.4,353.7 669.8,351.4 672.8,353.3 673.8,353.2 674.8,351.7 674.7,349.7zM625.8,350.6 630.8,352.0 634.8,351.0 635.8,353.1 638.8,354.5 638.1,355.7 636.8,356.2 631.8,354.5 629.8,355.1 625.8,354.8 622.8,355.5 621.8,355.2 620.3,353.7 621.8,352.3 625.0,350.7zM642.8,352.5 645.3,352.7 646.3,353.7 645.8,353.9 641.8,354.8 640.7,353.7 642.0,352.7zM657.8,352.4 660.8,351.9 663.2,353.7 663.2,354.7 661.8,357.0 658.8,355.7 656.0,357.7 654.8,357.6 654.3,356.7 655.8,355.5 656.3,354.7 655.9,353.7 657.1,352.7zM649.8,353.4 653.8,353.4 654.3,353.7 652.8,355.0 650.8,355.3 648.8,353.7z" fill="#f8b850" fill-opacity="0.22" fill-rule="evenodd"/>
<path d="M498.8,288.7 503.6,288.7 503.0,291.7 503.8,294.7 501.1,296.7 500.6,297.7 501.8,298.6 502.1,299.7 502.1,304.7 501.3,308.7 501.8,309.9 502.8,310.0 503.3,309.7 503.4,307.7 504.4,305.7 506.8,304.3 507.7,305.7 508.6,308.7 508.2,309.7 505.5,311.7 504.8,313.7 505.8,314.9 507.8,314.4 508.6,314.7 508.9,315.7 507.3,318.7 504.3,321.7 504.0,322.7 506.4,324.7 508.7,329.7 510.8,332.5 512.8,333.2 514.8,335.9 516.8,336.1 518.8,335.3 520.2,335.7 521.1,336.7 521.4,339.7 522.3,340.7 523.8,340.8 525.8,339.8 528.6,340.7 530.8,342.1 533.6,345.7 534.4,347.7 537.0,349.7 542.8,350.6 544.7,349.7 545.8,347.5 550.8,349.3 551.8,350.5 555.8,349.7 556.9,350.7 558.8,355.5 559.8,355.1 561.6,357.7 560.8,358.8 559.8,358.9 558.8,357.5 557.8,357.3 556.8,357.3 555.8,358.3 553.8,356.5 551.8,358.3 549.8,358.8 543.8,357.4 539.9,359.7 538.8,359.8 537.8,359.1 536.8,356.7 535.4,356.7 533.8,357.5 532.8,356.7 531.2,356.7 528.3,361.7 527.8,362.2 525.8,362.0 524.8,362.6 523.8,364.9 520.8,365.2 519.8,365.7 518.8,367.4 514.8,369.2 512.2,369.7 507.8,372.1 504.7,372.7 505.2,373.7 507.8,374.1 508.3,374.7 505.5,380.7 504.6,384.7 506.1,387.7 505.3,391.7 504.1,393.7 502.7,394.7 502.7,396.7 500.8,399.7 502.8,402.7 501.8,405.2 504.1,406.7 503.7,408.7 502.3,410.7 500.8,414.7 502.2,416.7 501.8,418.7 497.8,418.7 497.8,288.7zM502.8,328.7 503.8,330.7 504.8,331.2 506.1,330.7 503.8,328.0 502.8,328.6zM563.8,349.5 567.8,349.8 568.8,350.7 568.8,352.5 571.8,351.3 573.8,351.8 577.8,351.6 578.8,353.0 580.7,353.7 581.3,354.7 580.3,356.7 577.8,358.4 573.8,358.7 572.8,358.6 572.2,356.7 571.3,355.7 569.8,355.5 567.8,356.7 566.1,356.7 564.7,354.7 562.5,353.7 563.4,352.7 563.6,349.7zM587.8,349.4 588.8,349.9 589.8,351.7 591.8,352.1 596.8,351.7 597.8,350.4 600.8,350.5 605.8,352.0 608.8,351.4 610.6,353.7 607.8,356.3 606.8,356.7 604.8,355.5 601.8,355.6 598.8,358.1 597.8,358.1 596.4,355.7 593.8,354.9 589.8,355.9 587.8,357.2 585.8,357.3 583.0,355.7 582.3,354.7 583.0,353.7 585.2,352.7 587.4,349.7zM624.8,351.4 629.8,352.3 631.8,353.7 632.2,352.7 633.8,351.8 637.6,354.7 636.8,355.6 631.8,353.7 629.8,354.7 627.8,354.7 625.8,354.0 622.8,355.0 621.2,353.7 623.9,351.7zM658.8,352.4 660.8,352.3 662.5,353.7 661.8,355.7 657.8,355.3 656.8,353.7 658.1,352.7zM668.8,352.6 670.8,352.3 672.8,353.7 673.8,353.6 674.8,352.4 675.8,353.4 675.8,354.7 674.8,354.8 673.8,353.8 672.8,353.7 670.8,355.4 667.8,355.5 666.5,353.7 668.5,352.7zM614.8,353.4 616.1,353.7 615.8,354.8 614.8,355.2 614.0,353.7zM642.8,353.3 644.3,353.7 642.0,353.7zM650.8,353.6 653.2,353.7 651.8,354.8 650.7,354.7 650.0,353.7zM532.8,359.6 533.8,358.8 535.3,360.7 534.8,361.7 532.8,361.9 532.4,360.7 532.7,359.7z" fill="#f8b850" fill-opacity="0.22" fill-rule="evenodd"/>
<path d="M498.8,288.7 500.1,288.7 501.0,293.7 498.8,297.7 499.8,301.7 498.5,304.7 499.6,306.7 499.8,311.7 501.8,313.0 503.2,317.7 503.4,318.7 502.2,322.7 504.9,325.7 505.7,327.7 503.8,327.3 502.8,327.7 502.6,328.7 503.8,330.9 505.8,331.7 507.8,330.6 508.8,331.3 510.8,334.4 512.3,334.7 512.4,335.7 514.6,337.7 515.8,337.8 516.8,338.7 516.7,339.7 517.8,341.0 518.9,340.7 518.2,339.7 518.3,336.7 519.8,336.2 520.5,337.7 520.3,340.7 519.7,341.7 525.8,341.1 527.0,341.7 526.8,342.7 527.8,343.2 530.8,343.1 533.0,345.7 533.9,347.7 536.8,349.8 539.8,350.7 542.8,350.8 544.8,350.2 546.8,348.6 551.8,351.1 555.8,350.1 557.6,353.7 558.1,356.7 556.8,356.6 555.8,357.2 554.4,355.7 551.3,355.7 551.6,357.7 550.8,358.3 548.8,358.2 543.8,356.7 538.8,358.7 536.8,356.3 530.8,356.7 528.8,358.6 527.6,358.7 528.3,359.7 527.8,361.4 525.8,361.4 524.8,362.1 523.1,364.7 519.8,364.9 518.6,366.7 514.8,368.7 512.8,368.8 507.8,371.2 504.8,371.7 501.8,374.7 504.3,377.7 502.8,380.7 503.4,382.7 501.7,383.7 501.3,384.7 503.1,386.7 503.1,387.7 502.8,388.2 501.8,388.2 500.8,387.5 499.8,387.8 499.3,388.7 499.1,390.7 500.5,392.7 500.5,393.7 499.8,395.3 498.1,396.7 499.1,400.7 497.8,402.5 497.8,288.7zM564.8,349.7 567.8,350.3 568.2,350.7 567.9,352.7 568.8,353.0 571.8,351.8 577.8,352.0 580.2,354.7 580.5,355.7 579.8,356.7 577.8,357.9 572.8,357.7 572.4,355.7 570.8,355.2 569.8,355.1 566.8,356.6 563.5,353.7 564.1,352.7 563.7,350.7 564.7,349.7zM587.8,350.0 588.8,350.4 589.8,352.1 592.8,352.7 596.8,352.0 597.8,351.0 598.8,350.9 600.8,350.8 605.8,352.4 608.8,352.0 609.8,353.7 608.8,354.7 606.8,355.8 604.8,354.9 601.8,355.2 597.8,357.5 597.0,355.7 595.8,354.8 592.8,354.2 588.8,356.5 585.8,356.9 583.6,355.7 583.1,354.7 587.1,350.7zM622.8,352.7 624.8,352.7 624.4,353.7 622.8,354.4 621.8,353.7 622.8,352.7zM628.8,352.6 630.4,353.7 628.8,354.4 627.1,353.7 628.0,352.7zM633.8,352.5 635.3,353.7 634.8,354.3 633.0,353.7 633.5,352.7zM659.8,352.5 662.0,353.7 661.8,354.7 660.8,355.2 657.8,354.6 657.4,353.7 659.1,352.7zM669.8,352.6 672.0,353.7 670.8,355.0 667.9,354.7 667.6,353.7 669.7,352.7zM559.8,355.8 560.8,357.9 559.8,358.3 559.0,356.7zM533.8,359.9 534.5,360.7 533.8,361.7 532.9,360.7zM498.1,404.7 498.1,408.7 499.1,411.7 497.8,411.7 497.8,404.3zM498.8,413.5 499.0,416.7 497.8,417.5 497.8,413.1z" fill="#f8b850" fill-opacity="0.22" fill-rule="evenodd"/>
<path d="M497.9,306.7 498.3,313.7 500.5,315.7 501.5,322.7 503.5,325.7 502.4,328.7 503.8,331.2 504.8,331.9 507.8,332.0 509.3,333.7 510.8,336.7 512.8,337.2 517.8,341.6 520.8,342.5 524.8,342.2 525.8,343.8 530.8,344.1 532.2,345.7 532.8,347.8 536.8,349.9 538.9,350.7 542.8,351.1 545.2,350.7 546.8,349.9 551.8,351.6 554.8,350.5 555.8,350.5 556.9,353.7 556.8,355.0 555.8,355.9 554.8,355.3 549.5,355.7 550.8,356.7 550.8,357.7 549.8,358.0 543.8,355.8 541.8,356.9 538.8,357.8 536.8,355.9 534.8,356.5 530.8,356.5 525.4,359.7 525.3,360.7 522.8,364.2 519.8,364.0 517.8,366.4 514.8,367.9 512.8,368.0 509.8,369.5 504.8,370.8 502.8,372.3 499.8,372.6 498.8,372.3 497.8,371.0 497.8,306.6zM512.8,365.7 513.8,366.6 514.5,365.7 513.8,365.1 512.8,365.7zM564.8,350.2 567.5,350.7 566.9,352.7 568.8,353.4 569.8,353.4 571.8,352.3 573.8,352.5 575.8,352.1 577.8,352.5 579.8,355.8 577.8,357.4 573.8,356.8 572.8,355.2 571.8,354.8 569.8,354.6 566.8,356.1 564.2,353.7 564.8,352.7 564.2,350.7zM587.8,350.8 588.8,351.1 589.8,352.6 590.8,352.7 591.9,353.7 591.1,354.7 589.8,355.1 588.8,356.1 586.8,356.5 585.8,356.4 583.8,355.0 584.2,353.7 587.1,351.7zM597.8,351.5 600.8,351.2 601.8,352.5 603.8,352.5 605.8,353.1 607.8,352.5 608.8,353.0 609.1,353.7 607.8,354.8 606.8,354.9 604.8,354.2 601.8,354.6 597.8,356.7 596.8,355.0 594.7,353.7 594.9,352.7 596.8,352.5 597.7,351.7zM658.8,353.3 660.8,353.3 661.4,353.7 660.8,354.5 658.8,354.3 658.2,353.7zM669.8,353.4 671.1,353.7 670.0,354.7 669.0,353.7zM498.8,377.1 499.8,376.9 501.0,377.7 500.8,378.9 498.8,379.9 498.2,378.7 498.3,377.7zM498.6,385.7 497.8,389.7 498.8,393.7 497.8,394.7 497.8,384.9z" fill="#fcd786" fill-rule="evenodd"/>
<path d="M498.8,316.1 499.3,316.7 501.0,322.7 502.4,324.7 502.7,325.7 502.1,328.7 503.8,331.6 507.8,333.0 510.1,336.7 512.8,338.2 516.8,341.6 520.8,343.0 523.8,343.1 524.8,344.7 525.8,345.0 529.8,344.7 531.1,345.7 531.4,346.7 530.9,347.7 532.1,348.7 534.8,349.1 538.8,350.9 542.8,351.4 547.8,350.9 550.8,352.0 554.8,351.5 555.8,352.0 556.1,353.7 555.8,354.5 552.8,355.0 549.8,355.0 547.8,356.1 543.8,355.4 541.0,355.7 538.8,356.6 536.8,355.6 534.8,356.2 530.8,356.2 524.3,359.7 522.8,363.0 521.8,363.4 521.3,362.7 522.1,361.7 521.8,361.6 517.8,362.5 516.8,365.7 515.8,365.7 515.1,364.7 513.8,364.3 512.8,364.7 511.5,367.7 510.8,368.2 508.8,368.5 506.8,368.0 503.8,369.9 502.8,371.2 500.8,371.3 497.8,369.4 497.8,315.8zM575.8,352.6 576.8,352.7 578.0,353.7 578.3,355.7 577.8,356.5 574.8,356.4 573.8,355.7 572.8,353.7 571.4,353.7 572.8,353.6 575.1,352.7zM586.8,352.7 588.8,352.5 590.8,353.7 588.8,355.5 585.8,355.9 584.5,354.7 584.9,353.7 586.8,352.7zM597.8,352.2 600.8,352.4 600.3,353.7 597.8,355.4 595.9,353.7 597.2,352.7zM565.8,353.1 568.1,353.7 567.8,355.0 566.8,355.3 565.1,353.7z" fill="#fccb66" fill-rule="evenodd"/>
<path d="M498.8,317.7 498.8,319.7 499.8,320.8 500.6,323.7 502.1,325.7 501.7,328.7 503.4,331.7 507.4,333.7 508.5,335.7 510.8,338.1 516.8,342.3 522.8,344.1 525.8,345.9 526.8,346.1 528.8,345.1 529.8,345.5 530.3,346.7 529.9,347.7 532.8,349.5 534.8,349.6 538.8,351.2 542.8,351.8 546.8,351.3 549.8,352.6 553.8,352.6 554.9,353.7 552.8,354.6 549.8,354.4 546.8,355.5 543.8,355.0 530.8,355.9 522.8,360.1 516.8,362.0 515.8,363.5 512.8,363.6 510.8,367.1 509.8,367.6 507.8,366.7 505.8,365.1 505.0,365.7 504.8,367.7 503.8,368.7 502.8,368.7 501.8,370.7 498.0,368.7 497.8,316.7zM574.8,353.5 577.0,353.7 577.0,354.7 575.8,355.6 574.8,355.5 574.3,354.7 574.4,353.7zM586.8,353.6 587.8,354.7 586.8,355.0 585.6,354.7 586.4,353.7z" fill="#fabd40" fill-rule="evenodd"/>
<path d="M498.8,322.2 501.1,325.7 500.9,328.7 502.8,332.0 503.8,332.9 505.8,333.7 506.8,334.7 507.2,335.7 509.3,337.7 510.6,340.7 513.8,341.3 516.8,343.2 522.8,345.3 525.9,347.7 526.8,348.1 528.8,347.8 532.8,350.2 534.8,350.1 538.8,351.7 542.8,352.5 546.8,351.9 549.8,353.7 546.8,355.0 543.8,354.5 538.8,355.3 530.8,355.5 523.8,358.2 518.8,360.9 514.4,360.7 512.8,361.7 509.8,365.7 508.8,364.1 506.8,364.0 504.8,364.5 502.8,366.9 499.8,366.4 499.2,365.7 498.8,363.7 497.8,363.2 497.8,329.2 499.4,328.7 499.2,327.7 497.8,326.9 497.8,321.9zM550.8,353.3 552.8,353.2 553.4,353.7 552.8,354.0 549.8,353.7z" fill="#f8ac12" fill-rule="evenodd"/>
<path d="M498.8,330.3 500.8,330.0 501.5,330.7 502.8,333.7 504.9,334.7 505.8,337.2 507.8,337.7 509.0,340.7 509.8,341.3 521.8,346.1 526.8,349.2 528.8,349.0 532.8,350.9 533.8,351.2 534.8,350.6 542.8,353.4 546.8,352.6 548.1,353.7 546.8,354.4 542.8,353.9 534.8,355.3 530.8,355.1 525.8,356.9 521.8,357.5 518.8,360.0 513.8,359.2 510.8,361.7 504.9,363.7 501.8,365.4 500.8,365.1 499.4,362.7 497.8,362.3 497.8,330.3z" fill="#f79b00" fill-rule="evenodd"/>
<path d="M498.8,331.6 500.5,331.7 501.3,333.7 505.8,339.3 508.8,341.8 514.5,344.7 520.8,346.8 525.8,349.7 529.8,350.2 533.8,352.0 534.8,351.3 541.4,353.7 534.8,355.0 530.6,354.7 524.8,356.4 520.8,356.4 520.1,356.7 518.8,358.7 513.8,358.3 510.1,360.7 502.8,363.7 501.8,363.8 499.8,361.7 497.8,361.5 497.8,331.7z" fill="#f28300" fill-rule="evenodd"/>
<path d="M498.5,334.7 501.8,336.2 505.8,340.5 507.8,342.0 513.8,345.3 521.8,348.3 524.8,350.1 529.8,350.9 533.8,352.9 534.8,352.3 538.8,353.7 534.8,354.5 527.8,354.6 524.8,355.5 520.8,355.4 517.8,357.2 512.8,357.9 506.8,361.2 503.8,362.2 500.8,361.0 497.8,360.9 497.8,334.5z" fill="#ec6800" fill-rule="evenodd"/>
<path d="M498.8,336.6 500.8,337.0 503.4,338.7 503.9,340.7 506.8,343.8 507.8,344.3 509.8,343.8 511.1,344.7 511.8,347.5 513.8,346.4 514.8,346.4 518.8,348.3 521.2,348.7 522.8,349.7 522.8,350.7 521.9,351.7 523.8,352.0 526.8,351.0 529.8,351.4 533.8,353.6 534.8,353.3 536.0,353.7 524.8,354.8 519.8,354.7 517.8,356.2 512.8,357.1 504.8,361.1 503.8,361.1 502.9,359.7 501.8,359.5 497.8,360.2 497.8,335.9z" fill="#e35300" fill-rule="evenodd"/>
<path d="M498.8,343.0 499.8,342.7 501.8,344.0 503.8,344.6 505.8,346.6 508.8,347.2 511.8,349.4 513.5,349.7 514.8,348.5 515.2,348.7 515.4,349.7 514.8,350.7 518.8,351.1 520.8,352.9 522.8,353.3 526.8,352.7 531.8,353.0 533.3,353.7 519.8,354.2 513.5,355.7 505.8,358.6 497.8,358.3 497.8,343.1z" fill="#d34000" fill-rule="evenodd"/>
<path d="M498.2,344.7 502.8,346.2 505.8,348.0 508.8,348.9 514.8,352.7 517.8,353.0 519.4,353.7 514.8,354.4 513.8,355.2 504.8,358.3 497.8,357.4 497.8,344.5z" fill="#bc3200" fill-rule="evenodd"/>
<path d="M498.8,345.6 508.8,349.7 514.8,353.4 516.2,353.7 504.8,357.8 497.8,356.8 497.8,345.2z" fill="#a02600" fill-rule="evenodd"/>
<path d="M500.8,348.5 507.8,350.0 512.9,352.7 514.0,353.7 506.6,356.7 504.8,357.2 500.8,356.9 497.8,355.5 497.8,350.0 500.2,348.7z" fill="#822000" fill-rule="evenodd"/>
<path d="M500.8,350.6 507.8,351.5 510.8,353.2 511.5,353.7 509.8,354.1 507.5,355.7 504.8,356.4 500.8,356.2 499.7,355.7 497.8,353.5 500.7,350.7z" fill="#5b1300" fill-rule="evenodd"/>
<path d="M499.8,353.4 500.8,352.9 504.8,352.8 507.6,353.7 504.8,355.1 502.8,354.7 500.8,354.9 499.5,353.7z" fill="#320b00" fill-rule="evenodd"/>
<path d="M497.8,314.8 498.8,315.0 499.7,315.7 500.2,316.7 501.4,322.7 503.2,325.7 502.3,328.7 503.8,331.3 504.8,332.0 507.8,332.4 508.8,333.5 510.6,336.7 512.8,337.6 516.8,341.2 520.8,342.7 523.8,342.2 524.9,342.7 525.8,344.2 529.8,344.0 530.8,344.5 532.2,346.7 532.0,347.7 532.8,348.6 534.8,348.9 538.8,350.8 542.8,351.1 546.8,350.2 551.8,351.7 552.8,351.7 554.8,350.6 555.8,350.7 556.6,353.7 556.5,354.7 555.8,355.5 554.8,355.1 549.0,355.7 550.4,356.7 550.2,357.7 549.8,357.8 543.8,355.6 538.8,357.4 536.9,355.7 534.8,356.4 530.8,356.4 529.8,357.3 526.8,358.5 524.9,359.7 524.3,361.7 522.8,364.0 520.8,363.9 520.1,363.7 520.0,362.7 518.7,362.7 518.0,363.7 518.5,364.7 518.1,365.7 516.8,366.5 514.8,367.2 514.4,366.7 514.9,365.7 513.8,364.8 512.6,365.7 512.6,367.7 509.8,369.2 504.8,370.3 502.8,372.0 500.8,372.0 497.8,370.2M564.8,350.4 567.1,350.7 566.3,352.7 568.8,353.6 569.8,353.7 571.8,352.5 573.8,352.6 575.8,352.2 577.8,352.7 579.1,355.7 578.4,356.7 577.8,357.1 574.8,356.9 573.8,356.4 572.8,354.8 570.8,354.5 569.8,353.9 567.8,355.7 566.8,355.9 564.5,353.7 565.4,352.7 564.5,351.7 564.5,350.7zM587.8,351.3 588.8,351.5 589.6,352.7 591.5,353.7 590.8,354.7 589.8,355.0 588.8,355.9 586.8,356.3 585.8,356.3 583.8,354.7 584.4,353.7 587.5,351.7zM598.8,351.5 600.8,351.4 601.8,353.0 603.8,352.8 604.8,353.4 605.8,353.5 607.8,352.8 608.8,353.7 607.8,354.4 606.8,354.5 604.8,353.8 601.8,354.3 597.8,356.3 596.8,354.8 595.1,353.7 595.7,352.7 596.8,352.6 598.0,351.7zM658.8,353.6 659.8,353.2 660.8,353.5 661.1,353.7 660.8,354.1 659.8,354.3 658.6,353.7z" fill="none" stroke="#000" stroke-width="0.9"/>
<path d="M497.8,335.5 501.8,337.2 503.7,338.7 504.8,341.2 507.8,343.4 510.2,343.7 511.7,344.7 511.9,345.7 512.8,346.6 513.8,346.0 514.8,346.2 521.5,348.7 523.2,349.7 523.7,350.7 523.5,351.7 524.8,351.0 526.8,350.8 529.8,351.3 533.8,353.4 534.8,353.0 536.5,353.7 533.8,353.9 532.8,354.3 527.8,354.4 524.8,355.0 520.8,354.7 517.0,356.7 512.8,357.3 504.8,361.3 503.8,361.5 501.8,360.0 497.8,360.4" fill="none" stroke="#000" stroke-width="0.9"/>
<path d="M497.8,345.4 499.8,346.6 500.9,346.7 504.8,348.6 508.4,349.7 515.2,353.7 510.8,355.7 508.8,356.0 504.8,357.7 497.8,356.6" fill="none" stroke="#000" stroke-width="0.9"/>
<path d="M500.8,351.4 507.8,352.1 508.8,352.5 510.1,353.7 508.6,354.7 506.7,355.7 504.8,356.0 500.8,355.9 498.3,353.7 500.3,351.7z" fill="none" stroke="#000" stroke-width="0.9"/>
<ellipse cx="632.7" cy="343.6" rx="1.0" ry="1.5" fill="#f6a21c" stroke="#111" stroke-width="1.0"/><ellipse cx="568.2" cy="394.5" rx="0.9" ry="1.4" fill="#f6a21c" stroke="#111" stroke-width="1.0"/><ellipse cx="656.6" cy="330.5" rx="0.8" ry="1.0" fill="#f6a21c" stroke="#111" stroke-width="1.0"/><ellipse cx="648.8" cy="400.6" rx="0.9" ry="1.0" fill="#f6a21c" stroke="#111" stroke-width="1.0"/><ellipse cx="608.7" cy="378.3" rx="1.0" ry="1.4" fill="#f6a21c" stroke="#111" stroke-width="1.0"/><ellipse cx="583.0" cy="342.8" rx="0.8" ry="1.1" fill="#f6a21c" stroke="#111" stroke-width="1.0"/><ellipse cx="605.4" cy="301.8" rx="0.8" ry="1.0" fill="#f6a21c" stroke="#111" stroke-width="1.0"/><ellipse cx="568.9" cy="375.0" rx="1.0" ry="1.5" fill="#f6a21c" stroke="#111" stroke-width="1.0"/><ellipse cx="597.3" cy="303.7" rx="0.8" ry="1.0" fill="#f6a21c" stroke="#111" stroke-width="1.0"/><ellipse cx="648.1" cy="382.3" rx="0.9" ry="1.3" fill="#f6a21c" stroke="#111" stroke-width="1.0"/><ellipse cx="648.6" cy="311.5" rx="0.6" ry="0.8" fill="#f6a21c" stroke="#111" stroke-width="1.0"/><ellipse cx="621.7" cy="382.4" rx="0.9" ry="1.2" fill="#f6a21c" stroke="#111" stroke-width="1.0"/><ellipse cx="629.0" cy="370.9" rx="0.8" ry="0.9" fill="#f6a21c" stroke="#111" stroke-width="1.0"/><ellipse cx="617.5" cy="296.5" rx="1.0" ry="1.3" fill="#f6a21c" stroke="#111" stroke-width="1.0"/><ellipse cx="653.4" cy="313.1" rx="1.1" ry="1.4" fill="#f6a21c" stroke="#111" stroke-width="1.0"/><ellipse cx="578.1" cy="307.6" rx="1.0" ry="1.4" fill="#f6a21c" stroke="#111" stroke-width="1.0"/><ellipse cx="566.5" cy="303.0" rx="0.8" ry="0.9" fill="#f6a21c" stroke="#111" stroke-width="1.0"/><ellipse cx="630.0" cy="327.4" rx="1.0" ry="1.0" fill="#f6a21c" stroke="#111" stroke-width="1.0"/><ellipse cx="656.9" cy="330.0" rx="0.7" ry="1.2" fill="#f6a21c" stroke="#111" stroke-width="1.0"/><ellipse cx="572.3" cy="373.6" rx="0.8" ry="1.2" fill="#f6a21c" stroke="#111" stroke-width="1.0"/><ellipse cx="658.5" cy="319.8" rx="0.7" ry="1.0" fill="#f6a21c" stroke="#111" stroke-width="1.0"/><ellipse cx="565.6" cy="380.6" rx="0.6" ry="1.0" fill="#f6a21c" stroke="#111" stroke-width="1.0"/><ellipse cx="643.2" cy="318.4" rx="0.9" ry="1.3" fill="#f6a21c" stroke="#111" stroke-width="1.0"/><ellipse cx="621.7" cy="311.1" rx="0.9" ry="1.1" fill="#f6a21c" stroke="#111" stroke-width="1.0"/><ellipse cx="602.2" cy="317.1" rx="0.9" ry="1.5" fill="#f6a21c" stroke="#111" stroke-width="1.0"/><ellipse cx="590.8" cy="387.1" rx="0.7" ry="1.0" fill="#f6a21c" stroke="#111" stroke-width="1.0"/><ellipse cx="644.4" cy="413.8" rx="0.8" ry="1.2" fill="#f6a21c" stroke="#111" stroke-width="1.0"/><ellipse cx="637.6" cy="414.4" rx="0.7" ry="1.0" fill="#f6a21c" stroke="#111" stroke-width="1.0"/><ellipse cx="597.6" cy="323.9" rx="1.0" ry="1.2" fill="#f6a21c" stroke="#111" stroke-width="1.0"/><ellipse cx="614.0" cy="305.1" rx="1.0" ry="1.1" fill="#f6a21c" stroke="#111" stroke-width="1.0"/><ellipse cx="602.7" cy="334.6" rx="0.8" ry="1.2" fill="#f6a21c" stroke="#111" stroke-width="1.0"/><ellipse cx="638.0" cy="302.3" rx="0.8" ry="1.2" fill="#f6a21c" stroke="#111" stroke-width="1.0"/><ellipse cx="646.1" cy="322.5" rx="0.8" ry="1.1" fill="#f6a21c" stroke="#111" stroke-width="1.0"/><ellipse cx="668.6" cy="323.4" rx="0.9" ry="1.1" fill="#f6a21c" stroke="#111" stroke-width="1.0"/><ellipse cx="619.5" cy="376.5" rx="0.7" ry="1.1" fill="#f6a21c" stroke="#111" stroke-width="1.0"/><ellipse cx="617.6" cy="363.7" rx="0.9" ry="1.5" fill="#f6a21c" stroke="#111" stroke-width="1.0"/><ellipse cx="593.1" cy="346.3" rx="0.8" ry="1.2" fill="#f6a21c" stroke="#111" stroke-width="1.0"/><ellipse cx="628.4" cy="339.2" rx="0.7" ry="0.8" fill="#f6a21c" stroke="#111" stroke-width="1.0"/><ellipse cx="606.6" cy="324.6" rx="0.8" ry="1.0" fill="#f6a21c" stroke="#111" stroke-width="1.0"/><ellipse cx="586.7" cy="403.5" rx="0.8" ry="1.0" fill="#f6a21c" stroke="#111" stroke-width="1.0"/><ellipse cx="655.5" cy="338.0" rx="1.0" ry="1.4" fill="#f6a21c" stroke="#111" stroke-width="1.0"/><ellipse cx="623.0" cy="406.5" rx="0.9" ry="1.3" fill="#f6a21c" stroke="#111" stroke-width="1.0"/><ellipse cx="596.0" cy="408.8" rx="0.9" ry="1.1" fill="#f6a21c" stroke="#111" stroke-width="1.0"/><ellipse cx="657.0" cy="405.8" rx="0.7" ry="0.8" fill="#f6a21c" stroke="#111" stroke-width="1.0"/><ellipse cx="652.9" cy="378.6" rx="0.9" ry="1.3" fill="#f6a21c" stroke="#111" stroke-width="1.0"/><ellipse cx="604.5" cy="342.1" rx="0.7" ry="1.0" fill="#f6a21c" stroke="#111" stroke-width="1.0"/><ellipse cx="620.4" cy="311.1" rx="0.8" ry="0.8" fill="#f6a21c" stroke="#111" stroke-width="1.0"/><ellipse cx="623.5" cy="312.8" rx="0.7" ry="1.1" fill="#f6a21c" stroke="#111" stroke-width="1.0"/><ellipse cx="612.4" cy="325.0" rx="0.8" ry="1.1" fill="#f6a21c" stroke="#111" stroke-width="1.0"/><ellipse cx="648.9" cy="344.5" rx="0.9" ry="1.4" fill="#f6a21c" stroke="#111" stroke-width="1.0"/><ellipse cx="646.4" cy="318.8" rx="0.9" ry="1.1" fill="#f6a21c" stroke="#111" stroke-width="1.0"/><ellipse cx="609.5" cy="397.9" rx="0.8" ry="1.1" fill="#f6a21c" stroke="#111" stroke-width="1.0"/><ellipse cx="587.2" cy="325.8" rx="0.7" ry="0.8" fill="#f6a21c" stroke="#111" stroke-width="1.0"/><ellipse cx="626.2" cy="398.2" rx="0.9" ry="1.0" fill="#f6a21c" stroke="#111" stroke-width="1.0"/><ellipse cx="608.6" cy="312.8" rx="0.8" ry="1.2" fill="#f6a21c" stroke="#111" stroke-width="1.0"/><ellipse cx="647.5" cy="359.7" rx="0.7" ry="1.1" fill="#f6a21c" stroke="#111" stroke-width="1.0"/><ellipse cx="650.8" cy="305.9" rx="0.8" ry="1.1" fill="#f6a21c" stroke="#111" stroke-width="1.0"/><ellipse cx="658.5" cy="357.7" rx="0.8" ry="1.1" fill="#f6a21c" stroke="#111" stroke-width="1.0"/><ellipse cx="631.8" cy="393.5" rx="0.9" ry="1.1" fill="#f6a21c" stroke="#111" stroke-width="1.0"/><ellipse cx="603.1" cy="383.3" rx="0.9" ry="1.2" fill="#f6a21c" stroke="#111" stroke-width="1.0"/><ellipse cx="577.4" cy="365.7" rx="0.9" ry="1.3" fill="#f6a21c" stroke="#111" stroke-width="1.0"/><ellipse cx="561.2" cy="394.1" rx="0.7" ry="1.0" fill="#f6a21c" stroke="#111" stroke-width="1.0"/><ellipse cx="652.9" cy="384.2" rx="0.8" ry="1.0" fill="#f6a21c" stroke="#111" stroke-width="1.0"/><ellipse cx="631.3" cy="401.1" rx="1.0" ry="1.2" fill="#f6a21c" stroke="#111" stroke-width="1.0"/><ellipse cx="637.3" cy="368.1" rx="0.8" ry="1.2" fill="#f6a21c" stroke="#111" stroke-width="1.0"/><ellipse cx="644.2" cy="335.4" rx="0.7" ry="0.9" fill="#f6a21c" stroke="#111" stroke-width="1.0"/><ellipse cx="669.7" cy="321.6" rx="0.9" ry="1.1" fill="#f6a21c" stroke="#111" stroke-width="1.0"/><ellipse cx="588.3" cy="362.6" rx="0.7" ry="1.0" fill="#f6a21c" stroke="#111" stroke-width="1.0"/><ellipse cx="571.2" cy="328.0" rx="0.8" ry="1.0" fill="#f6a21c" stroke="#111" stroke-width="1.0"/><ellipse cx="631.6" cy="330.0" rx="0.9" ry="1.1" fill="#f6a21c" stroke="#111" stroke-width="1.0"/><ellipse cx="586.0" cy="371.6" rx="0.9" ry="0.5" fill="#1a1a1a"/><ellipse cx="616.6" cy="293.3" rx="0.7" ry="0.6" fill="#1a1a1a"/><ellipse cx="664.2" cy="297.8" rx="0.8" ry="0.8" fill="#1a1a1a"/><ellipse cx="654.5" cy="342.5" rx="1.1" ry="1.0" fill="#1a1a1a"/><ellipse cx="600.8" cy="335.8" rx="0.4" ry="0.4" fill="#1a1a1a"/><ellipse cx="619.0" cy="364.4" rx="1.1" ry="0.6" fill="#1a1a1a"/><ellipse cx="614.1" cy="373.3" rx="0.9" ry="0.9" fill="#1a1a1a"/><ellipse cx="610.8" cy="349.5" rx="0.8" ry="0.6" fill="#1a1a1a"/><ellipse cx="638.6" cy="292.8" rx="0.7" ry="0.7" fill="#1a1a1a"/><ellipse cx="636.8" cy="394.2" rx="0.8" ry="0.5" fill="#1a1a1a"/><ellipse cx="631.6" cy="292.5" rx="0.5" ry="0.4" fill="#1a1a1a"/><ellipse cx="569.6" cy="374.8" rx="0.6" ry="0.5" fill="#1a1a1a"/><ellipse cx="607.2" cy="326.5" rx="1.3" ry="0.8" fill="#1a1a1a"/><ellipse cx="600.9" cy="370.6" rx="0.7" ry="0.5" fill="#1a1a1a"/><ellipse cx="573.3" cy="300.6" rx="0.6" ry="0.4" fill="#1a1a1a"/><ellipse cx="639.8" cy="342.9" rx="1.2" ry="0.7" fill="#1a1a1a"/><ellipse cx="611.5" cy="313.7" rx="0.6" ry="0.4" fill="#1a1a1a"/><ellipse cx="613.8" cy="411.5" rx="1.0" ry="0.6" fill="#1a1a1a"/><ellipse cx="635.9" cy="414.4" rx="0.9" ry="0.7" fill="#1a1a1a"/><ellipse cx="596.7" cy="400.4" rx="0.9" ry="0.6" fill="#1a1a1a"/><ellipse cx="582.6" cy="410.2" rx="0.4" ry="0.5" fill="#1a1a1a"/><ellipse cx="624.1" cy="293.7" rx="1.0" ry="0.5" fill="#1a1a1a"/><ellipse cx="663.4" cy="343.5" rx="1.1" ry="0.9" fill="#1a1a1a"/><ellipse cx="646.7" cy="314.6" rx="0.4" ry="0.4" fill="#1a1a1a"/><ellipse cx="566.5" cy="368.1" rx="0.8" ry="0.6" fill="#1a1a1a"/><ellipse cx="594.6" cy="357.8" rx="0.5" ry="0.5" fill="#1a1a1a"/><ellipse cx="582.2" cy="314.7" rx="1.2" ry="0.6" fill="#1a1a1a"/><ellipse cx="615.3" cy="347.5" rx="1.0" ry="0.7" fill="#1a1a1a"/><ellipse cx="581.0" cy="312.8" rx="0.5" ry="0.4" fill="#1a1a1a"/><ellipse cx="596.1" cy="337.9" rx="0.9" ry="0.7" fill="#1a1a1a"/><ellipse cx="574.1" cy="342.8" rx="0.4" ry="0.4" fill="#1a1a1a"/><ellipse cx="588.8" cy="296.8" rx="0.8" ry="0.8" fill="#1a1a1a"/><ellipse cx="617.1" cy="328.8" rx="0.7" ry="0.5" fill="#1a1a1a"/><ellipse cx="629.5" cy="335.0" rx="0.7" ry="0.5" fill="#1a1a1a"/><ellipse cx="667.0" cy="314.6" rx="0.4" ry="0.6" fill="#1a1a1a"/><ellipse cx="588.4" cy="412.2" rx="0.8" ry="0.8" fill="#1a1a1a"/><ellipse cx="569.8" cy="398.2" rx="0.9" ry="0.6" fill="#1a1a1a"/><ellipse cx="573.7" cy="364.7" rx="0.7" ry="0.5" fill="#1a1a1a"/><ellipse cx="650.2" cy="396.8" rx="1.0" ry="0.6" fill="#1a1a1a"/><ellipse cx="635.5" cy="320.1" rx="0.8" ry="0.6" fill="#1a1a1a"/><ellipse cx="653.4" cy="316.0" rx="0.5" ry="0.5" fill="#1a1a1a"/><ellipse cx="666.8" cy="310.1" rx="0.5" ry="0.4" fill="#1a1a1a"/><ellipse cx="624.6" cy="338.1" rx="0.9" ry="0.9" fill="#1a1a1a"/><ellipse cx="630.1" cy="373.7" rx="0.9" ry="0.7" fill="#1a1a1a"/><ellipse cx="624.1" cy="339.9" rx="0.6" ry="0.6" fill="#1a1a1a"/><ellipse cx="605.4" cy="323.8" rx="0.5" ry="0.5" fill="#1a1a1a"/><ellipse cx="668.6" cy="404.1" rx="0.4" ry="0.4" fill="#1a1a1a"/><ellipse cx="666.9" cy="325.5" rx="0.9" ry="0.5" fill="#1a1a1a"/><ellipse cx="648.9" cy="410.6" rx="0.6" ry="0.7" fill="#1a1a1a"/><ellipse cx="664.1" cy="364.2" rx="0.6" ry="0.4" fill="#1a1a1a"/><ellipse cx="641.2" cy="415.6" rx="0.9" ry="0.7" fill="#1a1a1a"/><ellipse cx="600.5" cy="375.5" rx="0.6" ry="0.6" fill="#1a1a1a"/><ellipse cx="598.0" cy="319.4" rx="0.6" ry="0.6" fill="#1a1a1a"/><ellipse cx="578.1" cy="362.2" rx="0.7" ry="0.6" fill="#1a1a1a"/><ellipse cx="638.5" cy="358.8" rx="0.7" ry="0.7" fill="#1a1a1a"/><ellipse cx="630.5" cy="397.8" rx="0.5" ry="0.4" fill="#1a1a1a"/><ellipse cx="633.6" cy="297.2" rx="0.9" ry="0.7" fill="#1a1a1a"/><ellipse cx="621.0" cy="299.4" rx="0.7" ry="0.5" fill="#1a1a1a"/><ellipse cx="601.0" cy="389.5" rx="0.8" ry="0.5" fill="#1a1a1a"/><ellipse cx="593.6" cy="304.1" rx="0.7" ry="0.5" fill="#1a1a1a"/><ellipse cx="636.1" cy="329.4" rx="0.9" ry="0.8" fill="#1a1a1a"/><ellipse cx="594.5" cy="393.6" rx="0.7" ry="0.5" fill="#1a1a1a"/><ellipse cx="662.4" cy="306.1" rx="1.2" ry="0.7" fill="#1a1a1a"/><ellipse cx="604.0" cy="387.7" rx="1.3" ry="0.7" fill="#1a1a1a"/><ellipse cx="631.4" cy="415.5" rx="1.0" ry="0.7" fill="#1a1a1a"/><ellipse cx="589.9" cy="370.9" rx="1.1" ry="0.9" fill="#1a1a1a"/><ellipse cx="575.9" cy="389.3" rx="0.8" ry="0.5" fill="#1a1a1a"/><ellipse cx="607.9" cy="382.4" rx="0.7" ry="0.6" fill="#1a1a1a"/><ellipse cx="611.4" cy="336.3" rx="0.6" ry="0.5" fill="#1a1a1a"/><ellipse cx="640.0" cy="408.8" rx="0.8" ry="0.6" fill="#1a1a1a"/><ellipse cx="669.4" cy="358.7" rx="0.7" ry="0.7" fill="#1a1a1a"/><ellipse cx="671.5" cy="408.7" rx="0.7" ry="0.6" fill="#1a1a1a"/><ellipse cx="646.2" cy="383.7" rx="0.8" ry="0.6" fill="#1a1a1a"/><ellipse cx="654.3" cy="382.3" rx="0.7" ry="0.7" fill="#1a1a1a"/><ellipse cx="645.0" cy="405.7" rx="0.8" ry="0.6" fill="#1a1a1a"/><ellipse cx="565.5" cy="376.1" rx="1.0" ry="0.6" fill="#1a1a1a"/><ellipse cx="625.2" cy="330.1" rx="0.7" ry="0.8" fill="#1a1a1a"/><ellipse cx="626.9" cy="375.8" rx="0.7" ry="0.7" fill="#1a1a1a"/><ellipse cx="665.2" cy="400.5" rx="0.6" ry="0.7" fill="#1a1a1a"/><ellipse cx="635.8" cy="387.6" rx="0.6" ry="0.5" fill="#1a1a1a"/><ellipse cx="654.0" cy="340.6" rx="0.7" ry="0.4" fill="#1a1a1a"/><ellipse cx="638.5" cy="378.6" rx="0.9" ry="0.5" fill="#1a1a1a"/><ellipse cx="606.7" cy="370.2" rx="0.5" ry="0.3" fill="#1a1a1a"/><ellipse cx="625.5" cy="301.7" rx="1.0" ry="0.8" fill="#1a1a1a"/><ellipse cx="649.9" cy="297.9" rx="1.1" ry="0.6" fill="#1a1a1a"/><ellipse cx="620.7" cy="394.2" rx="0.8" ry="0.7" fill="#1a1a1a"/><ellipse cx="608.6" cy="366.0" rx="0.6" ry="0.4" fill="#1a1a1a"/><ellipse cx="588.7" cy="325.9" rx="0.8" ry="0.5" fill="#1a1a1a"/><ellipse cx="632.7" cy="351.2" rx="0.5" ry="0.5" fill="#1a1a1a"/><ellipse cx="625.4" cy="383.0" rx="1.0" ry="0.9" fill="#1a1a1a"/><ellipse cx="583.4" cy="337.1" rx="0.6" ry="0.7" fill="#1a1a1a"/><ellipse cx="655.3" cy="321.5" rx="0.6" ry="0.5" fill="#1a1a1a"/><ellipse cx="567.8" cy="374.0" rx="1.2" ry="0.9" fill="#1a1a1a"/><ellipse cx="638.7" cy="412.7" rx="0.6" ry="0.7" fill="#1a1a1a"/><ellipse cx="641.6" cy="347.4" rx="0.5" ry="0.4" fill="#1a1a1a"/><ellipse cx="618.6" cy="414.5" rx="0.9" ry="0.6" fill="#1a1a1a"/><ellipse cx="561.6" cy="337.6" rx="0.6" ry="0.4" fill="#1a1a1a"/><ellipse cx="628.3" cy="401.9" rx="0.6" ry="0.7" fill="#1a1a1a"/><ellipse cx="658.4" cy="319.2" rx="0.6" ry="0.8" fill="#1a1a1a"/><ellipse cx="625.8" cy="322.9" rx="0.7" ry="0.4" fill="#1a1a1a"/><ellipse cx="646.2" cy="356.6" rx="0.8" ry="0.4" fill="#1a1a1a"/><ellipse cx="608.1" cy="353.7" rx="0.8" ry="0.6" fill="#1a1a1a"/><ellipse cx="633.1" cy="322.7" rx="1.3" ry="1.0" fill="#1a1a1a"/><ellipse cx="582.9" cy="295.0" rx="0.7" ry="0.4" fill="#1a1a1a"/><ellipse cx="575.8" cy="298.7" rx="0.4" ry="0.6" fill="#1a1a1a"/><ellipse cx="670.9" cy="332.9" rx="0.5" ry="0.4" fill="#1a1a1a"/><ellipse cx="624.6" cy="341.9" rx="1.0" ry="0.9" fill="#1a1a1a"/><ellipse cx="650.0" cy="382.9" rx="1.0" ry="0.6" fill="#1a1a1a"/><ellipse cx="646.8" cy="355.7" rx="0.8" ry="0.7" fill="#1a1a1a"/><ellipse cx="562.3" cy="385.9" rx="0.7" ry="0.5" fill="#1a1a1a"/><ellipse cx="586.1" cy="355.6" rx="0.7" ry="0.9" fill="#f6a21c" stroke="#111" stroke-width="1.0"/><ellipse cx="635.6" cy="356.3" rx="0.7" ry="0.9" fill="#f6a21c" stroke="#111" stroke-width="1.0"/><ellipse cx="596.1" cy="353.0" rx="0.7" ry="0.8" fill="#f6a21c" stroke="#111" stroke-width="1.0"/><ellipse cx="645.9" cy="351.9" rx="0.9" ry="1.4" fill="#f6a21c" stroke="#111" stroke-width="1.0"/><ellipse cx="572.1" cy="350.7" rx="1.0" ry="1.4" fill="#f6a21c" stroke="#111" stroke-width="1.0"/><ellipse cx="619.7" cy="352.6" rx="0.7" ry="1.0" fill="#f6a21c" stroke="#111" stroke-width="1.0"/><ellipse cx="667.4" cy="352.3" rx="0.8" ry="1.3" fill="#f6a21c" stroke="#111" stroke-width="1.0"/><ellipse cx="649.7" cy="354.5" rx="0.8" ry="1.3" fill="#f6a21c" stroke="#111" stroke-width="1.0"/><ellipse cx="637.3" cy="355.5" rx="1.1" ry="0.8" fill="#1a1a1a"/><ellipse cx="652.8" cy="355.5" rx="1.2" ry="1.0" fill="#1a1a1a"/><ellipse cx="637.8" cy="355.4" rx="0.6" ry="0.5" fill="#1a1a1a"/><ellipse cx="652.4" cy="353.7" rx="1.2" ry="0.8" fill="#1a1a1a"/><ellipse cx="565.1" cy="351.1" rx="0.8" ry="0.7" fill="#1a1a1a"/><ellipse cx="615.3" cy="356.2" rx="0.8" ry="0.6" fill="#1a1a1a"/><ellipse cx="535.2" cy="354.7" rx="0.8" ry="0.6" fill="#1a1a1a"/><ellipse cx="641.8" cy="352.9" rx="0.8" ry="1.0" fill="#1a1a1a"/><ellipse cx="664.0" cy="354.0" rx="1.1" ry="0.5" fill="#1a1a1a"/><ellipse cx="657.3" cy="354.0" rx="0.7" ry="0.5" fill="#1a1a1a"/><ellipse cx="612.7" cy="354.5" rx="1.0" ry="1.0" fill="#1a1a1a"/><ellipse cx="673.0" cy="356.1" rx="0.9" ry="0.7" fill="#1a1a1a"/><ellipse cx="665.7" cy="352.4" rx="0.7" ry="0.7" fill="#1a1a1a"/><ellipse cx="594.8" cy="354.2" rx="1.1" ry="0.8" fill="#1a1a1a"/><ellipse cx="655.2" cy="355.5" rx="0.9" ry="0.5" fill="#1a1a1a"/><ellipse cx="645.4" cy="352.1" rx="0.7" ry="0.7" fill="#1a1a1a"/>
<line x1="505.8" y1="353.85" x2="676.0" y2="353.85" stroke="#000" stroke-width="1.1" stroke-dasharray="2.2 2.3"/>
</g>
<rect x="598.9" y="379.2" width="67.7" height="30.2" fill="#fff"/>
<linearGradient id="gf" x1="0" x2="1" y1="0" y2="0"><stop offset="0.000" stop-color="#200800"/><stop offset="0.043" stop-color="#3b0c00"/><stop offset="0.087" stop-color="#611400"/><stop offset="0.130" stop-color="#812000"/><stop offset="0.174" stop-color="#9b2400"/><stop offset="0.217" stop-color="#b22d00"/><stop offset="0.261" stop-color="#c93900"/><stop offset="0.304" stop-color="#da4600"/><stop offset="0.348" stop-color="#e95e00"/><stop offset="0.391" stop-color="#f17d00"/><stop offset="0.435" stop-color="#f8a507"/><stop offset="0.478" stop-color="#fcd37b"/><stop offset="0.522" stop-color="#fefeff"/><stop offset="0.565" stop-color="#f7f7ff"/><stop offset="0.609" stop-color="#f0f0ff"/><stop offset="0.652" stop-color="#e6e6ff"/><stop offset="0.696" stop-color="#dbdbff"/><stop offset="0.739" stop-color="#cfcfff"/><stop offset="0.783" stop-color="#c2c2ff"/><stop offset="0.826" stop-color="#b6b6ff"/><stop offset="0.870" stop-color="#aaaaff"/><stop offset="0.913" stop-color="#9e9eff"/><stop offset="0.957" stop-color="#9393ff"/><stop offset="1.000" stop-color="#8888ff"/></linearGradient>
<rect x="606.2" y="398.3" width="53.2" height="7.2" fill="url(#gf)" stroke="#111" stroke-width="0.8"/>
<text x="611.40" y="393.50" font-size="4.60" font-weight="bold" fill="#000" text-anchor="middle" style="font-family:'Liberation Sans',sans-serif">60</text>
<text x="618.70" y="393.50" font-size="4.60" font-weight="bold" fill="#000" text-anchor="middle" style="font-family:'Liberation Sans',sans-serif">40</text>
<text x="626.30" y="393.50" font-size="4.60" font-weight="bold" fill="#000" text-anchor="middle" style="font-family:'Liberation Sans',sans-serif">20</text>
<text x="633.40" y="393.50" font-size="4.60" font-weight="bold" fill="#000" text-anchor="middle" style="font-family:'Liberation Sans',sans-serif">0</text>
<text x="641.00" y="393.50" font-size="4.60" font-weight="bold" fill="#000" text-anchor="middle" style="font-family:'Liberation Sans',sans-serif">-20</text>
<text x="648.50" y="393.50" font-size="4.60" font-weight="bold" fill="#000" text-anchor="middle" style="font-family:'Liberation Sans',sans-serif">-40</text>
<text x="655.70" y="393.50" font-size="4.60" font-weight="bold" fill="#000" text-anchor="middle" style="font-family:'Liberation Sans',sans-serif">-60</text>
<path d="M611.4,395.5 v2.8 M618.7,395.5 v2.8 M626.3,395.5 v2.8 M633.4,395.5 v2.8 M641.0,395.5 v2.8 M648.5,395.5 v2.8 M655.7,395.5 v2.8" stroke="#111" stroke-width="0.7"/>
<text x="625.50" y="384.70" font-size="5.20" font-weight="bold" fill="#000" text-anchor="start" style="font-family:'Liberation Sans',sans-serif">Am<tspan font-size="3.6" dy="-1.8">2</tspan><tspan dy="1.8">/T</tspan><tspan font-size="3.6" dy="-1.8">2</tspan></text>
<rect x="497.8" y="288.7" width="178.2" height="130.5" fill="none" stroke="#000" stroke-width="1.5"/>
<path d="M527.5,288.7 v5 M527.5,419.2 v-5 M557.2,288.7 v5 M557.2,419.2 v-5 M586.9,288.7 v5 M586.9,419.2 v-5 M616.6,288.7 v5 M616.6,419.2 v-5 M646.3,288.7 v5 M646.3,419.2 v-5 M497.8,413.5 h5.2 M676.0,413.5 h-5.2 M497.8,383.7 h5.2 M676.0,383.7 h-5.2 M497.8,353.9 h5.2 M676.0,353.9 h-5.2 M497.8,324.1 h5.2 M676.0,324.1 h-5.2 M497.8,294.2 h5.2 M676.0,294.2 h-5.2" stroke="#000" stroke-width="1.3" fill="none"/>
<text x="479.00" y="297.53" font-size="6.50" font-weight="bold" fill="#000" text-anchor="start" style="font-family:'Liberation Sans',sans-serif" textLength="12.50" lengthAdjust="spacingAndGlyphs">100</text>
<text x="483.00" y="327.83" font-size="6.50" font-weight="bold" fill="#000" text-anchor="start" style="font-family:'Liberation Sans',sans-serif" textLength="8.50" lengthAdjust="spacingAndGlyphs">50</text>
<text x="487.50" y="356.73" font-size="6.50" font-weight="bold" fill="#000" text-anchor="start" style="font-family:'Liberation Sans',sans-serif" textLength="4.00" lengthAdjust="spacingAndGlyphs">0</text>
<text x="480.60" y="387.33" font-size="6.50" font-weight="bold" fill="#000" text-anchor="start" style="font-family:'Liberation Sans',sans-serif" textLength="10.90" lengthAdjust="spacingAndGlyphs">-50</text>
<text x="476.60" y="416.63" font-size="6.50" font-weight="bold" fill="#000" text-anchor="start" style="font-family:'Liberation Sans',sans-serif" textLength="14.90" lengthAdjust="spacingAndGlyphs">-100</text>
<text x="500.00" y="430.93" font-size="6.50" font-weight="bold" fill="#000" text-anchor="start" style="font-family:'Liberation Sans',sans-serif" textLength="4.00" lengthAdjust="spacingAndGlyphs">0</text>
<text x="525.15" y="430.93" font-size="6.50" font-weight="bold" fill="#000" text-anchor="start" style="font-family:'Liberation Sans',sans-serif" textLength="8.50" lengthAdjust="spacingAndGlyphs">50</text>
<text x="554.65" y="430.93" font-size="6.50" font-weight="bold" fill="#000" text-anchor="start" style="font-family:'Liberation Sans',sans-serif" textLength="12.50" lengthAdjust="spacingAndGlyphs">100</text>
<text x="582.35" y="430.93" font-size="6.50" font-weight="bold" fill="#000" text-anchor="start" style="font-family:'Liberation Sans',sans-serif" textLength="12.50" lengthAdjust="spacingAndGlyphs">150</text>
<text x="611.55" y="430.93" font-size="6.50" font-weight="bold" fill="#000" text-anchor="start" style="font-family:'Liberation Sans',sans-serif" textLength="12.50" lengthAdjust="spacingAndGlyphs">200</text>
<text x="640.75" y="430.93" font-size="6.50" font-weight="bold" fill="#000" text-anchor="start" style="font-family:'Liberation Sans',sans-serif" textLength="12.50" lengthAdjust="spacingAndGlyphs">250</text>
<text x="672.05" y="430.93" font-size="6.50" font-weight="bold" fill="#000" text-anchor="start" style="font-family:'Liberation Sans',sans-serif" textLength="12.50" lengthAdjust="spacingAndGlyphs">300</text>
<text x="532.55" y="407.20" font-size="10.06" font-weight="bold" fill="#000" text-anchor="start" style="font-family:'Liberation Sans',sans-serif" textLength="45.80" lengthAdjust="spacingAndGlyphs">LMC160</text>
<text x="463.15" y="273.80" font-size="14.25" font-weight="bold" fill="#000" text-anchor="start" style="font-family:'Liberation Sans',sans-serif" textLength="15.50" lengthAdjust="spacingAndGlyphs">(f)</text>
<text x="573.65" y="444.50" font-size="9.22" font-weight="bold" fill="#000" text-anchor="start" style="font-family:'Liberation Sans',sans-serif" textLength="36.70" lengthAdjust="spacingAndGlyphs">Bc (mT)</text>
<text x="0" y="0" transform="translate(477.50 353.90) rotate(-90)" font-size="9.20" font-weight="bold" text-anchor="middle" style="font-family:'Liberation Sans',sans-serif" textLength="35.00" lengthAdjust="spacingAndGlyphs">Bu (mT)</text>
</svg></body></html>
